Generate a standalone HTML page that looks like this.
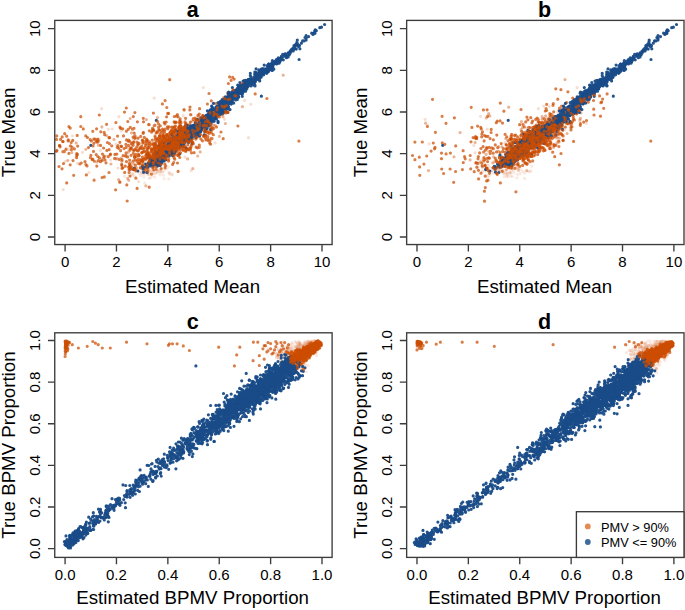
<!DOCTYPE html>
<html><head><meta charset="utf-8"><title>plots</title>
<style>
html,body{margin:0;padding:0;background:#fff;width:685px;height:610px;overflow:hidden}
svg{display:block}
text{font-family:"Liberation Sans",sans-serif;fill:#000}
.tk{font-size:15px}
.lab{font-size:18.7px}
.ttl{font-size:21.5px;font-weight:bold}
.lg{font-size:12.8px}
</style></head><body>
<svg width="685" height="610" viewBox="0 0 685 610">
<rect width="685" height="610" fill="#fff"/>
<g stroke-width="3.2" stroke-linecap="round" fill="none">
<path d="M152.6 175.7h0M154.7 177.1h0M133.7 169.4h0M169.8 174.2h0M164.1 178.6h0M148.8 169.6h0M133.7 164.2h0M158.3 162.7h0M144.1 174h0" stroke="#cc4c02" stroke-opacity="0.12"/>
<path d="M158.2 171.2h0M129.1 175h0M167 168.7h0M156.9 163.9h0M160 171.6h0M124.7 176.4h0M160.5 171.2h0M158.9 171.2h0M147.4 174.3h0M150.9 170.7h0M171.9 175h0M168.4 167.1h0M152 167.8h0M132.9 173.5h0" stroke="#cc4c02" stroke-opacity="0.12"/>
<path d="M172.4 174h0M149.2 167.4h0M141.6 172.8h0M158.7 172.7h0M168.8 172.9h0M150.1 174.1h0M142.3 171.6h0M131.6 166.3h0M144.6 159.4h0M148.3 173.4h0M159.2 171.1h0M149.1 174.4h0M154.2 173.7h0M156.8 173h0M133.2 174.9h0M129.3 162.4h0M142.6 166.6h0M160.2 174.8h0M153.5 173h0M156.5 166.8h0" stroke="#cc4c02" stroke-opacity="0.12"/>
<path d="M143.2 172.6h0M150.6 177.7h0M139.4 173.1h0M162.4 172h0M158.5 170.3h0M156.8 171.7h0M144 169.9h0M161.4 172.2h0M148.2 167.7h0M143.8 176.9h0M154.2 165.2h0M149.2 170.1h0M142.5 165.7h0M148.6 174.2h0M148.6 170h0" stroke="#cc4c02" stroke-opacity="0.12"/>
<path d="M145.6 171.1h0M151.8 162.9h0M141.9 172.2h0M140.9 167h0M163.9 171.1h0M130.8 170.4h0M141.4 171.9h0M169.7 172.5h0M147.5 169.7h0M132 174.2h0M148.4 169.4h0M134.7 176.6h0M149.9 171.5h0M168.8 178.9h0M161.6 171.1h0" stroke="#cc4c02" stroke-opacity="0.12"/>
<path d="M136.2 171.2h0M153.3 173.5h0M140.4 175.6h0M164.5 166.4h0M160.8 169.1h0M149.1 178.3h0M135.4 167.1h0M132.2 168.2h0M155.9 172.9h0M148 172.7h0M163.3 175.1h0M142.3 173.8h0M130.2 168.1h0M152.6 170.9h0M145.7 171h0M148.1 170.5h0M144.7 183.2h0" stroke="#cc4c02" stroke-opacity="0.12"/>
<path d="M185.9 150.2h0M175.4 144.2h0M157.7 151.4h0M190.7 122.1h0M161.6 145.7h0M151.7 149.7h0M168.6 152h0M151.2 158.2h0M105.8 156.1h0M170.7 130.8h0M191.5 114.8h0M183.8 140.2h0M177.9 137.7h0M144.5 143.1h0M190.7 126.4h0M162 149.9h0M165.5 146.6h0M150 154.3h0M161.8 152.1h0M187.1 135.3h0M174.5 137.9h0M170.2 141h0M199.7 122.3h0M155 154.5h0M189 129.6h0M194 121.7h0M183.2 115.7h0M110.6 159.9h0M116.1 144.3h0M77.5 163.4h0M121.2 130.8h0M118.9 116.7h0M189 150.9h0M181.5 140.2h0M182.3 127.7h0M248.5 137.7h0M183.3 128.3h0M224.6 119.3h0M171.7 141.5h0M101.7 108.7h0" stroke="#cc4c02" stroke-opacity="0.18"/>
<path d="M164.9 149.9h0M189.2 137.9h0M164.7 147.4h0M175.1 124.1h0M152.5 167h0M167.1 136.6h0M175.5 134.4h0M147.4 157.4h0M180.6 137.6h0M174.5 150h0M156.1 151.1h0M138.7 147.2h0M198 116.4h0M169.3 142.6h0M155.7 154.9h0M182.1 122.7h0M178.8 132h0M177 132h0M156.9 157h0M146 160h0M145.6 160.3h0M160.3 157h0M131.4 167.9h0M184.9 157.1h0M72.4 135.8h0M68.7 149.4h0M117.9 168h0M82.5 152.4h0M108.3 129.3h0M133.4 139.2h0M250.8 104.3h0M181.6 129.2h0M193.1 142h0M244.6 100.4h0M241.7 85.3h0" stroke="#cc4c02" stroke-opacity="0.18"/>
<path d="M175.4 140h0M138.9 159.5h0M154.7 152.1h0M138.1 154h0M192.7 121.2h0M144.1 156.7h0M183.6 140.4h0M162.8 143.4h0M151.2 151.4h0M181.7 139.5h0M176.6 134.4h0M157.9 154.3h0M179.9 122.9h0M165.5 156.2h0M199.7 121.1h0M155.1 150.4h0M134.1 167.1h0M197.8 136.5h0M177.7 145.5h0M179.7 132.9h0M127.2 154.9h0M137.5 170.8h0M128.6 150.1h0M198.2 123h0M216.6 103.9h0M170.6 151.7h0M191.2 170.6h0M257.7 73.8h0M172.8 156.3h0M215.1 142.9h0M205.5 119.2h0" stroke="#cc4c02" stroke-opacity="0.18"/>
<path d="M178.5 140.4h0M178.4 146.8h0M151.2 160.7h0M150.7 151.8h0M174 145.4h0M164.3 147h0M161.8 148.5h0M166.6 150h0M173 140.1h0M166.9 127.5h0M165.3 133.9h0M160.6 150h0M159.9 146.2h0M209.4 132.2h0M198.6 134.9h0M155.7 141.7h0M174 143.8h0M171.3 138.5h0M181.5 128.7h0M143 159h0M195.4 134h0M170.1 140.7h0M171.4 144.7h0M152.9 169.9h0M88.9 172.6h0M72.1 140.5h0M100.4 150.3h0M112.2 129h0M66.5 148.4h0M65.2 161.4h0M63.2 189.6h0M127.1 140.7h0M203.3 87.6h0M138.6 181.6h0M229.6 93.4h0M223.2 98h0M208.1 119.9h0M219.7 107.8h0M154.2 98.1h0" stroke="#cc4c02" stroke-opacity="0.18"/>
<path d="M206.8 123.7h0M180.6 143h0M168 142.3h0M199.5 136.9h0M162.9 146.6h0M166.9 141.2h0M170.4 144.8h0M142.5 164.5h0M143.2 162.5h0M185.7 142.6h0M140.4 147.9h0M167.3 140.8h0M171.6 139.2h0M166.5 150.3h0M152.8 167.3h0M163.4 136.8h0M181.4 142h0M160.2 147.9h0M154.5 146.2h0M186.3 127.4h0M147.9 163.4h0M189 137.1h0M157.7 151h0M142.8 151.3h0M151.6 152.8h0M71.8 152.5h0M85.8 149.3h0M106.6 135.6h0M98 142.2h0M133.2 163.3h0M98.4 145.2h0M110.9 164h0M134.9 157.8h0M131.5 162.4h0M180.4 133h0M283.2 75.2h0M225.4 123.5h0M242.4 106.7h0M219.4 136.3h0M174.9 138.9h0M197.7 126.7h0M187 140.9h0" stroke="#cc4c02" stroke-opacity="0.42"/>
<path d="M158.5 146.9h0M166.1 150.2h0M160.2 147.1h0M172.3 127.8h0M170 139.8h0M155.6 148.9h0M166.5 147.3h0M191.8 125.8h0M128.8 167.2h0M184.9 136h0M154.6 149.2h0M182.8 139.9h0M153.6 145.1h0M164.2 132.9h0M170.2 144.9h0M144.6 172h0M159.4 149.1h0M172.7 127.2h0M180.8 142.6h0M150.7 148.7h0M161.8 156.8h0M148.7 147.6h0M200 117.4h0M162.8 139.1h0M196.6 132.5h0M174.6 152.3h0M132.7 168.1h0M95.7 141.9h0M76.2 142.9h0M121 158.2h0M67.8 160.5h0M134.5 156.8h0M128.4 152.2h0M117.1 158.3h0M132 145.9h0M98.9 139.9h0M130.2 118.5h0M145.9 185.8h0M151.2 145.2h0M187.6 158.9h0M209.1 118.9h0M148.4 124.4h0" stroke="#cc4c02" stroke-opacity="0.42"/>
<path d="M182.4 147.6h0M159.5 147.4h0M168.4 156h0M182.3 131.7h0M193.7 127.1h0M188 139h0M181.9 130.9h0M181.4 130.5h0M180.1 130.3h0M200 134h0M145.7 159.4h0M192.6 142.2h0M164.4 160h0M186.5 136.5h0M156.7 145.2h0M148.1 152.7h0M176.7 143.8h0M215.5 125.5h0M147.6 149.1h0M155.5 160.6h0M203.7 125.8h0M178.1 149.7h0M154.6 155.4h0M128.7 180.3h0M161.9 146.6h0M187.1 140.9h0M169.3 137.5h0M125.9 156.7h0M114 139.4h0M192.8 168.6h0M153.5 164.5h0M184.2 110.3h0M216.4 108.2h0M227.4 92.8h0M223.5 97.5h0M212 124.3h0M211.8 130.6h0M157.5 117.6h0" stroke="#cc4c02" stroke-opacity="0.42"/>
<path d="M164.1 153.6h0M146.4 119.6h0M127.7 178.4h0M140.5 168.1h0M166.7 134.9h0M191.1 141.3h0M156.9 147.8h0M145.6 167h0M223 116.7h0M159 154.3h0M136.7 167.9h0M158.4 152.5h0M175.5 144.2h0M144.2 168.6h0M184.4 136.8h0M186.8 132.9h0M178 140.5h0M169.4 149.4h0M177.3 139.5h0M173.6 146.4h0M181.3 138.6h0M146.9 151h0M118.6 179.6h0M174.1 155.3h0M163.6 149.8h0M163.8 149.1h0M159.2 149.8h0M150.4 161.3h0M161.6 146.6h0M176.5 146.6h0M154.3 155h0M148.1 157.3h0M163.6 141.1h0M130.3 169.7h0M101.2 159.5h0M135.9 137.8h0M115.9 159h0M101.9 126.9h0M121.7 161.3h0M96.5 162h0M131.4 132.8h0M132 142.4h0M119.9 182.4h0M200.2 151.9h0M197.7 156h0M216.8 117.6h0M213.8 125.2h0" stroke="#cc4c02" stroke-opacity="0.42"/>
<path d="M169.6 147.4h0M275.8 62.8h0M281.4 57.4h0M252.9 80h0M218 111.3h0M263.7 74.7h0M203.7 116.5h0M268.8 69.6h0M177.8 144h0M154.3 160.8h0M191.3 128.4h0M190 128.5h0M208.3 121h0M188.4 131.3h0M166.5 148.7h0M150.8 164.7h0M186.7 130.2h0M201.7 119.9h0M243.1 81h0M276.6 64h0M171.5 149.6h0M157.4 162.8h0M168.2 147h0M191.7 126.6h0M156.3 153.9h0M229.5 102.4h0M218.4 109.3h0M211.4 122.2h0M156.3 157.2h0M200.3 127.9h0M191.2 139.2h0M211.6 106.2h0M298.4 46.5h0M152 160.6h0M225.7 99.8h0M269.6 68.1h0M195.3 133.2h0M171 147.6h0M217.9 109.3h0M251.7 79.5h0M163.7 149.9h0M222.5 101.1h0M199 122h0M146.6 165.5h0M293.6 47.7h0M155.2 157.8h0M306.1 35.5h0M207.1 128.5h0M180 135.8h0M205.9 123.8h0M200.5 125h0M291.6 49.6h0M154.3 154.2h0M274.5 61.3h0M200.3 124.6h0M240.3 87.1h0M197.5 130.3h0M161.2 152.3h0M268.5 66.9h0M232.8 97.4h0M279.3 61.6h0M209.2 116.4h0M221.6 105.3h0M167.8 149.7h0M202.5 128h0M155.7 159.1h0M173 147.3h0M260.5 72.2h0M155.9 164.7h0M221.9 104.7h0M223.8 112.5h0M200.4 128.6h0M285.1 54.8h0M193.1 128.3h0M203.5 121.1h0M211 113.1h0M244.3 86.8h0M154.4 161.7h0M170.9 153h0M166.2 152.6h0M154.7 164.5h0M272.1 67.5h0M224.5 103.6h0M177.5 148h0M171.5 151.5h0M232.9 92.7h0M220.9 108.2h0M199.7 128.3h0M197.9 129.2h0M199.9 126.6h0M228.4 103.2h0M187.8 129.6h0M214.8 117.5h0M265.9 68.8h0M186.9 130.7h0M258.8 69.9h0M173.4 147.4h0M235.9 92.1h0M233.3 97.1h0M208.9 118.7h0M268.5 65.7h0M255.1 81.4h0M268.4 68.5h0M278.4 62.8h0M187 136.3h0M179.9 142.1h0M187.2 132h0M193.4 132.9h0M187.5 128.6h0M143.6 172.2h0M271.9 62.9h0M183.9 140.8h0M181.8 131.1h0M299.5 45.6h0M272.3 70.5h0M191.8 131.6h0M170.8 146.3h0M214.9 112.7h0M235.9 95.6h0M230.9 96.6h0M157.8 161.1h0M232.7 98h0M167.4 147.1h0M261.3 69.4h0M236.9 92.3h0M293.2 50.9h0M207.3 122.6h0M206.8 116.2h0M172 147.2h0M193.3 129.8h0M268 71.5h0M179.1 138.5h0M173.2 144.3h0M240.6 85.8h0M258.6 75.6h0M200.7 127.1h0M244 89.3h0M242.9 92h0M161.8 153.8h0M244 86.8h0M173.6 140.7h0M160.8 154.7h0M174.5 147.7h0M220.6 102.2h0M173.5 140.5h0M216.2 107.1h0M294.9 45.8h0M221.9 106.8h0M244.6 87.5h0M235.4 94.3h0M223.7 105.2h0M198.1 132.1h0M256.3 72.5h0M235.6 90h0M173.2 145.1h0M230 109.6h0M245.6 83.6h0M279.1 63.2h0M238.2 95.7h0M167.4 149.5h0M212.7 110.1h0M214.2 121.2h0M167.7 152.2h0M173 136.7h0M237.4 88.4h0M236.9 93.3h0M189.6 130.2h0M156.8 157.4h0M202.4 118.3h0M205.7 121.2h0M228.5 106.6h0M201.5 119.9h0M253.3 81.1h0M216.5 112.3h0M231.1 96.3h0M240.9 92.1h0M176.8 143.6h0M249.8 80.2h0M269.8 65.5h0M195.4 134.7h0M197.5 125h0M223.8 109.5h0M221.8 106.1h0M161.6 154.1h0M161.4 156.9h0M164.5 151.3h0M245.5 87.3h0M154.9 153.9h0M227.5 112.4h0M229.5 97.4h0M221.6 108.6h0M225.8 101.8h0M167.7 150.1h0M148.1 155.4h0M211.6 120.6h0M235.3 96h0M226.3 106h0M192.2 136h0M236 96.5h0M278.9 59.4h0M233.1 96.5h0M222.3 102.1h0M215.6 111.9h0M279.3 59.2h0M207.9 117.5h0M261.1 72.7h0M230.7 94.6h0M171.6 148.7h0M196.1 137.7h0M263 70.9h0M179 142.1h0M281.2 58.4h0M314.7 31.1h0M319.8 27.7h0M280.4 58.7h0M245.6 87.8h0M151.2 162h0M216.2 110.7h0M174.3 147.1h0M242.5 88.3h0M182.5 135.4h0M165.3 159.5h0M160.3 148.8h0M196.1 133.8h0M201.2 124.8h0M190.1 127.7h0M181.3 144.2h0M215.8 107.3h0M233.5 96.7h0M186.4 135.9h0M166.1 149.5h0M197.1 131.4h0M257.3 74.5h0M244 88.8h0M150.3 165.9h0M243.8 87.1h0M220.5 107h0M215.7 113.8h0M250.3 75.6h0M186.8 132.7h0M217.4 106.1h0M217.5 108.8h0M176.9 140.9h0M244 82.6h0M214.1 115.8h0M254.6 81.9h0M222.5 109.3h0M186.6 138h0M183 137.2h0M193.6 129.9h0M237.4 89.3h0M205.4 129.2h0M155.5 162h0M225.7 101.3h0M261.5 71.8h0M133.7 169.6h0M226 106.6h0M179.7 142.9h0M261.4 72.3h0M175.1 148.9h0M206.3 116.8h0M214.8 116.2h0M229.7 99.1h0M238 95.4h0M280 60.2h0M165.5 145.6h0M187.7 136.4h0M171.9 149.7h0M239.9 82.5h0M231.8 94h0M237.6 92.5h0M245 83.6h0M271 67.3h0M162 159.7h0M231.8 101.7h0M163.3 155.6h0M185.7 131.2h0M233.5 94.4h0M147 172.5h0M217.9 110.9h0M225.7 109.1h0M185.3 130h0M227.3 96.9h0M172.5 154.3h0M164 153h0M180.7 138.5h0M190.3 134.5h0M162.7 159.3h0M222 104h0M171.2 147.3h0M245.6 91.2h0M162.3 142.7h0M246.1 86h0M193.6 131.5h0M234.5 93.6h0M281.4 59.2h0M201.8 125.6h0M192.6 129h0M243.4 87.8h0M227.3 98.5h0M250.1 79.6h0M272.8 64.1h0M163.3 152.7h0M263.6 74.9h0M256.2 78.4h0M229 102.6h0M221.3 107.4h0M276 62h0M183.5 139.6h0M218 121.3h0M157.8 158.6h0M297.1 41.9h0M182.1 137.2h0M201 123.3h0M324.6 24.5h0M313 34.5h0M297.3 40.1h0M299.1 46.4h0M295 48.4h0M284.7 54.1h0M299.1 59.5h0" stroke="#184b87" stroke-opacity="0.95"/>
<path d="M141.7 152.6h0M179.5 137h0M168.8 142h0M159.8 146h0M199.3 114.1h0M171.5 154.8h0M164 136.7h0M134.8 155.5h0M147 167.3h0M167.8 128.8h0M190.3 140.8h0M160.1 162.7h0M175.2 129.8h0M195.2 118.1h0M180.1 144h0M157.3 132.2h0M170.5 143.2h0M171.6 134.6h0M173.5 153h0M171.7 147.8h0M158.4 145.9h0M140 163.9h0M164.7 151.7h0M166.5 135.2h0M175.1 142.1h0M182.5 138.1h0M149.4 143.4h0M159.7 130h0M174.9 122.4h0M163.3 138.5h0M194.7 129.9h0M186.4 137.1h0M171.7 147.5h0M165 138.2h0M174.4 138.1h0M185.3 138.1h0M187.6 132.3h0M170.3 148.6h0M160.3 125.8h0M168.3 141.3h0M150.2 156.3h0M162.2 152.2h0M172 141.7h0M153.8 130.5h0M174.9 144.5h0M173.1 131.5h0M209.9 131.7h0M150.4 156.5h0M149.1 124.7h0M173.6 145.8h0M183.7 133.3h0M173.3 146.7h0M138.2 163.5h0M160.3 147.7h0M135.6 154.3h0M155 136.1h0M160.2 143.6h0M163.6 150.7h0M205.5 138.1h0M174.9 136.2h0M175.6 142.7h0M147.1 149h0M174 131.8h0M161.9 153.6h0M142.8 140.6h0M183.7 132.2h0M155.1 150.9h0M130.1 164.9h0M163 144.8h0M131.1 155.3h0M174.2 149.7h0M179.8 125.4h0M165.9 148h0M146.8 157.5h0M196.9 134.7h0M180.8 122.7h0M120.7 128.4h0M119.1 159.5h0M100.5 161.7h0M76.6 157.7h0M77.7 146.1h0M62.9 151.7h0M70.4 145.9h0M96.4 140.4h0M80 163.9h0M81.2 163h0M68.3 139.9h0M104.7 134.7h0M74.4 148.9h0M64.3 151.7h0M95 139h0M80.8 126.5h0M126.5 161.6h0M123.1 155.7h0M138.5 150.4h0M137.1 142.1h0M196.1 147.2h0M152.2 161.4h0M182.4 132.3h0M151.2 163h0M163.1 160.6h0M204 136.5h0M174.5 126.9h0M208.7 114.5h0M177.2 145.2h0M165.1 153.5h0M216.2 103.3h0M229.6 76.9h0M234.1 79.1h0M219.3 102.8h0M221.5 107.1h0M185.7 151.5h0M208.5 115.9h0M186.3 148.7h0M211.3 100.8h0M193.1 138.5h0M207 130.6h0M215.5 117h0M222.8 114.1h0M208 140.5h0M184.6 142.2h0M179 146h0M229.6 96h0M143.5 121.8h0M130.3 127.4h0M126.3 108h0" stroke="#cc4c02" stroke-opacity="0.72"/>
<path d="M168.7 150.2h0M223.7 101.4h0M213.1 114.9h0M231.5 98.6h0M173.6 152.3h0M248.4 83.6h0M222.5 106.5h0M180.4 140.1h0M168.4 149.9h0M186.7 137.6h0M210.6 129.3h0M170.8 148.3h0M177.5 141h0M209.2 120h0M269.5 66.4h0M238.7 97h0M160.9 159.7h0M221.4 106.4h0M163.5 153.5h0M153.9 164.1h0M206 118.2h0M241.2 89.4h0M160.7 157.5h0M268.3 69.2h0M165.2 154.1h0M257.9 74h0M176.2 139.8h0M185.1 139.9h0M155.3 159.3h0M165.6 159.9h0M321.5 27.2h0M177.2 135.4h0M227.1 105.9h0M183.9 144h0M166.9 151.2h0M195.1 130.7h0M186.5 130h0M169.8 153.4h0M162.5 153.3h0M251.2 82.4h0M237.1 90.8h0M181.6 134.9h0M214.9 118.6h0M222.3 103.6h0M192 126.8h0M200.5 123h0M212.7 107.7h0M249.2 85.3h0M242.8 86.9h0M228 99.8h0M235.3 95.6h0M205.2 120.7h0M162.9 159.3h0M233.4 90.8h0M263.7 70.1h0M208.9 122.3h0M167.1 147.3h0M208.5 113.9h0M172.1 151.8h0M216 112.4h0M166.8 150.2h0M238.7 93.2h0M241.7 90.3h0M161.7 154.1h0M170.7 146.2h0M161 155.4h0M196.4 125.2h0M206.6 121.1h0M264 72.5h0M272.7 65.8h0M266 70h0M170.7 147.2h0M213.5 103.4h0M228.4 96.4h0M271.1 64.2h0M236.5 96.2h0M173.7 147.3h0M191 130.9h0M199.6 125.5h0M220.2 106.5h0M272.8 67.3h0M181.8 139.2h0M156.9 164.7h0M236.5 90.6h0M250.1 85.5h0M173.1 153.7h0M192.9 135.5h0M153.8 154.5h0M241.2 87.8h0M164.8 147.2h0M148.1 163.6h0M173.1 141h0M157.2 152.7h0M237.8 90.6h0M255.6 79.1h0M182.2 139.4h0M249.9 79.1h0M176 140.7h0M192.1 136.9h0M187.8 132.6h0M197.8 127.8h0M262.8 68.7h0M187.7 134.9h0M245.7 80.3h0M172.1 143.4h0M244.5 87.7h0M235.2 92h0M246.6 84.1h0M268.6 71.3h0M198.6 135.6h0M260.4 77.7h0M166 154.7h0M206.7 121.4h0M212.9 113.9h0M170.6 147.3h0M222.2 113.4h0M204.1 117.8h0M184.1 138.9h0M179.5 140.6h0M151.6 163.6h0M176 130.4h0M175 148.5h0M179.8 141h0M170.3 147.4h0M225.5 101.9h0M196.6 126h0M221 108.5h0M158.5 156.9h0M226.4 101h0M288.1 57h0M154.5 156.7h0M269.4 66.8h0M297.5 44.5h0M210.1 125.1h0M220.8 104.9h0M226.6 100h0M273.8 64h0M296.3 49.1h0M268.6 69.5h0M226.2 103.5h0M189.5 133.8h0M208.2 119.4h0M227.5 104.5h0M192.1 143.5h0M266.1 72.5h0M166.6 152.4h0M193.3 129.7h0M305 37.5h0M180.3 134.3h0M163.2 159.8h0M206.8 119.2h0M186 140.2h0M234.8 91.7h0M163.6 148.7h0M159.1 152.1h0M176.9 139.8h0M177.6 142.5h0M180.3 142.4h0M209.7 118.4h0M171.5 145.2h0M185.4 139.2h0M172.1 145.2h0M158.9 154.7h0M182.5 138.3h0M228.7 92.1h0M209.5 111.5h0M176.5 144.2h0M240.3 85.6h0M183.4 132.5h0M204.1 125.9h0M188.5 142.6h0M159 145.9h0M212.5 109.2h0M193.6 129.8h0M202.3 126.3h0M185.8 135.8h0M258.1 75.8h0M194.1 125.6h0M187.3 132.6h0M262.2 73.7h0M224.3 99.6h0M186 138.1h0M188.3 141h0M256.2 74.2h0M148 155.2h0M191.8 127.9h0M221.2 107.8h0M251.2 80.8h0M271.6 65.1h0M183.5 137.3h0M270.9 65.4h0M251.3 83.1h0M185.8 147.8h0M178.7 136.4h0M190.3 136.2h0M163.2 147h0M242.7 88.9h0M216.6 107.4h0M220.7 106.9h0M160.2 162h0M168 142.1h0M251.4 77.3h0M201 122.8h0M208.7 119.1h0M163.1 156.2h0M222.4 110.5h0M263.5 70.3h0M216.2 110.6h0M218.3 113.5h0M308.6 36.6h0M214.5 115.5h0M225 98.5h0M177.3 141.6h0M232.4 97.9h0M163.9 160.4h0M220.9 104.3h0M165.5 156.6h0M180.1 141h0M206.4 121.1h0M187.4 130.1h0M162.7 152.4h0M202.2 124.8h0M169.2 156.1h0M198.4 133h0M221.2 111h0M259.2 71.6h0M217.9 115.3h0M161.3 163.4h0M187.2 134.1h0M201.2 125.4h0M251 85.9h0M147.3 165.9h0M230.8 101.2h0M199.8 124.1h0M226.3 101.4h0M201.4 117.8h0M182.4 135.3h0M178.6 134.9h0M272.5 64.7h0M233.1 96.8h0M268.8 68.5h0M161.6 162.7h0M184.8 126.6h0M248.4 79.3h0M263.1 71.8h0M175.5 141.4h0M218.8 105.6h0M241.7 86.6h0M241.7 89.4h0M213.6 109.4h0M197.9 135.1h0M256.1 68.9h0M236.2 97.9h0M199.1 127.9h0M178.3 139.5h0M234 92.8h0M207.9 115.8h0M256 78.6h0M240.8 85.1h0M190.7 135.3h0M197.2 131.9h0M273.8 69.2h0M267.4 72.4h0M232 94.3h0M232 94.5h0M173.9 141.9h0M233.4 97.9h0M207.5 115.8h0M249.9 80.9h0M246.9 86.9h0M214.4 113.4h0M204.2 134.8h0M263.3 72.2h0M150 161.1h0M180.9 140.9h0M306.2 38.3h0M222.5 103.4h0M174.5 144.9h0M179.3 134.8h0M204.8 131.6h0M212 115.2h0M260.8 76.8h0M289.1 55.1h0M176.1 148.1h0M187.3 140.4h0M170 150.5h0M281.3 56.4h0M206.7 126h0M196.8 130.5h0M185.7 139.2h0M192.3 128.4h0M169.8 140.4h0M165.4 150.2h0M242.1 94.1h0M184 143h0M134.4 168.3h0M151.8 160.3h0M160.2 156h0M232.1 100.7h0M221.6 112.7h0M280.8 58.7h0M179.8 133.7h0M177.4 145.9h0M280.3 58.7h0M273.1 65.5h0M208.9 116.2h0M295.7 45.4h0M191.3 132.7h0M164.3 148.7h0M201.5 123.4h0M200.4 132h0M199 126h0M231.2 94.9h0M250.1 84.2h0M315.6 30.8h0M242.3 96.3h0M250.4 78.9h0M228.5 102.2h0M225.1 101.8h0M260.7 75.7h0M237.2 92.6h0M266.7 73.3h0M161.4 157.6h0M171.5 149.6h0M198 125.1h0M168.5 154.8h0M237.8 94.4h0M260.4 75.4h0M294 45.5h0M231.8 93.8h0M190 138.9h0M235.3 95.8h0M202.6 118.3h0M202.5 124.3h0M179.1 136h0M287.5 56.5h0M165.3 156.9h0M212.1 108.5h0M203.2 116.9h0M213.1 115.9h0M176.8 139.6h0M201.7 128.4h0M215.8 111.9h0M172.2 145.7h0M211.3 119h0M198.9 130.4h0M316.3 30.7h0M311.7 33.2h0M306.1 40.1h0M288.6 53.2h0M301.4 43.2h0" stroke="#184b87" stroke-opacity="0.95"/>
<path d="M190.2 139.2h0M174 131.9h0M179.7 145.9h0M187.8 125.7h0M169.2 145.6h0M166.9 134.6h0M191.5 144.8h0M169.8 147.3h0M131 168.6h0M178.2 143.3h0M133.7 150.5h0M164.7 138.6h0M162.1 141.3h0M165.8 139.9h0M163.4 149.6h0M140.6 147.9h0M163.8 144.8h0M163 130.7h0M178 146.5h0M162.7 153.2h0M142.7 143.1h0M155 156.7h0M157.6 138.6h0M163.1 143.2h0M161.7 147.3h0M181 146.3h0M177.1 134h0M170.2 143.8h0M151.3 151.2h0M181.8 143.9h0M163 148.2h0M158.1 148h0M191.1 132h0M146.1 158.6h0M187.4 133.2h0M158.7 151.9h0M180.3 126.7h0M164.5 144h0M167.4 144.4h0M172 149.6h0M145.2 158.1h0M146.5 154.5h0M167 137.9h0M155.4 139.5h0M157.3 162.8h0M163.1 135.9h0M179.3 128.7h0M171.2 150.8h0M176 122h0M170.6 133.8h0M158.3 155.8h0M129.3 163.7h0M148.8 162.2h0M172.7 151.7h0M189.5 124.5h0M180 126.5h0M184.8 127.3h0M140.7 136.4h0M186.1 123.5h0M173.3 142.6h0M193.3 143.8h0M201.1 127.2h0M178 139h0M189 136.7h0M162.9 147.2h0M172 135h0M177.6 147.2h0M164.8 163.8h0M173.5 132.8h0M149.5 154.8h0M154.6 152.1h0M180.6 125.8h0M180.9 139.4h0M153.9 143.2h0M180.7 127.4h0M177 143.7h0M177 138.8h0M159.2 151.3h0M179.5 127h0M150.2 158.1h0M139.3 155.6h0M208.9 133.4h0M138.9 163.4h0M152.4 130.4h0M167.8 139.3h0M205.5 131.4h0M171.3 146.8h0M159 151.3h0M193.5 131.6h0M66.7 136.2h0M136.1 156.5h0M102.1 177.5h0M92.8 131.3h0M85.9 164.6h0M85.8 135.9h0M90.9 155.3h0M117.2 147.3h0M71.2 142.5h0M126.5 139.9h0M119.8 181.9h0M56.9 150.4h0M90.4 157.5h0M98.4 160.7h0M70.2 128.1h0M125.9 144.4h0M133.1 137.2h0M126.2 147.4h0M130.1 176.1h0M116.8 154.1h0M137.9 145h0M209 93.5h0M223.2 138.7h0M256.7 76.9h0M178.3 155.1h0M212.1 129.3h0M196.6 119.8h0M207.9 136.6h0M213.3 134.7h0M179.3 144.8h0M142.8 168.6h0M233.5 96.6h0M176.4 137.4h0M228.1 94.3h0M244.8 85h0M166.8 107.5h0M190 107h0M120 127.2h0" stroke="#cc4c02" stroke-opacity="0.72"/>
<path d="M213.1 117.1h0M233.7 98.6h0M207.4 110.8h0M210.5 118.2h0M271.3 69.9h0M168.8 144.6h0M234.6 95h0M159.3 165.1h0M191.9 136.3h0M259.4 79.2h0M177 144.5h0M157.4 166.1h0M186.6 134.5h0M242.4 93.3h0M299.9 48.8h0M191.2 134.5h0M183.1 140.7h0M255 73.8h0M242.6 90h0M212.8 108.4h0M168.9 146.5h0M208.6 124.8h0M196.2 130.3h0M231.3 103.8h0M158.2 162.4h0M226.7 99.3h0M168.9 150h0M288.2 52.9h0M270.8 67.2h0M247.6 82.5h0M185.1 141.7h0M187.3 136.5h0M248.3 80.8h0M228.7 94.6h0M239.8 85.8h0M197.3 126.2h0M262.5 70.5h0M238.1 85.6h0M246.7 83.5h0M221.5 110.6h0M217.4 109.8h0M249.7 80.9h0M261.9 70.3h0M195.8 127.5h0M167.3 156.1h0M227 104.7h0M261.9 74.7h0M262.2 73.4h0M193.6 127.3h0M212.6 115.2h0M178.5 141.5h0M225.5 104.9h0M154.5 162.6h0M158.9 160.8h0M192.8 126h0M251.1 80.4h0M169.4 152.8h0M177.7 147.4h0M238.5 91.5h0M195.5 136.4h0M290.2 51.1h0M210.7 117.7h0M174.6 149.2h0M174.1 147.2h0M200.2 127.6h0M214.5 113.6h0M209.3 120.4h0M205.4 123.3h0M223.4 106.9h0M211.3 110.2h0M155.8 152.3h0M266.2 70.2h0M171.5 142.3h0M225 110.7h0M137.9 171h0M201.5 130h0M217.7 110.2h0M201.8 118.8h0M254.2 79.7h0M272.5 64.6h0M199.2 122.5h0M233.3 94.8h0M237.3 99.5h0M234.8 96.8h0M200 124.6h0M183.3 135h0M171.7 134.3h0M188.4 140.4h0M233.8 96.9h0M232.5 95.5h0M223.8 110.4h0M238.3 94.1h0M278.5 61.5h0M275.6 63.4h0M251.3 82.9h0M224.9 103.2h0M288.8 54.6h0M173.2 143.3h0M228.4 100.6h0M214 115.4h0M186.7 128.3h0M206.4 116.9h0M182.2 138.1h0M284 56.3h0M279.2 59.3h0M247.7 86.8h0M221.6 110.3h0M240.5 92.7h0M204.1 119.6h0M302.6 40.9h0M290 53.5h0M171.1 146.5h0M208.1 121.7h0M239.3 87h0M195 136h0M145.6 164h0M261.6 73.3h0M182.4 145.3h0M216.5 115.9h0M231.1 94.6h0M251.1 83.5h0M213 121.1h0M218.8 105.7h0M244.3 80.6h0M205.8 123.6h0M188.9 131.1h0M160.4 151.4h0M276.4 59.7h0M257.7 76.7h0M272.4 65.8h0M304 40.9h0M218.1 110.7h0M173.7 151.2h0M188.1 131.9h0M285.7 55.4h0M255.3 81.5h0M280.3 60.5h0M142.6 166.3h0M204.5 121h0M175.5 144.1h0M173 147.4h0M194.9 128.1h0M232.4 87.6h0M155.2 160.7h0M194.8 128.2h0M237.1 98.5h0M162.8 154.1h0M224.3 112.1h0M218.7 108.8h0M297.7 45.1h0M176 150.8h0M257.4 77.6h0M199.6 135.8h0M262.2 72.1h0M187.4 139h0M175 139.8h0M255.4 75.1h0M182 136.2h0M216.5 119h0M237.7 85h0M243.2 84.9h0M204.6 122.5h0M264.5 70h0M177 140.2h0M162.4 155.4h0M216.8 106.6h0M165.3 149.3h0M182.6 140.1h0M195.5 123.7h0M184 134.2h0M242.7 90.1h0M220.9 106.8h0M158 158.2h0M183.6 134.8h0M268.6 64h0M182.7 142.8h0M216.8 110.3h0M194.5 133.1h0M219.2 108.6h0M204.2 119.8h0M181.5 142.2h0M223.3 106.2h0M222 107.1h0M220.7 103.9h0M190.5 131.5h0M218.3 102.6h0M225.9 102.7h0M172.3 147.4h0M165.9 155.1h0M143.1 169.1h0M196.3 127.5h0M295.9 44.2h0M239 89.7h0M201.7 122.5h0M163.9 148.5h0M186.6 131.9h0M210.4 111.3h0M183.5 140.5h0M204.8 124.4h0M239.6 89.8h0M235.6 99.9h0M142.4 166.7h0M182.7 139.4h0M204.2 123.8h0M267.1 65.7h0M187 133.5h0M156.9 159.2h0M233.3 96h0M172.6 144h0M225.3 96.9h0M190.6 126.1h0M241.7 91.2h0M254.7 82.5h0M150.5 158.3h0M163.4 154.7h0M240.5 91.1h0M203.1 125.1h0M280.5 59.2h0M151 164.3h0M174.5 145.1h0M200.2 121.9h0M276.7 62.5h0M275.7 62.3h0M238.3 90h0M206.6 120.1h0M241.2 93.7h0M164 155.5h0M189.8 131.3h0M175.7 142.2h0M246 86.2h0M235.9 96.1h0M226.1 98.2h0M243.6 91.2h0M201.1 119.5h0M206.5 119.2h0M231 92.6h0M204.4 126.9h0M201.8 127.2h0M206.8 118.9h0M194.9 124.5h0M270.6 66.6h0M164.4 142.7h0M254.8 72h0M181.1 129.9h0M183.7 142.9h0M257.4 77.5h0M248.9 82.3h0M219.1 110h0M245.3 82.6h0M254.2 79.9h0M176.9 136.8h0M227.4 101.9h0M211 111.9h0M163.3 161.1h0M183.1 132.4h0M226.4 104.5h0M227.1 98h0M160.1 165.6h0M197.5 119.4h0M188.4 138.9h0M259.1 75.3h0M201.6 123.8h0M245.6 86.1h0M149 163.7h0M168.8 140.8h0M168.1 147.5h0M162.8 156.4h0M244.3 84.6h0M209.9 121.9h0M224.8 98.8h0M272.4 64.5h0M265.6 72.2h0M175.9 150.8h0M229.5 99.5h0M166.4 146h0M255.7 73.2h0M227.2 103.7h0M259.7 72.8h0M293.6 49.2h0M243.1 90.7h0M166.8 147.5h0M250.9 82.9h0M186.3 133.1h0M242.1 89.1h0M180.6 139.4h0M192.9 131.3h0M185.8 135.3h0M226 107.9h0M177.1 142.3h0M233.7 103.1h0M224 110.6h0M255.5 77.3h0M245 86.8h0M206.9 122.9h0M238.6 87h0M313.8 33h0M212.8 113.8h0M240.2 88.2h0M211.8 120.4h0M180.4 138.7h0M232.6 97.7h0M166.9 150.1h0M188.2 134.2h0M177.8 147h0M218.2 112.8h0M216 109.3h0M198.5 128.3h0M210.2 118.4h0M202.7 120.9h0M232.7 94.4h0M156.3 120.3h0" stroke="#184b87" stroke-opacity="0.95"/>
<path d="M157.6 140.1h0M158.9 140.9h0M173.7 162.5h0M177.9 135.5h0M141.7 146.1h0M159.3 164.9h0M186 139.1h0M156.3 164.3h0M170.3 144.7h0M175.3 137.1h0M146.7 139.2h0M189 129.1h0M121.8 165.4h0M169.5 145.4h0M151.6 132.2h0M163.3 141.1h0M146.4 153.8h0M141.6 161.4h0M148.6 152.9h0M198.4 120.2h0M159.5 142.1h0M162.3 155.4h0M142.4 161.9h0M161.6 145.9h0M168.1 140.3h0M178.3 148.7h0M190.6 114.7h0M162.9 154h0M155.3 137.7h0M174.3 116.5h0M164.5 139.6h0M173.8 140.9h0M178.4 135.5h0M184.1 142.5h0M180.4 134.8h0M148.6 156.7h0M184.9 127.2h0M190 148.2h0M176.2 131.3h0M189 141.7h0M171.9 141.3h0M144.3 137.4h0M173.7 146.7h0M179.7 134h0M175.6 149.4h0M179.8 137.6h0M185.6 124.2h0M161.2 146.2h0M171.7 130.2h0M140.6 159.7h0M125.5 155.7h0M133.8 150h0M146.9 141.7h0M172.8 138.5h0M176.1 131h0M156 150.1h0M158.6 124h0M186.3 135.7h0M154.8 148.2h0M157.2 147h0M155 145.2h0M171.8 141.1h0M173.7 145h0M135.7 170.8h0M174.9 141.2h0M177.2 133.4h0M169.2 136.3h0M180.3 127h0M173.5 144.2h0M162.7 151.9h0M135.5 159.8h0M167.7 147.7h0M159.3 141.3h0M102.2 160.5h0M123.5 135.9h0M85 161.7h0M100.8 131.8h0M97.8 156.5h0M77.4 154.4h0M59 166.5h0M56.8 135.9h0M135 135.9h0M72.1 147.2h0M136.7 147.2h0M68.2 140.9h0M94.1 180.2h0M128.6 140.2h0M93.5 151.4h0M98 141.1h0M103.7 157.7h0M103.6 148h0M128.4 141.2h0M96.2 154.6h0M80.8 116.7h0M129.7 166h0M114.9 154.4h0M131.2 143.6h0M133.6 169.4h0M134.8 136.1h0M134.9 149.2h0M241.1 87.3h0M184 147.9h0M210.1 115.9h0M229.1 100h0M178.1 171.4h0M197.5 147.8h0M232.6 77.3h0M149.2 187.2h0M180.1 118.9h0M242.1 83.5h0M181.8 137.7h0M177.3 137.6h0M217.4 107.7h0M185.1 148.3h0M202.5 140.8h0M204.8 128.1h0M203.3 115.6h0M221 113.9h0M149.4 130.8h0M155 125.2h0M154.3 125.7h0M162.4 103.9h0M152.5 128.4h0" stroke="#cc4c02" stroke-opacity="0.72"/>
<path d="M228.6 108.8h0M155.2 163.4h0M162.3 156.7h0M167.3 148.9h0M198.5 130.4h0M187.4 138.7h0M298.8 45.1h0M171.6 138.7h0M220.4 112.1h0M196.5 131.7h0M248.5 80.1h0M163.5 154.8h0M229.3 95h0M173.6 141h0M149.4 164.1h0M315.3 29.8h0M257.9 76h0M172 144.8h0M223.4 105.7h0M249.5 80.2h0M179.3 147.4h0M207.8 114.6h0M279.2 59.6h0M189.6 127.9h0M242.2 88.5h0M202.4 127h0M230.5 98.2h0M238.1 97.2h0M222.1 99.5h0M246 82.1h0M267.3 68.6h0M246.2 88.8h0M169.4 144.5h0M260.5 70.7h0M168.4 144.3h0M210.7 115.7h0M162.7 155.1h0M221.1 112.3h0M192.6 133.8h0M200.4 127h0M270.8 65h0M237.5 95.4h0M161.5 156.9h0M251.9 81.8h0M230.9 94h0M167.5 146.5h0M251.6 82h0M246.8 89h0M174.6 153.1h0M219.8 102.5h0M181.8 140.5h0M222.5 100.4h0M241.1 90.4h0M211.7 112.7h0M178.7 134.1h0M164.1 152.6h0M191.8 132.9h0M179.7 154h0M247.5 80h0M186.3 133h0M214.4 118.6h0M202.2 121.9h0M261.2 77h0M210.2 109.8h0M215.7 116.6h0M171.1 144.4h0M160.4 155.8h0M206.5 119.7h0M180.7 145.3h0M219.6 113.8h0M186 134.9h0M245.8 86.8h0M240.8 89.1h0M209 124.2h0M261.1 71.3h0M290.9 51.7h0M223 106.3h0M197.4 128.6h0M190.8 138.5h0M213.9 117.2h0M208.9 123.9h0M150.7 157.9h0M212.9 113.4h0M268.9 68.2h0M277.3 60.3h0M249.6 81.6h0M209.3 118.5h0M199.9 126.1h0M253.1 84.8h0M197.1 130.2h0M229.1 97.8h0M147.8 167.2h0M201 123.4h0M148.9 163h0M182.2 143.5h0M194.1 125.3h0M190.6 129.5h0M192.4 125.6h0M226.7 103h0M243.2 88.7h0M232.2 100.4h0M181.1 144.2h0M266.6 70h0M278.3 57.8h0M160 160.7h0M178.4 135.6h0M184.8 132.5h0M151.5 163.6h0M294.4 48.8h0M225.6 109.8h0M198.6 126.6h0M187 137.3h0M195.9 126.6h0M238.5 92.9h0M267.6 68.4h0M202.6 123.8h0M206.2 115.4h0M200.1 128.3h0M251.8 81.1h0M261.3 69.1h0M168.2 145.6h0M257.3 79h0M217.9 115.7h0M228 107.1h0M200.3 131.5h0M223 106.2h0M296.8 43.9h0M228.7 102.4h0M192.5 126.4h0M172.7 155.6h0M149.5 163.2h0M194.3 128.1h0M253.4 83.1h0M216.6 112.9h0M167.9 155.3h0M257.1 79.5h0M240.9 91.8h0M180.8 139.1h0M208.9 112h0M249.9 79.2h0M228.3 104.1h0M257.8 75.8h0M163.9 151.3h0M218.4 111.1h0M286.5 57.7h0M235.1 96.3h0M163.8 150.1h0M190.7 139.1h0M188.5 139.3h0M272.4 60.5h0M157.8 159.8h0M238.5 86.5h0M285.6 53.9h0M212.2 116.2h0M159.3 164.7h0M150.4 164h0M227.4 109h0M227.5 101.2h0M221.1 106.3h0M248.9 83.5h0M219.5 110h0M203.1 119.8h0M187.7 132.8h0M191.5 128.6h0M281.2 58.4h0M159.2 153h0M229.1 100h0M167.7 155.7h0M208.5 117.3h0M262.3 72.2h0M201.2 119.6h0M269.1 67.8h0M164 149.3h0M170.2 150.5h0M185.3 130.7h0M144.8 167.1h0M220.5 114.3h0M234.7 90.6h0M292.2 48.9h0M261.8 70.8h0M236.9 95.8h0M282.7 54.3h0M195.3 128.3h0M164.9 150.6h0M170.1 145.7h0M200.4 127.1h0M257.4 74h0M224.6 105.2h0M198.3 126.1h0M197.7 128.4h0M149.6 158.3h0M245 85.5h0M217.5 113.2h0M170.5 152.7h0M231 103.8h0M164.2 152.9h0M159.5 152.6h0M199.7 127.4h0M179.6 139.8h0M188.3 137.2h0M203.3 118.8h0M253.7 78.5h0M255 86h0M222.4 104.5h0M165.6 156.4h0M212.6 120.4h0M205.7 120.4h0M189.1 136h0M283.3 59.8h0M224.1 104h0M175.2 137.9h0M198 133.2h0M185.4 138.2h0M183 138.9h0M165 150.6h0M211.2 112.6h0M208.5 126.1h0M197.4 124.6h0M166.7 149.5h0M250.3 82.5h0M200.7 127.6h0M211.1 111.7h0M244.3 87.9h0M228.4 102.2h0M290.8 51.4h0M290.6 50.9h0M167 147.8h0M178.2 131.3h0M190.7 131.3h0M170.7 146h0M218.2 111.1h0M167 148.9h0M250.7 80.3h0M205.7 129.1h0M194.2 128.1h0M165.5 148.7h0M212 114.6h0M264.5 70.4h0M218.1 122.6h0M221.5 109.3h0M205 126.7h0M239.5 88.9h0M185.9 139.7h0M254.8 74.3h0M219.5 112.3h0M215.6 110.6h0M224.2 109.3h0M159.6 150.5h0M188 128.4h0M182 139.8h0M228.2 93.2h0M161 150.8h0M193.9 129.1h0M256.3 74.9h0M166.5 149.6h0M291.2 51.1h0M269.4 68.5h0M250.3 73.3h0M156.7 154.9h0M200.7 125.4h0M315 33.3h0M230.4 103.2h0M158.3 160.2h0M196.8 125.6h0M194.1 131.5h0M195.9 130.9h0M278.6 61.9h0M259.7 73.4h0M277.4 59.3h0M173.8 152.5h0M204.2 122.1h0M200.7 129.4h0M180.2 146.2h0M279.8 61.8h0M152.9 166h0M185.5 140.1h0M200 126.8h0M220.3 101.6h0M224.3 103.3h0M220.9 106.8h0M180.4 139.6h0M250.7 83.3h0M245.3 87.6h0M231.6 95.8h0M222.2 105.4h0M181.2 137.7h0M254.5 76.7h0M207.9 118.2h0M255 85.3h0M228.3 98.5h0M195.5 122.5h0M247.7 83.9h0M152.5 158.1h0M273.7 63.1h0M181.4 140.6h0M157.2 164.9h0M268.8 64h0M202.7 123.2h0M184.1 140.1h0M224.1 101.4h0M188.8 136.4h0M264.4 69.1h0M265.6 70.8h0M211.5 116h0M239.3 86.1h0M183.7 134.6h0M214.6 110.2h0M242.6 84.9h0M183.2 146.1h0M193.9 129.1h0M205.5 116.3h0M237.1 92.3h0M232.7 91.3h0M188.2 136.2h0M247.6 82.1h0M271.5 65.9h0M153.4 160.3h0M277.7 60.9h0M240.7 86.8h0M186.5 135.2h0M163.9 146.7h0M187.2 125.3h0M281.9 58.4h0M169.5 147.7h0M237.6 89.2h0M183.8 140.9h0M177.8 144.8h0M156.3 158.3h0M259.7 81h0M158.5 154h0M314.8 33h0M286.5 55.7h0M261.4 96.2h0M264.2 65.1h0M90.8 145.3h0" stroke="#184b87" stroke-opacity="0.95"/>
<path d="M159.5 155.9h0M179 153.3h0M152.5 158.1h0M182.5 138.7h0M170.2 139.9h0M158.8 129.9h0M174.3 141.6h0M175.9 144.8h0M168.4 146.3h0M195.7 120.7h0M153.5 157h0M210.1 112.8h0M155.5 144h0M159.7 145.4h0M175.8 142.3h0M152 151.6h0M177.5 163h0M182.5 133.5h0M161.2 168.6h0M185.8 139.1h0M160.5 138.6h0M161 164.5h0M153.4 153.5h0M164.1 158.2h0M154 148.9h0M166 146.7h0M183 129.2h0M158.2 154.6h0M167.7 146.5h0M152.3 140.1h0M185 146.2h0M199.1 128.5h0M150.1 155.3h0M159.8 148.1h0M179.7 129.4h0M151.6 155.8h0M210.3 125h0M190.4 122h0M160.9 148.7h0M165.6 159.1h0M169.7 152h0M168.2 149.2h0M128.5 145.4h0M177.2 144.3h0M210 112.5h0M175.9 142.6h0M159.9 159.3h0M153.3 164h0M194.1 152.7h0M153.1 162.5h0M175.9 122.5h0M161.3 131.9h0M162.9 153h0M204.6 128.8h0M139.6 148.8h0M159.4 143.3h0M137.1 188.4h0M172.1 143.9h0M174.7 159.2h0M157 131.8h0M144.9 159h0M179.2 133.2h0M195.9 139.1h0M186.7 132.1h0M139.1 143.4h0M143.6 159h0M185.2 137.6h0M161.8 144.8h0M156.3 146h0M143.6 148.8h0M177.3 151.7h0M179.2 138.6h0M147.8 171.3h0M176.2 137.9h0M156.3 146.3h0M173.6 155.6h0M178.5 155.7h0M178.4 144.1h0M147.7 140.7h0M190.6 148.2h0M164.8 148h0M71.4 149.7h0M60.1 146.8h0M118.7 148.3h0M121.5 146.5h0M104.3 176.9h0M126.1 152.9h0M66.7 182.9h0M130.1 148h0M56.5 139.4h0M62 168.8h0M115.9 122.6h0M73 160.6h0M94.2 161.1h0M133.3 153.3h0M86.4 174.9h0M109.1 149.7h0M105 159.9h0M133.4 160.8h0M110.5 154.1h0M122.7 128.8h0M133.2 142.8h0M192 141.3h0M237.9 126h0M190.9 141h0M225.4 111.2h0M208.1 139h0M165.7 165.8h0M159.4 153.9h0M212.2 127.6h0M211.4 132.9h0M228.4 83.5h0M199.6 108.7h0M211.3 138.4h0M205.9 139.9h0M126.8 184.9h0M163.4 136h0M186.6 140.7h0M212 138.6h0M180 150.1h0M117.6 136.1h0M159.4 145.1h0M165.1 100.6h0M133.3 116.6h0M149.4 141.8h0M178.1 116.8h0" stroke="#cc4c02" stroke-opacity="0.72"/>
<path d="M166.1 145h0M157.7 139.2h0M155.1 143.8h0M157.1 150.6h0M151.8 148.9h0M161.4 153.8h0M182.3 132h0M160.9 137.8h0M165.5 143.8h0M147 156.5h0M174.9 141.4h0M155.1 159.2h0M166.8 136.6h0M153.5 129.7h0M177.2 137.7h0M164.6 136.5h0M172.6 142.3h0M162.9 150.2h0M188.6 136h0M200.3 117.8h0M145.7 155.6h0M135.9 149.9h0M164.6 148.5h0M148.9 147.6h0M179.4 141.3h0M172.1 145.4h0M174.1 139.1h0M162.7 144.9h0M181.7 142.4h0M181.8 147.2h0M154.9 152h0M160 133.8h0M149.4 160.8h0M165.4 137.6h0M147.7 144.3h0M170.5 145h0M169.9 132.4h0M172.5 134h0M187.2 140.6h0M169.2 149h0M149.4 156.9h0M169.5 149.6h0M159.2 138.9h0M205.8 135.1h0M154.2 147.2h0M171.1 131h0M161.7 139.8h0M143.7 151.8h0M155.7 153.5h0M184.7 136.3h0M188.5 142.1h0M197.7 128.8h0M153.8 169.9h0M183.4 150.3h0M167.8 141.6h0M174.8 138.6h0M161.8 144.8h0M166 154.8h0M202.5 115.5h0M167.1 141.1h0M160 142.8h0M219.3 116.9h0M158.9 139.2h0M156.8 156.9h0M159.4 147.1h0M146 140.7h0M137 161.3h0M135.6 169.6h0M185.4 127.1h0M159.9 136.1h0M142.9 165h0M166 158.2h0M129.6 160.1h0M129.8 169h0M188.5 136.2h0M180.6 125.5h0M178.7 127h0M169.7 144.8h0M158.5 127.3h0M173.4 144h0M145.9 143.7h0M153.8 147.7h0M167.7 137.3h0M141 160.5h0M132.5 129.2h0M106.8 150.4h0M65.9 149.4h0M68.9 153.4h0M122.8 167.8h0M104.2 132.4h0M102.5 154.1h0M90.2 139.7h0M114.6 158.4h0M92.6 159.1h0M64.7 133.7h0M121.9 159.6h0M110.2 154.9h0M127.8 121.5h0M125.3 166.2h0M121.2 146.2h0M138.5 154.2h0M122.1 160.1h0M213.8 112.3h0M173.6 150.2h0M182.3 127.2h0M151.4 174.1h0M209.6 143.1h0M187.8 149.7h0M228.1 112.2h0M191.5 152.8h0M213.7 115.4h0M221 132h0M223.9 107.2h0M193.9 135.7h0M195.2 131.2h0M205.4 125.6h0M205.3 117.7h0M189.3 134.9h0M203 125.8h0M189.8 109.9h0M134 128.3h0M157.6 121.5h0" stroke="#cc4c02" stroke-opacity="0.72"/>
<path d="M182.8 128.8h0M168.2 147.5h0M153.6 162.5h0M153.2 154.2h0M180.4 129.7h0M170.2 135.5h0M179.1 132.9h0M192.9 132.8h0M191.1 146.5h0M177.1 144.3h0M166.9 140.3h0M180.9 136.4h0M173.9 137.5h0M157.9 156.9h0M165.6 145.4h0M167.5 140.9h0M142.3 140.2h0M138 143.8h0M170.5 146.4h0M206.8 125.7h0M155.1 147.6h0M162 152.2h0M177 141.3h0M170.3 132.7h0M147.7 153.7h0M160.9 152.2h0M147.2 164.9h0M180.3 147.9h0M173.6 128.8h0M143.4 141.9h0M129.1 172.5h0M186.7 136.9h0M160.1 153.5h0M137.4 150.8h0M162.8 145.8h0M164.5 149.2h0M179.8 157.5h0M147.6 147.5h0M180.5 128.4h0M147.2 169h0M160.4 148.5h0M185.1 121.9h0M167.4 149.1h0M175.2 144.3h0M174.1 121.8h0M159.4 142.9h0M165 129.2h0M203.6 118h0M188.5 137.3h0M180.5 152.8h0M207.1 120.3h0M180.6 136.2h0M196 123.3h0M199.3 147.3h0M153.6 149.5h0M187.5 148.9h0M196.8 137h0M182.4 134.2h0M176.4 144h0M176.7 139.9h0M159.4 141.6h0M152.9 167.5h0M185.9 124.8h0M154.6 153h0M174.1 131.7h0M142.4 157.1h0M146.8 166.8h0M153.6 144.7h0M143.4 132.4h0M199.3 145.2h0M131 166.5h0M196.2 119.5h0M149 161.9h0M163.9 153.8h0M204 131.1h0M184 109.5h0M155.3 160.8h0M168.1 147.5h0M178.2 147.5h0M165.1 167.9h0M144.8 169.9h0M154.4 154.8h0M138.4 155.9h0M196.7 126.6h0M172.7 146.1h0M150.3 157.9h0M158.9 152.9h0M124.7 172.4h0M178.9 128.3h0M185.7 150.5h0M159.4 147.5h0M161.5 141.4h0M181.5 139.2h0M62.2 136.9h0M99.4 157.8h0M73.7 175.3h0M76.7 155.7h0M83.3 128.9h0M70.2 164.8h0M72.8 140.4h0M96.8 166.1h0M59.4 145.5h0M106 162.8h0M93.8 139.2h0M93.1 146h0M87 165.9h0M111.7 145.8h0M109.6 137.7h0M97.7 139.1h0M60.6 139.4h0M122 168.3h0M108.2 156.7h0M128.3 129.3h0M131.2 148.1h0M130 150.2h0M127.6 156.9h0M134.9 138.3h0M190.4 150.1h0M177.4 114.5h0M163.4 135.9h0M205.4 121.8h0M199.7 125.3h0M208.1 122.1h0M198 130.1h0M185.4 129.3h0M174.2 149.5h0M207.4 104h0M227.3 112.5h0M127.2 201h0M178.9 142.7h0M180.2 121.4h0M205.6 131.7h0M198 115.4h0M192.4 130h0M166.2 122h0M168.6 113.4h0M216.5 127h0M99.3 115h0M124.5 112.1h0" stroke="#cc4c02" stroke-opacity="0.72"/>
<path d="M182.1 133.3h0M182 141.1h0M162.2 157.3h0M156.1 133.1h0M173.2 146.6h0M192.8 142.5h0M184.3 136.9h0M164.5 142h0M169.7 139.9h0M160.7 155.2h0M142.4 159.6h0M184.4 142.3h0M147.5 152.5h0M179.1 139.1h0M151.8 143.8h0M160.6 151.6h0M179.2 135.6h0M171.6 144.8h0M187.7 130.8h0M176.6 154.9h0M166.8 156.1h0M175.7 147.4h0M161.2 156.6h0M225.6 112.9h0M168.2 160.5h0M159.6 136.1h0M168.6 161.1h0M147.1 150.8h0M162.2 151.3h0M129.6 141.2h0M179.5 134.9h0M164.9 123.9h0M145.6 145.3h0M158.5 148.3h0M183.8 142.4h0M174.1 146.9h0M172.7 139h0M185.6 118.3h0M182.4 132.4h0M162.5 129.2h0M173 143.3h0M176.8 143.1h0M182.8 129h0M178.9 146.8h0M174.2 132h0M172.6 164.4h0M142 152.8h0M171.4 148.3h0M178.9 128h0M187.1 134.5h0M203.9 125h0M163.1 150.8h0M200.4 134.6h0M154.2 158.6h0M115.6 189.8h0M168.2 134.4h0M205.6 136.2h0M179.2 145.9h0M143.1 133.3h0M146.7 151.5h0M175.8 141.3h0M163.1 149.7h0M182.5 135.5h0M169.6 138.2h0M161.8 143.7h0M184.2 130.4h0M200.9 139.1h0M147.9 158.1h0M171 147.3h0M126.4 131.2h0M63 141.6h0M109.4 143.6h0M77.2 135.4h0M131.4 148.6h0M63.5 163.6h0M87.5 137.5h0M109 137.7h0M107.4 142.5h0M96.6 128.8h0M91.4 141h0M106.6 124.3h0M68.9 126.6h0M76.7 153.5h0M92.1 159.5h0M56.5 151.3h0M134 141.9h0M138.1 138.2h0M139.5 162.6h0M124.1 148.6h0M175.4 148.5h0M266.9 98.5h0M167.7 156.6h0M211 127.6h0M171.9 131.4h0M182.5 142.8h0M174.1 151.9h0M234.8 95.7h0M199.8 122.9h0M210.2 123.3h0M210.6 144.2h0M217.1 114.4h0M233 89.9h0M235.9 95.9h0M221.9 106.2h0M216.9 110h0M231.1 80.4h0M229.8 99h0M203.4 136.1h0M208.2 121.3h0M134.9 112.6h0M143.3 118.3h0M166.6 116.8h0M169 126.8h0M169.7 79.7h0" stroke="#cc4c02" stroke-opacity="0.72"/>
<path d="M171.6 127.2h0M175.4 147.2h0M161.2 136h0M164.7 131.3h0M153.9 155.9h0M182.5 149.8h0M168 149.7h0M185.3 129.9h0M174.8 135.9h0M181.5 137.2h0M187.8 145h0M174.8 134.1h0M134.4 168.9h0M172 147.3h0M177.9 147.4h0M184.6 134.3h0M148.3 154.7h0M149.5 145.7h0M142.9 161h0M176.4 116.1h0M158.6 163h0M178.2 137.9h0M142.1 148.5h0M179.4 132.1h0M171.4 147.3h0M159.6 151.5h0M156.9 155.9h0M172.1 142.6h0M161.4 144.1h0M138.1 159.3h0M169.6 149.2h0M169.5 153.4h0M138.4 159.9h0M162.9 133.8h0M177.7 145.6h0M176 129.4h0M179.8 120.8h0M144.8 147.3h0M128.7 167.1h0M191 140.1h0M188.9 135h0M193.3 118.6h0M179.1 122.6h0M207.6 132.4h0M188.3 131.5h0M156.3 169.3h0M155.7 166.9h0M184.8 129.7h0M163.8 153.1h0M168.9 148h0M135.4 165.2h0M169.3 147.3h0M180 133.8h0M174.6 126.9h0M174.1 157.8h0M193.1 119.8h0M140.4 167.7h0M180 135.8h0M169.4 139.8h0M156.3 142h0M161.8 150.9h0M182.2 132.1h0M175.5 126.2h0M168.7 159.4h0M144.6 151.3h0M147.4 154h0M171.7 138.5h0M164.2 122.4h0M163.1 148.3h0M165.7 148.5h0M159.2 136.3h0M153.3 157.3h0M173.8 133.1h0M161.7 146.6h0M184.7 136.3h0M183.3 146.3h0M167.5 126.9h0M166 140.1h0M121.7 164.3h0M100.6 145.4h0M119.9 142.3h0M135.9 178.2h0M59.7 145.7h0M62.8 141.5h0M93.8 143.3h0M88.5 147.6h0M97 141.9h0M104.2 156.2h0M133.2 145.1h0M134.2 133.1h0M134.4 157.2h0M109 172.5h0M118 145.5h0M129.1 169.8h0M120.6 150.7h0M188.4 149.1h0M214.9 113.9h0M224.8 106.3h0M224.8 98.7h0M151.7 149.4h0M213.7 128.4h0M173.5 141h0M226.5 105.7h0M210 140.7h0M227.9 99.5h0M218 116.5h0M137.4 121.8h0M167.7 113.4h0M153.4 113.1h0" stroke="#cc4c02" stroke-opacity="0.72"/>
<path d="M298.9 141.1h0M255.2 93.9h0" stroke="#cc4c02" stroke-opacity="0.72"/>
</g>
<g stroke-width="3.2" stroke-linecap="round" fill="none">
<path d="M503.2 173.6h0M486.9 170.5h0M516.9 177.9h0M500.2 170.8h0M524.6 178.4h0M489 175.9h0M499.3 165.3h0M515.9 165.7h0M513.6 166.2h0M515.3 167.6h0M489.7 175.6h0M517.6 165.2h0M489.2 175.3h0" stroke="#cc4c02" stroke-opacity="0.12"/>
<path d="M487.7 177.2h0M504.6 173.6h0M513.6 169.9h0M510.5 168.6h0M492.2 170.6h0M507.4 174.9h0M518.4 170.6h0M517.9 168.7h0M506.8 172.8h0M519.9 173.8h0M498.1 169.6h0M511.6 168.3h0M499.6 171h0M498.6 165.7h0M489.5 167.4h0M517.4 168.7h0M517.4 174.3h0M494.3 166.9h0M520.3 173.6h0M524.7 173.1h0M510.7 172.8h0" stroke="#cc4c02" stroke-opacity="0.12"/>
<path d="M512.5 168.8h0M481.9 164.5h0M510.6 175.9h0M482.7 170.6h0M509.5 169.2h0M518.3 170.6h0M507.8 167.2h0M501.8 168.5h0M531.7 166.2h0M501.8 170.3h0M518.3 169.5h0M485.5 170.2h0" stroke="#cc4c02" stroke-opacity="0.12"/>
<path d="M504.3 176.7h0M496.6 168.2h0M514 172.8h0M525.1 163.8h0M488.4 171.5h0M506.2 173.6h0M510.9 172.4h0M505.9 168.1h0M492.2 170.5h0M497.5 175.2h0M517.5 167.2h0M518.4 169.1h0M511.6 171.1h0M505.5 172.5h0M477.7 168.7h0M498.5 170.3h0M508.2 176.6h0" stroke="#cc4c02" stroke-opacity="0.12"/>
<path d="M502.8 171.5h0M512.5 176.6h0M486.9 169h0M492.7 173.1h0M510.4 166.6h0M509.3 172.9h0M507.6 167.6h0M495.7 168.9h0M497.2 172.4h0M520.9 169.7h0M519.3 170h0M509.4 167.4h0M503.1 171.7h0M525.3 163.4h0M500.7 169.1h0" stroke="#cc4c02" stroke-opacity="0.12"/>
<path d="M482.7 172h0M507.2 173.7h0M522.8 171.6h0M508.2 173.3h0M502.9 171.4h0M503.4 170.3h0M531.1 170.9h0M506.5 176.4h0M486.5 174.9h0M518.2 168.1h0M493.8 167h0M509.5 172.5h0" stroke="#cc4c02" stroke-opacity="0.12"/>
<path d="M537.4 137.4h0M494.4 167.5h0M512.4 156.4h0M563.2 106.3h0M537.9 142.6h0M519.9 148.1h0M525.4 141.3h0M519.9 147.1h0M518 154.7h0M501.7 154.8h0M526.1 142.6h0M540.8 145.2h0M523.6 154.4h0M536.5 133.9h0M511.4 158.3h0M538.7 140.6h0M427.5 125.2h0M558.5 110.4h0M534.8 143.2h0M531.1 135.4h0M519.7 139.6h0M557.7 112.2h0" stroke="#cc4c02" stroke-opacity="0.18"/>
<path d="M530.4 135.6h0M538.8 137.1h0M532.1 141.4h0M553.3 130.9h0M556.7 137.3h0M521 124.1h0M531.6 136.3h0M519.3 144.4h0M544 132.2h0M541.5 147.8h0M533.8 151.7h0M550 129.4h0M521.5 139.8h0M510.1 141h0M538.4 108.7h0M530.5 132.7h0M586.2 123.3h0M530.3 143.5h0M514.5 149.4h0M527.8 136h0M531.9 145.4h0M548.2 143h0M507.3 155.7h0M429.1 143.8h0M475 152.8h0M549.3 106.3h0M529.2 171.6h0M539.4 126.9h0M525.3 136.5h0M576.2 113.4h0M553 127.2h0M548 117.7h0" stroke="#cc4c02" stroke-opacity="0.18"/>
<path d="M534.4 135h0M531.9 147.3h0M541.4 125.4h0M529.1 136.7h0M545.1 130.2h0M532.1 141.5h0M518.2 146.4h0M507.8 153.2h0M521.4 135.2h0M521.6 135.7h0M564.5 130.1h0M532.1 143.9h0M526.8 152.2h0M539.2 132.9h0M523 161.3h0M533.8 141.5h0M505.4 157.4h0M533.5 146.2h0M518.9 137.3h0M425.1 119.4h0M538.2 121.8h0M559.9 127h0M542.9 126.7h0M557.4 131h0" stroke="#cc4c02" stroke-opacity="0.18"/>
<path d="M544.8 135.2h0M528.8 139.1h0M507.4 149.2h0M519.5 150.4h0M539.8 132.5h0M537.5 136.8h0M524.9 148h0M521.7 154.7h0M526.7 128.4h0M534.7 142h0M525.4 143.5h0M526.6 151.2h0M548.7 134.1h0M504.8 142.6h0M520.1 144.2h0M535.4 129.2h0M544.3 136.7h0M502.3 159.4h0M529.8 146.7h0M521.5 145.3h0M498.2 169.2h0M562 127.5h0M520.8 135h0M555.8 133.8h0M473.9 145.4h0M477.9 167.1h0M489.4 158.5h0M487.2 129.2h0M488.2 165h0M544.4 140.4h0M556.8 138.9h0M577.1 87.6h0M526 138.4h0M548.1 122.5h0M556.8 117h0M543.7 106.1h0M480.5 116.3h0" stroke="#cc4c02" stroke-opacity="0.18"/>
<path d="M527.6 149h0M517.3 153.4h0M519.6 150.9h0M527.5 138.9h0M529.3 144.4h0M537.8 132.1h0M536.3 139.6h0M539.4 145.1h0M523 140.8h0M540 133h0M559 142.1h0M560.7 124.2h0M545.1 150h0M510.7 154h0M544.7 121.7h0M534.2 149.2h0M512.5 151.4h0M531.9 136.8h0M526.3 134.1h0M506.4 169.8h0M540.7 141.1h0M580.9 112.8h0M531.5 137.4h0M538.4 139.4h0M516.7 140.6h0M530.1 147.2h0M524.1 153.5h0M538 137.8h0M528.8 135.6h0M527.2 134.3h0M550.3 142.3h0M534 142.1h0M549.5 120.7h0M532 151.5h0M548.6 132.5h0M532.5 129.5h0M550.3 146.6h0M525.3 150h0M428.5 170.6h0M454 156.8h0M486.1 154.4h0M482.5 166.9h0M483.4 151.9h0M517.6 146.1h0M560.8 110.3h0M591 95h0M560 110.9h0" stroke="#cc4c02" stroke-opacity="0.42"/>
<path d="M568.6 118.5h0M537.8 148.6h0M522.7 153.7h0M525.7 141.9h0M514.8 138.9h0M541.4 128.9h0M515.4 154.6h0M527.5 131.8h0M538.7 126.1h0M524.4 145.9h0M523.5 143.9h0M542.1 133.2h0M493.6 156.8h0M536.6 146.7h0M496.3 161.7h0M526.8 154.6h0M542.1 119.3h0M498.5 151.2h0M523.7 150.7h0M502 146.9h0M547.6 133.2h0M524.1 148.7h0M513.7 153.6h0M535.4 133.2h0M517.6 148.9h0M519.6 144h0M521.1 129.5h0M567.1 133.5h0M526 134.3h0M508.5 158.8h0M534.7 139.2h0M548.9 133.1h0M548.9 146.8h0M505.9 148.4h0M483 159.7h0M460.1 132.6h0M545.6 115.9h0M533.3 131.8h0M526.8 170.7h0M563.4 121.2h0M531.7 136.1h0M546.2 129h0M522.7 155.2h0M533.7 136.9h0M532.2 137.6h0M580.4 118.3h0M508.7 107.2h0" stroke="#cc4c02" stroke-opacity="0.42"/>
<path d="M527.4 151h0M522.6 142.6h0M538.7 134.2h0M532.1 143.6h0M534.6 127.4h0M518.3 165.1h0M537.1 129.6h0M525.5 150.6h0M505.8 138.6h0M509.4 160.3h0M551.9 122.6h0M558.7 120.9h0M537.3 141.9h0M518.5 149.9h0M511.8 157h0M518.5 152.4h0M519.4 155h0M548.6 118.8h0M524.4 137.5h0M513.9 148.7h0M543.7 139.8h0M520.7 146.6h0M547.7 139.7h0M528.2 146.2h0M480.4 161.9h0M535.3 140.7h0M521.3 153h0M492.8 162.9h0M544.9 126.1h0M501.2 158.8h0M543.3 131h0M475.1 142.5h0M486.3 117.9h0M559.3 138h0M578.6 100h0M553.5 137.1h0M508.2 149.2h0M590.3 86.9h0M548.2 123.9h0M570.8 104.2h0M550.3 125h0M521.4 121.6h0M488.6 113.7h0" stroke="#cc4c02" stroke-opacity="0.42"/>
<path d="M523.7 144.9h0M526.3 143.4h0M517 149.3h0M539.5 151.7h0M534.6 149.6h0M495.7 160.5h0M494.9 161.4h0M529.7 147.1h0M541 134.5h0M530.3 144.5h0M516.6 154.9h0M516.8 149.3h0M521 147.7h0M556.9 142.9h0M545.6 129.5h0M510.7 136.3h0M557.7 123h0M529.3 143.8h0M579.9 120.2h0M534.9 131h0M519.2 142.4h0M522.6 127.4h0M527.1 149.7h0M546.4 142.1h0M498.7 146.7h0M532.8 147.9h0M532 137.8h0M544.8 134.6h0M512.8 152.8h0M533.2 140.7h0M543.4 132.5h0M536.5 141.6h0M542.3 126.2h0M483.8 152.1h0M560.6 116.1h0M557 137.1h0M506.1 156.9h0M425.6 123.2h0M470.1 159.9h0M488.7 151.3h0M542.1 116.7h0M565 79.6h0M553.5 147.5h0M531 146.2h0M562.9 127.5h0M549.5 139.7h0M489.8 115.9h0" stroke="#cc4c02" stroke-opacity="0.42"/>
<path d="M580.5 108.8h0M519.2 148.9h0M539.3 138.7h0M600.3 83.6h0M604.8 80h0M562.4 118.2h0M555.6 116.5h0M623.2 69.9h0M529.4 141h0M512.8 159.7h0M540.3 131.3h0M523.9 144.8h0M611.3 79.2h0M528.1 139.8h0M553.6 119.9h0M517.5 159.9h0M582.4 98.2h0M590 97.2h0M628.5 64h0M574 99.5h0M583.2 103.8h0M535.8 144h0M518.8 151.2h0M581.4 102.4h0M547 130.7h0M520.8 150h0M538.4 130h0M552.3 127h0M570.3 109.3h0M598.7 89h0M526.5 153.1h0M571.7 102.5h0M533.7 140.5h0M543.1 139.2h0M600.2 80.8h0M516 152.6h0M543.7 132.9h0M564.6 107.7h0M599.4 80h0M594.7 86.9h0M579.9 99.8h0M590 85.6h0M569.8 109.3h0M601.6 80.9h0M615.6 70.1h0M613.8 70.3h0M519 147.3h0M613.8 74.7h0M498.5 165.5h0M567.9 112.4h0M559 128.5h0M532.6 145.3h0M571.5 113.8h0M552.4 125h0M513.6 154.1h0M530.4 141.5h0M548.3 125.2h0M577.4 104.9h0M510.8 160.8h0M620.4 66.9h0M574.9 106.3h0M590.4 91.5h0M565.8 117.2h0M631.2 61.6h0M542.9 130.9h0M526 147.2h0M552.1 127.6h0M620.8 68.2h0M566.4 113.6h0M551.8 126.1h0M507.6 159.1h0M508.8 164.7h0M575.3 106.9h0M542.5 129.5h0M618.1 70.2h0M553.4 130h0M569.6 110.2h0M553.7 118.8h0M500 163.6h0M551.1 122.5h0M585.2 94.8h0M555.4 121.1h0M589.2 99.5h0M586.7 96.8h0M506.3 161.7h0M503.4 163.6h0M601.8 79.1h0M522.8 153h0M549.7 127.8h0M547.8 126.6h0M590.4 92.9h0M576.4 103.6h0M529.4 148h0M587.1 92h0M620.5 71.3h0M572.8 108.2h0M550.5 135.6h0M552 128.3h0M549.8 129.2h0M603.2 82.9h0M576.8 103.2h0M520.1 145.6h0M574.1 113.4h0M579.9 107.1h0M565.9 115.4h0M538.6 128.3h0M552.2 131.5h0M556 117.8h0M558.3 116.9h0M534.1 138.1h0M556 119.6h0M620.4 65.7h0M527.9 130.4h0M607 81.4h0M654.5 40.9h0M620.3 68.5h0M531.7 141h0M544.4 126.4h0M524.6 155.6h0M501.4 163.2h0M577.4 101.9h0M591.2 87h0M605.3 83.1h0M545.3 132.9h0M495.5 172.2h0M510.4 156.9h0M623.8 62.9h0M603 83.5h0M564.9 121.1h0M572.7 104.9h0M509.7 161.1h0M584.6 98h0M601.8 79.2h0M613.2 69.4h0M588.8 92.3h0M541.4 133.8h0M559.2 122.6h0M540.4 139.3h0M624.3 60.5h0M545.2 129.8h0M656.9 37.5h0M624.3 65.8h0M552.6 127.1h0M540 131.9h0M511.2 164.7h0M595.9 89.3h0M607.2 81.5h0M579.4 101.2h0M594.8 92h0M600.8 83.5h0M555 119.8h0M512.7 154.7h0M537.9 140.2h0M539.6 132.8h0M543.4 128.6h0M633.1 58.4h0M511 152.1h0M584.3 87.6h0M649.6 45.1h0M596.5 87.5h0M537.2 130.7h0M527.9 150.8h0M587.5 90h0M535.3 132.5h0M556 125.9h0M510.9 145.9h0M551.5 135.8h0M546 125.6h0M614.1 72.1h0M613.7 70.8h0M588.8 95.8h0M614.1 73.7h0M541.5 130.2h0M554.3 118.3h0M607.3 75.1h0M533.9 136.2h0M522 145.7h0M550.2 126.1h0M568.4 119h0M583 96.3h0M528.7 143.6h0M601.7 80.2h0M512.1 162h0M575.7 109.5h0M573.7 106.1h0M603.3 77.3h0M516.1 152.9h0M594.6 90.1h0M540.2 137.2h0M515 156.2h0M572.8 106.8h0M605.6 78.5h0M606.9 86h0M574.3 110.5h0M579.4 112.4h0M535.5 134.8h0M568.1 110.6h0M620.5 64h0M581.4 97.4h0M573.5 108.6h0M564.5 120.4h0M539.3 130.1h0M572.6 103.9h0M534.9 138.9h0M542.4 131.5h0M554.1 124.8h0M570.2 102.6h0M587.9 96.5h0M524.2 147.4h0M549.3 124.6h0M647.8 44.2h0M602.9 85.9h0M499.2 165.9h0M515.8 148.5h0M578.2 101.4h0M553.3 117.8h0M530.5 134.9h0M556.7 124.4h0M671.7 27.7h0M494.3 166.7h0M632.3 58.7h0M600.3 79.3h0M619 65.7h0M538.9 133.5h0M522.6 146h0M518.9 148.9h0M593.6 86.6h0M585.2 96h0M577.2 96.9h0M517.2 159.5h0M546.1 128.1h0M563.9 114.6h0M542 127.7h0M573.4 109.3h0M515.3 154.7h0M556.9 126.7h0M607.9 78.6h0M542.6 135.3h0M537.8 139.7h0M558.5 120.1h0M566.3 113.4h0M556.1 134.8h0M549 131.4h0M608.2 74.9h0M508.6 154.9h0M602.2 75.6h0M532.8 140.9h0M531.2 134.8h0M569.3 106.1h0M563.9 115.2h0M582.3 103.2h0M569.4 108.8h0M528 148.1h0M510.2 160.2h0M622.5 66.6h0M539.2 140.4h0M516.3 142.7h0M548.7 125.6h0M633.2 56.4h0M537.6 139.2h0M544.2 128.4h0M600.8 82.3h0M571 110h0M562.9 111.9h0M525.7 152.5h0M552.6 129.4h0M572.2 101.6h0M579 98h0M549.4 119.4h0M597.2 87.6h0M611 75.3h0M583.5 95.8h0M553.5 123.8h0M558.2 116.8h0M632.7 58.7h0M531.7 133.7h0M566.7 116.2h0M581.6 99.1h0M560.8 116.2h0M523.8 149.7h0M543.2 132.7h0M583.7 94h0M596.9 83.6h0M559.8 118.2h0M518.3 146h0M547.4 122.5h0M583.7 101.7h0M667.5 30.8h0M594.2 96.3h0M515.2 155.6h0M504.4 158.1h0M533.3 140.6h0M537.6 131.2h0M538.2 133.1h0M594 89.1h0M554.6 123.2h0M612.6 75.7h0M498.9 172.5h0M569.8 110.9h0M540.7 136.4h0M537.2 130h0M549.9 125.1h0M612.3 75.4h0M515.9 153h0M573.9 104h0M523.1 147.3h0M594.5 84.9h0M598 86h0M557.4 116.3h0M589 92.3h0M586.4 93.6h0M624.7 64.1h0M505.3 160.3h0M538.4 135.2h0M528.7 139.6h0M570.1 112.8h0M569.9 121.3h0M509.7 158.6h0M633.8 58.4h0M563.2 119h0M552.9 123.3h0M529.7 144.8h0M664.9 34.5h0M668.2 30.7h0M653.3 43.2h0" stroke="#184b87" stroke-opacity="0.95"/>
<path d="M550.8 137.7h0M526.9 117.1h0M527.5 142.9h0M526.9 135.4h0M519.1 153.6h0M548.4 137.1h0M519.1 145.9h0M550.4 148.7h0M515.5 153h0M510.4 160h0M523.1 144.1h0M549.3 144.4h0M513.8 149.9h0M522.1 142.3h0M537 134.4h0M499.4 161.8h0M514.5 135.4h0M548.6 127h0M536.5 134.4h0M522.7 151.1h0M517.6 142.3h0M533.6 143.9h0M512.4 145.1h0M518.3 158.1h0M542.4 135.9h0M489.5 173.3h0M523.6 147.1h0M560.7 114.6h0M523.3 147.4h0M533 133.5h0M530.8 148.9h0M548.6 130.1h0M539.3 140.3h0M559.1 125.9h0M546 125.2h0M526 146.2h0M512.3 147h0M508.1 159.2h0M528.1 146.3h0M557 129.5h0M540.5 130.6h0M528.5 136.9h0M523.1 132.6h0M533.6 156h0M515 147.9h0M519.3 143.9h0M527.4 156.3h0M558.5 123.3h0M534.4 142.9h0M523.9 136.9h0M539.1 137.5h0M523.6 159.8h0M527.7 144.8h0M535.9 135.5h0M546.6 110.3h0M511.5 136h0M548.1 145h0M545.4 139h0M524.8 147.1h0M562 134.8h0M541.4 134.4h0M549.4 127.6h0M525.6 154.9h0M536.7 145.7h0M532.5 144.3h0M493.1 167.8h0M546.9 135.4h0M434.6 148.8h0M480.7 127.3h0M426.7 156h0M473.1 137.6h0M432.5 99.3h0M419.8 175.3h0M442.3 142.8h0M491.1 132.5h0M486.8 147.6h0M490.2 153.5h0M483.9 157.6h0M478.6 178.9h0M554.6 128.8h0M594.3 94.6h0M515.9 191.8h0M561.6 106.1h0M552.3 130.8h0M545.4 143.9h0M583.7 122.1h0M493.3 148.7h0M537.2 129.2h0M546.1 108.5h0M550.8 116.9h0M526.9 164.3h0M554.7 156.7h0M566.6 102.6h0M563.1 113.9h0M560.5 123.8h0M550.7 130.6h0M567.3 123.3h0M576.9 113.1h0M533.5 148.5h0M521 109.5h0M502.5 123.1h0M500.3 103.1h0M528.6 127.4h0" stroke="#cc4c02" stroke-opacity="0.72"/>
<path d="M565 117.1h0M507.1 163.4h0M521.5 147.4h0M514.2 156.7h0M633.3 57.4h0M559.3 110.8h0M650.7 45.1h0M572.3 112.1h0M574.4 106.5h0M520.3 149.9h0M581.2 95h0M529.7 144h0M506.2 160.8h0M525.5 141h0M667.2 29.8h0M511.2 165.1h0M515.4 153.5h0M557.9 118.2h0M512.6 157.5h0M601.4 80.2h0M531.2 147.4h0M559.7 114.6h0M538.6 130.2h0M537 139.9h0M631.1 59.6h0M594.1 88.5h0M507.2 159.3h0M606.9 73.8h0M595 81h0M619.2 68.6h0M598.1 88.8h0M548.1 130.3h0M673.4 27.2h0M520.1 147h0M514.6 155.1h0M579 105.9h0M573 112.3h0M514.4 153.3h0M640.1 52.9h0M622.7 67.2h0M513.4 156.9h0M508.2 157.2h0M563.5 106.2h0M580.6 94.6h0M530.6 134.1h0M503.9 160.6h0M531.6 154h0M549.2 126.2h0M522.9 147.6h0M614.4 70.5h0M587.2 95.6h0M557.1 120.7h0M514.8 159.3h0M519.2 156.1h0M560.8 122.3h0M554.1 121.9h0M578.9 104.7h0M560.4 113.9h0M567.6 116.6h0M590.6 93.2h0M643.5 49.6h0M592.7 89.1h0M558.5 121.1h0M624.6 65.8h0M513.1 152.3h0M580.3 96.4h0M560.9 124.2h0M584.7 97.4h0M560.8 123.9h0M562.6 117.7h0M502.6 157.9h0M572.1 106.5h0M564.8 113.4h0M624.7 67.3h0M561.2 120.4h0M549 130.2h0M581 97.8h0M612.4 72.2h0M573.8 104.7h0M507.7 152.3h0M523.4 142.3h0M576.9 110.7h0M595.1 88.7h0M584.1 100.4h0M533 144.2h0M593.1 87.8h0M630.2 57.8h0M606.1 79.7h0M511.9 160.7h0M536.7 132.5h0M534.1 139.4h0M544 136.9h0M585.7 96.9h0M614.7 68.7h0M523.4 151.5h0M584.8 92.7h0M558.1 115.4h0M630.4 61.5h0M627.5 63.4h0M551.8 126.6h0M522.5 147.3h0M609.2 79h0M580.3 100.6h0M536 138.9h0M538.8 130.7h0M610.7 69.9h0M592.4 92.7h0M585.2 97.1h0M560.8 118.7h0M641.9 53.5h0M523 146.5h0M560 121.7h0M538.9 136.3h0M539.4 128.6h0M613.5 73.3h0M568.4 115.9h0M533.7 131.1h0M570.7 105.7h0M596.2 80.6h0M543.7 131.6h0M562 125.1h0M522.7 146.3h0M566.8 112.7h0M625.7 64h0M648.2 49.1h0M560.8 112h0M580.2 104.1h0M609.7 75.8h0M515.8 151.3h0M570.3 111.1h0M587 96.3h0M515.7 150.1h0M558.7 116.2h0M560.1 119.4h0M579.4 104.5h0M618 72.5h0M545.2 129.7h0M628.3 59.7h0M509.7 159.8h0M619.9 71.5h0M531 138.5h0M525.1 144.3h0M590.4 86.5h0M637.5 53.9h0M655.9 40.9h0M564.1 116.2h0M502.3 164h0M637.6 55.4h0M632.2 60.5h0M513.7 153.8h0M515.1 159.8h0M558.7 119.2h0M494.5 166.3h0M586.7 91.7h0M556.4 121h0M515.5 148.7h0M527.4 144.1h0M519.6 155.7h0M537.3 139.2h0M525.4 140.5h0M510.8 154.7h0M553.1 119.6h0M561.4 111.5h0M621 67.8h0M646.8 45.8h0M550 132.1h0M496.7 167.1h0M608.2 72.5h0M525.1 145.1h0M597.5 83.6h0M572.4 114.3h0M554.2 126.3h0M644.1 48.9h0M539.2 132.6h0M547.2 128.3h0M589.3 88.4h0M499.9 155.2h0M557.6 121.2h0M543.7 127.9h0M552.3 127.1h0M603.1 80.8h0M580.4 106.6h0M622.8 65.4h0M603.2 83.1h0M530.6 136.4h0M568.4 112.3h0M592.8 92.1h0M547.3 134.7h0M517.2 149.3h0M511.4 152.6h0M535.9 134.2h0M509.9 158.2h0M570.2 113.5h0M534.6 142.8h0M584.3 97.9h0M515.8 160.4h0M572.8 104.3h0M558.3 121.1h0M500 155.4h0M549.9 133.2h0M537.3 138.2h0M521.1 156.1h0M577.8 102.7h0M517.8 155.1h0M574.2 102.1h0M495 169.1h0M602.2 82.5h0M548.2 127.5h0M567.5 111.9h0M569.8 115.3h0M539.1 134.1h0M553.1 125.4h0M551.7 124.1h0M535.4 140.5h0M631.2 59.2h0M613 72.7h0M523.5 148.7h0M666.6 31.1h0M513.5 162.7h0M518.9 147.8h0M556.1 123.8h0M615 71.8h0M530.1 131.3h0M508.8 159.2h0M570.1 111.1h0M594.4 88.3h0M534.4 135.4h0M570.7 105.6h0M565.5 109.4h0M549.8 135.1h0M557.6 129.1h0M548 133.8h0M517.4 148.7h0M553.1 124.8h0M530.2 139.5h0M616.4 70.4h0M606.6 82.5h0M555 125.1h0M502.9 164.3h0M559.8 115.8h0M552.1 121.9h0M571.4 112.3h0M619.3 72.4h0M590.2 90h0M583.9 94.3h0M583.9 94.5h0M593.1 93.7h0M598.8 86.9h0M538.3 135.9h0M609.2 74.5h0M580.1 93.2h0M595.9 88.8h0M595.5 91.2h0M518.4 149.6h0M643.1 51.1h0M553 119.5h0M602.2 73.3h0M558.4 119.2h0M658.1 38.3h0M574.4 103.4h0M582.9 92.6h0M553.7 127.2h0M558.7 118.9h0M612.7 76.8h0M641 55.1h0M606.7 72h0M521.9 150.5h0M595.9 82.6h0M630.5 61.9h0M566 115.8h0M574.4 109.3h0M535.6 142.9h0M538.5 138h0M521.7 140.4h0M597.2 82.6h0M507.4 162h0M579.3 101.9h0M629.3 59.3h0M512.1 156h0M537.4 140.1h0M551.9 126.8h0M485.6 169.6h0M577.9 106.6h0M584 100.7h0M531.6 142.9h0M529.3 145.9h0M589.9 95.4h0M647.6 45.4h0M517.4 145.6h0M539.6 136.4h0M516.2 148.7h0M602 84.2h0M579.1 103.7h0M611.6 72.8h0M585.4 94.4h0M577.6 109.1h0M544.8 131.3h0M579.2 96.9h0M563.4 116h0M532.6 138.5h0M575.9 110.6h0M545.5 131.5h0M544.5 129h0M564.7 113.8h0M554.4 124.3h0M531 136h0M595.3 87.8h0M540.1 136.2h0M602 79.6h0M592.1 88.2h0M517.2 156.9h0M564 108.5h0M629.6 60.9h0M540.1 134.2h0M627.9 62h0M567.9 109.3h0M567.7 111.9h0M550.4 128.3h0M562.1 118.4h0M535.7 140.9h0M676.5 24.5h0M646.9 48.4h0M636.6 54.1h0M613.3 96.2h0M616.1 65.1h0M508.2 120.3h0" stroke="#184b87" stroke-opacity="0.95"/>
<path d="M539.8 141.6h0M553.7 111.8h0M537.6 127.2h0M539.3 122h0M527.4 145.3h0M536.1 131.5h0M523.1 124.6h0M534.9 155h0M536.3 125.2h0M528.4 132.5h0M514.5 154.9h0M501.9 166.8h0M512.1 144.4h0M526 143h0M524.2 154.7h0M516.8 150.8h0M520.9 141.1h0M489.4 158.1h0M552.7 152.2h0M542 133.4h0M527.4 146.4h0M546.2 136h0M558.2 119h0M545.1 119.4h0M576.6 114h0M543.7 142.6h0M509.5 157.4h0M538.8 149.8h0M515.7 156.7h0M535.6 128h0M524.5 151.3h0M514.5 162h0M524.5 139.9h0M533.4 127.4h0M522.3 157.2h0M535.7 119.4h0M551.5 129.8h0M533.2 151.9h0M538.9 129.4h0M524.8 143.5h0M519.9 142.1h0M531.5 156.4h0M550.7 142.6h0M511.4 138.6h0M526.9 145.1h0M534.9 139.3h0M519.9 151.3h0M500.4 161.4h0M552.9 125.1h0M532.9 141.4h0M525 150.4h0M535.9 142.6h0M531.4 140.3h0M515.2 146.6h0M534.8 133.3h0M538.8 148.1h0M544.3 126.3h0M522.6 156.1h0M546.7 129.4h0M554.4 145.3h0M538.3 119.6h0M517.7 147.1h0M516.4 154.2h0M542.9 147.5h0M527.1 157.4h0M529.4 153h0M545.8 134.1h0M538.7 131h0M519.2 147.8h0M537.5 125.9h0M478.5 170.3h0M465.2 158.8h0M435 147.4h0M441.5 153.1h0M481.9 134.2h0M481.7 136.8h0M485.2 176.2h0M476.8 167.2h0M475.5 136.6h0M586.5 120.6h0M531.9 122.8h0M524.4 134.3h0M585.2 102h0M524.3 126.9h0M544 118.6h0M559.4 164.8h0M519.8 166.4h0M561 153.5h0M569 111.6h0M580.4 123.5h0M524 155.4h0M535 138.6h0M550.1 130h0M562.1 125.2h0M548.4 127.6h0M566.1 123.1h0M567.1 121.1h0M572 126.8h0M553 105.3h0M496.3 122.7h0M500.1 120.9h0" stroke="#cc4c02" stroke-opacity="0.72"/>
<path d="M575.6 101.4h0M565 114.9h0M585.6 98.6h0M569.9 111.3h0M523.5 138.7h0M548.4 131.7h0M532.3 140.1h0M600.4 80.1h0M538.6 137.6h0M522.7 148.3h0M543.2 128.4h0M561.1 120h0M621.4 66.4h0M609.8 76h0M573.3 106.4h0M543.8 136.3h0M593.1 89.4h0M528.9 144.5h0M620.2 69.2h0M509.3 166.1h0M517.1 154.1h0M502.7 164.7h0M594.3 93.3h0M541.5 127.9h0M554.3 127h0M535 140.7h0M564.7 108.4h0M520.8 146.5h0M523.4 149.6h0M560.5 124.8h0M597.9 82.1h0M529.1 135.4h0M612.4 70.7h0M578.6 99.3h0M589.4 95.4h0M603.8 81.8h0M582.8 94h0M519.4 146.5h0M563.3 122.2h0M533.5 134.9h0M537 141.7h0M552.2 127.9h0M566.8 118.6h0M574.2 103.6h0M574.4 100.4h0M593 90.4h0M601.1 85.3h0M621.5 68.1h0M547.2 133.2h0M598.6 83.5h0M603.6 79.5h0M585.3 90.8h0M613.1 77h0M550.9 122h0M523 144.4h0M558.4 119.7h0M658 35.5h0M537.9 134.9h0M512.9 155.4h0M506.4 162.6h0M615.9 72.5h0M544.7 126h0M549.4 130.3h0M522.6 147.2h0M521.3 152.8h0M529.6 147.4h0M542.7 138.5h0M547.4 136.4h0M588.4 96.2h0M642.1 51.1h0M525.6 147.3h0M526.5 149.2h0M561.1 116.4h0M519.7 149.7h0M629.2 60.3h0M561.2 118.5h0M533.7 139.2h0M588.4 90.6h0M557.3 123.3h0M524.9 147.3h0M499.7 167.2h0M563.2 110.2h0M602 85.5h0M500.8 163h0M507.8 164.7h0M534.1 143.5h0M546 125.3h0M489.8 171h0M505.7 154.5h0M578.6 103h0M618.5 70h0M516.7 147.2h0M562.9 113.1h0M509.1 152.7h0M530.3 135.6h0M551.9 124.6h0M518.1 152.6h0M506.6 164.5h0M523.6 134.3h0M624 67.5h0M539.6 134.9h0M597.6 80.3h0M524 143.4h0M596.4 87.7h0M619.5 68.4h0M598.5 84.1h0M554.5 123.8h0M590.2 94.1h0M564.8 113.9h0M603.7 81.1h0M640.7 54.6h0M569.8 115.7h0M635.9 56.3h0M574.9 106.2h0M531.4 140.6h0M503.5 163.6h0M526.9 148.5h0M522.2 147.4h0M546.2 128.1h0M548.5 126h0M568.5 112.9h0M539.1 132h0M497.5 164h0M592.8 91.8h0M640 57h0M535.8 140.8h0M651.4 45.6h0M624.2 70.5h0M649.4 44.5h0M587.8 95.6h0M582.8 96.6h0M620.5 69.5h0M557.7 123.6h0M540.8 131.1h0M512.3 151.4h0M638.4 57.7h0M518.5 152.4h0M609.6 76.7h0M532.2 134.3h0M579.3 109h0M595.9 86.8h0M525.5 140.7h0M572.5 102.2h0M528.8 139.8h0M524.9 147.4h0M529.5 142.5h0M532.2 142.4h0M523.4 145.2h0M524 145.2h0M560.4 117.3h0M614.2 72.2h0M546.7 128.2h0M514.7 154.1h0M534.4 138.3h0M580.6 92.1h0M576.2 112.1h0M568.1 107.1h0M581.9 109.6h0M540.4 142.6h0M590.1 95.7h0M519.3 149.5h0M564.4 109.2h0M545.5 129.8h0M519.6 152.2h0M610 75.8h0M524.9 136.7h0M508.7 157.4h0M576.2 99.6h0M537.9 138.1h0M608.1 74.2h0M573.1 107.8h0M576.5 105.2h0M553.4 119.9h0M535.4 137.3h0M595.1 84.9h0M537.7 147.8h0M556.5 122.5h0M514.3 155.4h0M542.2 136.2h0M596.9 85.5h0M569.4 113.2h0M568.7 106.6h0M621.7 65.5h0M516.4 151.3h0M551.6 127.4h0M597.4 87.3h0M560.6 119.1h0M555.2 118.8h0M660.5 36.6h0M566.4 115.5h0M546.4 133.1h0M557.6 120.4h0M541 136h0M556.1 119.8h0M635.2 59.8h0M576 104h0M575.2 106.2h0M563.5 120.6h0M573.9 107.1h0M514.6 152.4h0M578.2 106h0M544.1 136h0M516.9 150.6h0M630.8 59.4h0M560.4 126.1h0M518.6 149.5h0M573.1 111h0M611.1 71.6h0M590.9 89.7h0M582.7 101.2h0M562.3 111.3h0M559.8 117.5h0M624.4 64.7h0M585 96.8h0M582.6 94.6h0M633.1 58.4h0M642.5 50.9h0M587.5 99.9h0M534.6 139.4h0M568.1 110.7h0M602.6 80.3h0M593.6 89.4h0M512.2 148.8h0M542.5 126.1h0M593.6 91.2h0M551 127.9h0M585.9 92.8h0M502.4 158.3h0M570 122.6h0M592.4 91.1h0M592.7 85.1h0M549.1 131.9h0M533.2 144.2h0M576.1 109.3h0M525.8 141.9h0M559.4 115.8h0M585.4 96.7h0M511.5 150.5h0M515.9 155.5h0M518 149.5h0M541.7 131.3h0M539.9 128.4h0M587.8 96.1h0M578 98.2h0M545.8 129.1h0M621.3 68.5h0M501.9 161.1h0M538.7 132.7h0M556.3 126.9h0M546 131.5h0M533 129.9h0M517.3 150.2h0M545.5 129.9h0M594 94.1h0M589.3 89.3h0M535.9 143h0M557.3 129.2h0M486.3 168.3h0M515.2 161.1h0M532.1 146.2h0M631.7 61.8h0M578.3 104.5h0M576.2 103.3h0M512 165.6h0M572.8 106.8h0M540.3 138.9h0M632.2 58.7h0M520.7 140.8h0M520 147.5h0M514.7 156.4h0M596.2 84.6h0M624.3 64.5h0M553.4 123.4h0M580.2 98.5h0M645.5 49.2h0M625.6 63.1h0M580.4 102.2h0M602.8 82.9h0M620.7 64h0M577 101.8h0M618.6 73.3h0M576 101.4h0M532.5 139.4h0M523.4 149.6h0M617.5 70.8h0M524.4 154.3h0M589.7 94.4h0M645.9 45.5h0M535.6 134.6h0M542.2 134.5h0M514.6 159.3h0M514.2 142.7h0M587.2 95.8h0M535.1 146.1h0M607.4 77.3h0M558.8 122.9h0M590.5 87h0M665.7 33h0M639.4 56.5h0M623.4 65.9h0M608.1 78.4h0M580.9 102.6h0M555.1 116.9h0M518.8 150.1h0M565 115.9h0M515.8 146.7h0M539.1 125.3h0M553.6 128.4h0M535.4 139.6h0M649 41.9h0M524.1 145.7h0M589.5 89.2h0M550.8 130.4h0M508.2 158.3h0M611.6 81h0M510.4 154h0M666.7 33h0M640.5 53.2h0M638.4 55.7h0M651 59.5h0" stroke="#184b87" stroke-opacity="0.95"/>
<path d="M520.8 149.6h0M508.5 167h0M525.6 158.6h0M528.8 137.4h0M520.9 135.6h0M530 133.2h0M518.1 152.9h0M564.8 112.4h0M559.8 128.1h0M528.8 153.3h0M528.5 142.5h0M511.6 134.3h0M509.4 145.8h0M553.2 120.3h0M523.3 142.6h0M525.7 135.6h0M541.7 139.4h0M549.3 137.5h0M543.9 137.1h0M548.1 129.3h0M493.2 153.2h0M550.4 122.6h0M544.9 127h0M531.4 142h0M542.2 147.9h0M493.4 139.8h0M515.2 154h0M506.2 166.3h0M532.2 146.5h0M527.2 149.9h0M538.9 125.5h0M525.4 137.8h0M525 162.9h0M540.6 143.1h0M502 166.2h0M540 138h0M522 144.2h0M508.3 158h0M578.7 110.5h0M511.8 141.5h0M523 160.7h0M511.2 139.1h0M499.4 157.1h0M527.4 157.5h0M528.5 150.4h0M537.3 137.5h0M539.4 147.5h0M532.8 137.9h0M553.2 126.9h0M524.9 136.6h0M523.4 137.4h0M553.4 116h0M514.2 139.4h0M524 151.6h0M531.6 156.4h0M523.2 143h0M552.4 122.5h0M565.6 108.8h0M558.8 123.7h0M518 163.4h0M511.3 152h0M516.2 145.9h0M551.8 131.1h0M516.9 142.3h0M527.7 139.2h0M545.4 134.8h0M515.2 157.5h0M551.3 114.3h0M523.8 152.2h0M556.3 126.6h0M572.4 121.6h0M532.2 146.7h0M569 110.5h0M518.7 143.4h0M529.7 139.2h0M519.7 152.6h0M547.7 134.1h0M493.1 167.5h0M537.7 154.6h0M515.6 154.9h0M488.4 170.7h0M433.3 143h0M442.1 116.3h0M478 163.4h0M487.6 161.6h0M476.8 137.3h0M480.9 148.5h0M483.1 146.6h0M487.1 168.2h0M484.1 140.9h0M555.8 88.8h0M534.5 129.2h0M559.7 127.3h0M567.9 91.8h0M530.3 153.9h0M530 161.7h0M552.1 119.7h0M588.9 93h0M568 123.8h0M575.1 106.3h0M570.8 112.9h0M593.5 100.5h0M538.4 152.1h0M505.1 134.3h0M538.3 122h0M497.3 121.1h0" stroke="#cc4c02" stroke-opacity="0.72"/>
<path d="M520.6 150.2h0M627.7 62.8h0M550.4 130.4h0M583.4 98.6h0M525.5 152.3h0M615.6 74.7h0M515.4 154.8h0M620.7 69.6h0M562.5 129.3h0M590.6 97h0M541.9 128.5h0M501.3 164.1h0M520.7 144.6h0M560.2 121h0M586.5 95h0M505.8 164.1h0M518.4 148.7h0M575.3 105.7h0M538.5 134.5h0M609.8 74h0M651.8 48.8h0M543.1 134.5h0M594.5 90h0M509.3 162.8h0M521.3 144.5h0M543.6 126.6h0M508.2 153.9h0M520.3 144.3h0M562.6 115.7h0M510.1 162.4h0M544.5 133.8h0M622.7 65h0M521.7 153.4h0M603.1 82.4h0M589 90.8h0M603.5 82h0M599.5 82.5h0M539.2 136.5h0M543.9 126.8h0M552.4 123h0M563.6 112.7h0M650.3 46.5h0M577.6 99.8h0M538.2 133h0M591.7 85.8h0M573.4 110.6h0M569.3 109.8h0M566.3 118.6h0M515.6 149.9h0M547.7 127.5h0M574.4 101.1h0M562.1 109.8h0M524 151.8h0M512.3 155.8h0M645.5 47.7h0M507.1 157.8h0M518.7 150.2h0M531.9 135.8h0M614.1 73.4h0M597.7 86.8h0M557.8 123.8h0M593.6 90.3h0M522.6 146.2h0M545.5 127.3h0M564.5 115.2h0M506.2 154.2h0M617.9 70h0M626.4 61.3h0M552.2 124.6h0M592.2 87.1h0M565.4 103.4h0M603 80.4h0M623 64.2h0M613 71.3h0M642.8 51.7h0M549.3 128.6h0M573.5 105.3h0M551.5 125.5h0M601.5 81.6h0M554.4 128h0M605 84.8h0M552.9 123.4h0M525 153.7h0M575.7 112.5h0M544.3 125.6h0M544.8 135.5h0M552.3 128.6h0M637 54.8h0M545 128.3h0M624.4 64.6h0M525 141h0M596.2 86.8h0M589.7 90.6h0M607.5 79.1h0M535.2 135h0M646.3 48.8h0M527.9 140.7h0M577.5 109.8h0M539.7 132.6h0M550.5 126.6h0M538.9 137.3h0M540.3 140.4h0M584.4 95.5h0M551.6 128.3h0M575.7 110.4h0M612.3 77.7h0M517.9 154.7h0M558.6 121.4h0M613.2 69.1h0M580.3 103.2h0M525.1 143.3h0M539.7 129.6h0M566.7 117.5h0M617.8 68.8h0M648.7 43.9h0M525.3 147.4h0M631.1 59.3h0M599.6 86.8h0M573.5 110.3h0M587.8 92.1h0M580.6 102.4h0M630.3 62.8h0M519.8 155.3h0M531.8 142.1h0M546.9 136h0M572.9 108.5h0M609 79.5h0M578.3 101h0M534.3 145.3h0M532.7 139.1h0M583 94.6h0M506.4 156.7h0M621.3 66.8h0M578.5 100h0M519.3 147.1h0M578.1 103.5h0M645.1 50.9h0M544 143.5h0M542.6 139.1h0M523.9 147.2h0M592.5 85.8h0M570 110.7h0M525.6 151.2h0M610.5 75.6h0M573 106.3h0M571.4 110h0M526.4 147.7h0M511.1 153h0M561.6 118.4h0M581 100h0M546.8 128.1h0M507.1 160.7h0M589 98.5h0M515.9 149.3h0M528.4 144.2h0M570.6 108.8h0M573.8 106.8h0M587.3 94.3h0M522.1 150.5h0M575.6 105.2h0M592.2 85.6h0M609.3 77.6h0M631 63.2h0M564.6 110.1h0M586.6 90.6h0M566.1 121.2h0M537.7 135.8h0M539.3 139h0M634.6 54.3h0M588.8 93.3h0M526.9 139.8h0M516.8 150.6h0M540.2 141h0M609.3 74h0M589.6 85h0M623.5 65.1h0M616.4 70h0M605.2 81.1h0M528.9 140.2h0M549.6 128.4h0M501.5 158.3h0M515.1 147h0M594.6 88.9h0M568.5 107.4h0M572.6 106.9h0M549.4 125h0M522.4 152.7h0M519.9 142.1h0M534.5 140.1h0M582.9 103.8h0M547.4 123.7h0M513.5 154.1h0M552.9 122.8h0M513.3 156.9h0M531.5 139.8h0M506.8 153.9h0M615.4 70.3h0M574.3 104.5h0M577.7 101.8h0M568.7 110.3h0M576.9 98.5h0M517.5 156.4h0M529.2 141.6h0M571.1 108.6h0M519.6 150.1h0M517.4 156.6h0M532 141h0M533.4 142.2h0M527.1 137.9h0M587.2 96h0M563.1 112.6h0M550.3 133h0M585 96.5h0M513.2 163.4h0M553.6 122.5h0M538.5 131.9h0M534.3 135.3h0M552.6 127.6h0M563 111.7h0M620.7 68.5h0M596.2 87.9h0M591.5 89.8h0M580.3 102.2h0M642.7 51.4h0M548 137.7h0M614.9 70.9h0M530.9 142.1h0M536.7 126.6h0M597.5 87.8h0M542.6 131.3h0M503.1 162h0M526.2 147.1h0M527.4 141.4h0M524.5 144h0M608 68.9h0M588.1 97.9h0M632.4 59.2h0M526.4 145.1h0M591.4 88.9h0M628.6 62.5h0M606.7 74.3h0M627.6 62.3h0M625.7 69.2h0M567.5 110.6h0M567.7 107.3h0M585.3 97.9h0M601.8 80.9h0M527.6 142.2h0M597.9 86.2h0M615.2 72.2h0M533.9 139.8h0M512.9 150.8h0M502.2 165.9h0M595.7 87.1h0M572.4 107h0M567.6 113.8h0M552.6 125.4h0M666.9 33.3h0M526.4 144.9h0M556.7 131.6h0M546.8 124.5h0M547.8 130.9h0M528.8 140.9h0M558.6 126h0M548.7 130.5h0M606.5 81.9h0M534.9 137.2h0M609.3 77.5h0M611.6 73.4h0M606.1 79.9h0M528.8 136.8h0M577.6 101.3h0M503.7 160.3h0M556.1 122.1h0M613.4 71.8h0M504.8 166h0M535 132.4h0M532.3 139.6h0M613.3 72.3h0M527 148.9h0M602.6 83.3h0M573.5 112.7h0M574.1 105.4h0M597.5 86.1h0M500.9 163.7h0M533.1 137.7h0M625 65.5h0M631.9 60.2h0M591.8 82.5h0M606.4 76.7h0M561.8 121.9h0M576.7 98.8h0M617.5 72.2h0M589.5 92.5h0M622.9 67.3h0M527.8 150.8h0M552.3 132h0M550.9 126h0M606.9 85.3h0M581.4 99.5h0M583.1 94.9h0M513.9 159.7h0M607.6 73.2h0M599.6 83.9h0M595 90.7h0M602.3 78.9h0M518.7 147.5h0M509.1 164.9h0M589.1 92.6h0M536 140.1h0M513.3 157.6h0M616.3 69.1h0M520.4 154.8h0M537.7 135.3h0M591.2 86.1h0M566.5 110.2h0M583.7 93.8h0M597.5 91.2h0M577.9 107.9h0M529 142.3h0M541.9 138.9h0M585.6 103.1h0M545.8 129.1h0M554.5 118.3h0M596.9 86.8h0M633.3 59.2h0M553.7 125.6h0M584.6 91.3h0M579.2 98.5h0M599.5 82.1h0M515.2 152.7h0M615.5 74.9h0M563.7 120.4h0M532.3 138.7h0M592.6 86.8h0M584.5 97.7h0M573.2 107.4h0M529.7 147h0M521.4 147.7h0M534 137.2h0M554.6 120.9h0M584.6 94.4h0M663.6 33.2h0M658 40.1h0M649.2 40.1h0M651 46.4h0M442.7 145.3h0" stroke="#184b87" stroke-opacity="0.95"/>
<path d="M524.2 145.1h0M534.6 143.9h0M541.6 135.2h0M531.8 136.9h0M546.2 131.5h0M528.2 133.5h0M515 168.3h0M497.2 174.3h0M553.6 134.6h0M511.6 166h0M515.7 135.2h0M534.4 129.9h0M535.4 152.3h0M520.1 158.5h0M513.4 161.9h0M540.6 135.7h0M537 138.4h0M520.3 145.8h0M551 143.9h0M525 144h0M526.5 135.9h0M539.4 146.8h0M532.6 137.9h0M521.6 131.3h0M503 157.5h0M502.7 162.4h0M509.3 157.9h0M533.2 129.9h0M554.3 126.4h0M555 128.9h0M515.1 156.9h0M558.7 141h0M511.7 157.5h0M510.2 148.1h0M547.7 144.1h0M528.9 154.1h0M533.2 137.3h0M554.3 136.9h0M515.6 156h0M519.8 150.9h0M506.6 149.1h0M538 132.6h0M517.6 160h0M529.6 156.7h0M523.1 138.5h0M512.1 166.3h0M500 162.8h0M512.2 155.6h0M534.6 148h0M526.3 149.5h0M533.8 130.9h0M521.8 134.1h0M513 142h0M527.6 150.2h0M519.8 148.1h0M532.3 153.1h0M548.9 134.4h0M412.5 155.5h0M441.5 158.7h0M471 141.8h0M463.1 150.7h0M450.1 169h0M414.9 159.7h0M482.2 165.9h0M479.6 152.9h0M435.4 132.3h0M486 136.4h0M475.1 138h0M476.6 138.5h0M530.7 131.6h0M538.3 151.7h0M517.5 136.9h0M552.3 124.5h0M580.3 125.3h0M558.9 146.5h0M560.9 89.7h0M583.3 100.6h0M571.2 122.6h0M537.9 144h0M581.7 102.1h0M562.7 130.3h0M503.9 111.2h0M471.2 107.3h0" stroke="#cc4c02" stroke-opacity="0.72"/>
<path d="M561.4 126.5h0M517.8 151.4h0M537 141h0M501.7 157.7h0M540.4 127.3h0M501.4 163.6h0M507.2 157.4h0M511.1 152h0M532.4 145.4h0M530.3 145.8h0M514.1 146.9h0M551.3 126.2h0M524.1 154.5h0M511.3 149.2h0M520.3 148.6h0M538.1 137.5h0M528.4 160h0M506.9 149.2h0M522.8 158.1h0M497.6 162.5h0M538 140.7h0M545.5 122.1h0M519.3 144.9h0M495.3 158.3h0M544.3 139.6h0M542.6 138.1h0M527.6 144.3h0M543.7 139.5h0M512 157.8h0M539.3 129.4h0M532.8 133.9h0M517.6 164.7h0M506.6 160.9h0M542.5 133.7h0M547.4 121.7h0M537.5 137h0M542.9 143.4h0M541.7 122.5h0M513.3 154.6h0M544 137.4h0M555.4 125.1h0M508.6 154h0M539.8 137.2h0M523.5 146.4h0M509.4 156.3h0M513.8 148.3h0M501.2 143.6h0M529.4 145.6h0M527.9 119.8h0M511.9 168.1h0M532.7 136.3h0M536.3 145.6h0M508.7 161.8h0M508.8 151.3h0M508.4 167.7h0M539.5 141.5h0M540 142.3h0M534.7 152.3h0M534.4 143.5h0M525.7 148.5h0M541.7 141.9h0M533.7 136.5h0M524.1 146.7h0M544.9 150.4h0M542.5 126.9h0M488.6 157.8h0M502.3 171.3h0M537.6 141.5h0M441.7 169h0M450.4 153.1h0M423.9 164.1h0M419.6 166.9h0M486.8 148.4h0M470.7 168.8h0M489.2 147.4h0M476.4 162.8h0M485 165.2h0M481 173.2h0M491.2 129.4h0M487.6 116.3h0M484.4 191.2h0M599.6 95.9h0M574.3 119.9h0M563.1 140.4h0M521.9 157.3h0M525.3 162.8h0M545.8 141.9h0M552.7 128h0M540.1 150.3h0M580.5 99.2h0M532.6 143h0M562.2 123.2h0M565.4 118.3h0M532.6 121h0M533.9 134.5h0M568.7 110.2h0M537.6 131.2h0M544.6 123.1h0M530.8 117.7h0M487.1 109.8h0" stroke="#cc4c02" stroke-opacity="0.72"/>
<path d="M529.2 136.8h0M519.1 155.4h0M508.1 147.5h0M516.4 157.7h0M552.2 138.6h0M526.6 144h0M517.5 154.2h0M537.4 139.5h0M555.2 118.3h0M538.9 127.7h0M553.2 131h0M527.1 163.5h0M539.5 143.1h0M532.7 160.9h0M500.4 158.8h0M533.4 144.3h0M527.9 146.9h0M505 152h0M571.6 123.5h0M543.9 134.3h0M516.1 141.4h0M524.5 155.3h0M547.3 145.6h0M523.1 148.4h0M535.9 151.2h0M536.7 138.6h0M538.4 139.5h0M509.4 154.9h0M499.4 158h0M529.8 138.8h0M540 132.5h0M532.6 144.3h0M511.6 151.8h0M496.5 151.9h0M513.8 156h0M533.8 139h0M491.7 147.8h0M529.4 147.1h0M536.4 138.9h0M534 137.9h0M540.9 147.4h0M524.2 136.4h0M532 141.3h0M525.5 144.2h0M511 150.1h0M544.9 141.5h0M519.6 124.7h0M527 137.1h0M515 148.8h0M537.4 134.3h0M509.5 155.1h0M518.2 145.4h0M497.7 147.6h0M527.2 156.3h0M518.3 145.7h0M500.8 167.2h0M528 138.5h0M522.4 148.6h0M513 143.2h0M554.8 130h0M504.9 165.9h0M495.3 144.9h0M509.8 139.5h0M544 148.6h0M523.2 151.9h0M509.9 143.7h0M552.1 129.8h0M521.7 151.7h0M540.1 134.4h0M506.1 154.7h0M527 150.8h0M545.5 143.9h0M513.1 150.7h0M528.4 159.8h0M527.5 151.4h0M471.9 127.4h0M475.9 162.9h0M481.8 163.1h0M462.4 169.6h0M490.7 151h0M476.2 138.6h0M486.6 180.9h0M485.3 187.6h0M573.2 116.6h0M564.8 120.4h0M594 115h0M556.5 129.5h0M516.2 155.5h0M484.5 201.2h0M563.1 135.9h0M540.9 147.9h0M576.3 107.1h0M549.8 129.1h0M554.1 125.1h0M602.6 99.1h0M593.7 109.2h0M588.3 102.2h0M500.4 182.9h0M600.5 116.2h0M572.7 98h0M568.4 109.7h0M571 129.9h0M594 95.1h0M558.7 134.3h0M571 124.5h0M557.8 99.2h0M549.9 127.3h0M559.5 108.2h0M550 115.3h0" stroke="#cc4c02" stroke-opacity="0.72"/>
<path d="M539 146.8h0M545.7 137.7h0M515.8 158.5h0M560.2 133.1h0M522.9 147.7h0M544.1 131.1h0M543.8 137.3h0M509.5 143.5h0M507.9 162h0M502.7 151.4h0M534.5 141.3h0M540.1 144.7h0M506.5 145.1h0M515.7 148.5h0M525.2 133.5h0M521.2 156.3h0M524.4 146.9h0M524.6 144h0M500.5 164.3h0M514.8 152.6h0M512.7 151.7h0M534.7 136.6h0M538.6 133.2h0M525.7 132.2h0M558.7 133h0M548.7 129.3h0M529.7 140h0M497.2 167h0M527.6 149.5h0M525.8 153.7h0M519.8 158.7h0M535.2 126.4h0M478 158.8h0M534.2 144h0M520.6 144.9h0M513.5 150h0M554.1 128.4h0M508.7 154.8h0M532.1 134.5h0M550.1 140.8h0M524.6 139.9h0M516.7 148.8h0M496.8 173.4h0M511.4 153.8h0M537.6 127.1h0M520 151.1h0M524 158h0M525.4 152.9h0M508.5 158.6h0M510.5 138.8h0M519.5 139.8h0M530.5 127.6h0M550 127.3h0M517.5 139.8h0M542.6 122.5h0M558.1 131.9h0M515 155.4h0M528.6 130.4h0M506.8 136.9h0M504.4 166.3h0M540.6 135.4h0M532.2 148h0M527.3 155.2h0M532.5 152.6h0M553.1 131.5h0M533.9 132.9h0M536.7 145.2h0M532.5 132.6h0M514.3 164.3h0M505 159.4h0M477.6 126.1h0M455.7 145.9h0M431.1 151.1h0M455.6 171.5h0M427.4 126.5h0M414.9 142.1h0M470.2 155.5h0M446 123.3h0M490.1 138.6h0M481.3 128.9h0M485.4 150.2h0M485.2 159.3h0M486.9 158.5h0M487 168.7h0M495.4 169.5h0M515.5 160.3h0M580.9 101.1h0M531.5 145.6h0M529.1 154.3h0M485.1 165.8h0M589.3 97.2h0M553.3 121h0M531 140.9h0M564 117h0M542.8 124.3h0M549.3 128.3h0M565.4 127.1h0M601.7 102h0M543 140.3h0M483.4 109.9h0" stroke="#cc4c02" stroke-opacity="0.72"/>
<path d="M524.9 151.4h0M483.9 161h0M550.3 132.7h0M544.9 137.1h0M511.3 138.5h0M500.1 152.6h0M532.4 139.5h0M516.1 139.9h0M529.8 136h0M560 125.1h0M521.5 149h0M527.5 146.4h0M521 154.1h0M510.7 156.5h0M545.3 111h0M540.6 123.3h0M517.4 152.3h0M528.6 147.2h0M521.6 152.3h0M543 135.4h0M528.1 141.9h0M547.1 138.7h0M521.3 148.6h0M546.7 104.3h0M531.1 138.4h0M539.6 123.1h0M545.8 141.3h0M519.1 153.1h0M512.9 159.1h0M549.2 131.8h0M523.2 159.4h0M561.5 134h0M538.2 137.6h0M554.7 132.4h0M570.9 127.4h0M508 140.8h0M515.9 150.7h0M504 161.7h0M521.2 149.6h0M530.2 139h0M548.8 128h0M538.4 143.9h0M533.8 145h0M525.3 134.6h0M555.6 135.2h0M549.7 148.6h0M506.1 144.5h0M541.4 139.8h0M503.4 148.7h0M516.1 149.2h0M553.4 130.3h0M522.9 158.2h0M526.1 149.4h0M529.2 152.8h0M532.7 138.4h0M529.1 155.9h0M537.8 133.8h0M552 128h0M547.8 140.9h0M548.8 130.8h0M548.2 127.7h0M533.9 127h0M543.4 150.8h0M536.2 138.3h0M537.2 118h0M526.7 144.8h0M523.5 144.5h0M529.5 148.5h0M507.7 158.5h0M558.2 126.2h0M524.2 148.8h0M524.3 137h0M520.4 153.6h0M512.9 160.9h0M525.1 139.4h0M526.1 143.5h0M533.3 142.4h0M515.7 147.1h0M546.8 126.6h0M518.9 151.3h0M534.6 147h0M531.4 142.7h0M527.3 146.8h0M555.9 145.3h0M510.5 167.7h0M528.5 146.9h0M563.1 140.3h0M519.9 149.6h0M527.4 146.4h0M522.6 165.4h0M524.5 146.8h0M446.1 153.9h0M419.3 157.2h0M463.3 162.6h0M444.8 144.3h0M443.6 173.5h0M478.4 156.6h0M474.2 171.7h0M422.3 142h0M464.6 156.7h0M453.7 182.3h0M484.5 135.5h0M488 180.3h0M554 145.7h0M603.7 108.3h0M600.9 102.7h0M553.3 103.6h0M524.8 149.9h0M548.7 138.1h0M573.6 141.4h0M496.5 160.7h0M578.6 105.8h0M553.9 144.7h0M549.8 113.5h0M584.3 98.6h0M578.8 110.5h0M554.7 124.7h0M548.6 119.2h0M559.1 129.8h0M527.5 144.8h0M573.4 118.9h0M572.9 114.5h0M532.8 146h0M487.9 136.3h0M520.2 138.8h0M454.4 117.8h0M525.7 121.9h0M482.5 131.8h0M496.8 135.1h0" stroke="#cc4c02" stroke-opacity="0.72"/>
<path d="M650.8 141.1h0M607.1 93.9h0" stroke="#cc4c02" stroke-opacity="0.72"/>
</g>
<g stroke-width="3.2" stroke-linecap="round" fill="none">
<path d="M302 359.2h0M303.4 354.1h0M287.3 346.3h0M279.7 351.7h0M287.4 357.2h0M290.7 362.2h0M303.1 352h0M310.6 346.8h0M305.3 360.7h0M301.7 356.5h0M315.8 343.1h0M276.7 357.5h0M316.8 346.7h0M317.1 344.2h0M297.9 362.1h0M318.2 349.7h0M296.6 357.6h0M307.9 347.9h0M295.6 371.2h0M295.9 361.3h0M293.8 359.7h0M294.8 354.5h0M293.1 357.1h0M300.9 348.9h0M296.3 366.3h0M307.7 355.4h0M281.8 353.2h0M316.2 349.9h0M305.1 349.1h0M316.3 342.1h0M306.6 352.3h0M299.9 354.5h0M297.1 353.1h0M307.7 352.5h0M285.3 360.8h0M290 357.4h0M306.1 347.3h0M306.6 343.6h0M307.8 349.5h0M308.4 342.5h0M317.8 345.6h0M297.9 353h0M299.6 345.2h0M298.3 351.2h0M300.2 345.1h0M316.4 341.3h0M312.7 344.8h0M282.3 361.3h0M301.7 361.2h0M283.3 347.8h0M288.7 359.6h0M310.9 347h0M300.2 342.9h0M309.9 347.4h0M268.1 348h0M288.6 349.2h0M312.5 344.7h0M303 345.4h0M309.2 341.3h0M276.6 353.9h0M307.1 347.9h0M290.7 369h0M298.6 343.2h0M296.8 353.2h0M288 358.6h0M299.1 361.9h0M298.4 344.4h0M297.1 359.1h0M306.7 348.4h0M296.4 348.3h0M289.8 349.1h0M300.8 349.8h0M316.1 343.9h0M272.9 352.9h0M306.3 352.1h0M304.5 345.6h0M291.6 351.3h0M306.2 352.2h0M307.8 342.6h0M300.1 352.7h0M304.2 349.8h0M298.4 353.7h0M292.2 351.5h0M277.5 356.4h0M297.4 344.9h0M306.1 345.2h0M299.1 347.9h0M312 353.1h0M299.7 343.3h0M293.8 364h0M288.7 357.4h0" stroke="#cc4c02" stroke-opacity="0.12"/>
<path d="M308.8 355.9h0M300 351h0M298.6 369.3h0M281.4 353.2h0M300 343.6h0M303.7 347.6h0M299.4 353.8h0M319.5 343.7h0M299 355.3h0M294.2 360.1h0M316.4 342.1h0M295.3 356.9h0M281.9 356.7h0M293.4 361.6h0M284.1 346.2h0M310.1 348h0M311.4 343.1h0M314.7 343.7h0M282.3 355.7h0M276.7 357.1h0M311.6 348.8h0M293 354.1h0M316.4 345.3h0M297.7 353.3h0M305.7 349.1h0M288.1 363.5h0M309.5 345.9h0M304.6 348.3h0M305.5 357.7h0M312.4 343h0M305.7 348.3h0M299.6 373.7h0M298.6 352h0M312.9 345.1h0M277.1 357.7h0M317.7 343.9h0M296.8 346.7h0M293 352.7h0M306.2 346.3h0M288.4 353.4h0M295.7 354.6h0M298.4 347.3h0M309.8 347.5h0M303.9 350.7h0M293.3 357.9h0M308 346.1h0M304.6 345.6h0M303 347.4h0M305.7 346.3h0M297.1 343.4h0M304.4 348.9h0M312.6 342h0M306.6 344.3h0M294 356.7h0M300.5 354.4h0M310.6 343.2h0M289.8 364h0M289.6 351h0M296 356.2h0M310.9 341.6h0M286.8 358h0M297.3 351.9h0M313.5 343.8h0M297.6 350.4h0M302.3 345.3h0M298.6 346.3h0M297.3 355.7h0M292.9 358.1h0M306.6 349.7h0M285.4 350.2h0M307.6 344.6h0M310.8 343.9h0M294 350.4h0M292 354.7h0M291.2 365.6h0M289.2 369h0M313.1 348h0M311.1 344.5h0M309 354.5h0M296.5 363.4h0M302.2 346.6h0M295.8 363.3h0M312.2 354.8h0M309.8 343h0M296.6 354.5h0M297.8 359.5h0M316.1 345.5h0M300 351.7h0M315.7 341.1h0M288.8 356.9h0M310.4 344.6h0M294.8 346.3h0M304.2 357.3h0M296.1 343.1h0M293.1 358.6h0M302 369h0M302.3 355.1h0" stroke="#cc4c02" stroke-opacity="0.12"/>
<path d="M295.6 347.9h0M289.2 348.1h0M305.4 354.3h0M306.7 351.2h0M300.9 357.3h0M291.2 354h0M298.8 347.4h0M298.8 355.6h0M317.1 345.3h0M295.3 363.3h0M295.5 366.8h0M287.1 345.8h0M293.2 355.4h0M312.7 348.6h0M303.4 343.5h0M286.1 349.6h0M289 364.1h0M303.3 346.6h0M300.1 351.9h0M316.3 352.2h0M316.6 341.6h0M281 358.5h0M314.5 341.2h0M308.6 341.9h0M311.9 341h0M316.6 341.9h0M293.7 362.5h0M305.6 349.8h0M286.7 358.8h0M304.7 348.3h0M297.4 342.8h0M298.5 345.2h0M301.9 357.3h0M298.9 355.7h0M313.2 348h0M293.3 361.1h0M313.1 347.6h0M286.6 362.7h0M312.4 346h0M297.8 353h0M312.3 344.8h0M315.2 349.1h0M314.7 343.4h0M290.3 361.6h0M311.2 349.6h0M301.5 346.3h0M296.4 354h0M311.6 348.3h0M292.9 359.2h0M299.8 343.1h0M311.7 346.5h0M288 363.4h0M305.5 344.8h0M306 348.8h0M302.7 346.5h0M287.4 353.5h0M315.4 346.5h0M299.8 348.7h0M284.7 361.8h0M298.3 347.2h0M299 361.2h0M304.3 349.1h0M297.8 365.1h0M280.4 355h0M312.6 344.4h0M287.2 354h0M291.7 353.7h0M300.5 353.7h0M306.8 350.2h0M296.1 349h0M311.6 342.3h0M309.7 353.2h0M284.3 366.8h0M307.8 349.8h0M313.1 342.4h0M301.7 366.1h0M297.8 366.1h0M281.5 350.7h0M309.6 341.8h0M295.6 347.6h0M316 348.4h0M301.9 368h0M297.4 350.7h0M293.8 353.5h0M288.4 345.7h0M309.5 345h0M278.5 357.5h0M287.3 356.5h0" stroke="#cc4c02" stroke-opacity="0.12"/>
<path d="M302.7 351.2h0M281.4 356.9h0M306.9 345h0M303.2 358.7h0M305.3 342.3h0M311.9 342.6h0M291.2 361.6h0M305.4 346.4h0M281.7 360.8h0M303.5 358.2h0M296.6 357.5h0M288 352.6h0M315 345.5h0M282.9 351.7h0M294.3 355.7h0M282.5 349.6h0M304.9 358.6h0M317.6 342.1h0M287.6 360.5h0M299.1 348.6h0M317.1 343.8h0M306.4 343.7h0M287.7 357.4h0M291.6 367.3h0M301.4 351.4h0M309.9 344.7h0M281.6 347.4h0M289.8 345.7h0M279.1 349.8h0M303.6 355.6h0M291.3 352h0M287.5 360.5h0M302.9 359.4h0M294.7 352h0M283.6 364.3h0M304.3 349.1h0M299.4 343h0M298.4 349.6h0M290.1 352.1h0M291.4 359.7h0M311.4 342.5h0M294.2 356.4h0M307.1 353.1h0M300.3 360.9h0M304.6 354.1h0M302.7 353.6h0M301.7 362.3h0M313.6 346.7h0M297 347.8h0M304 360.7h0M304.1 352.2h0M292 372.3h0M316.2 352.8h0M299.1 351.3h0M276.8 348.4h0M291.3 366.4h0M306.3 350.6h0M315.2 343.8h0M300.3 353h0M306 343.8h0M303.4 348.9h0M311.3 343.3h0M315.2 342.8h0M296.6 367.6h0M299.4 344.9h0M306.7 349.1h0M316.3 343.1h0M291.1 349.3h0M291.2 347.1h0M316.1 343h0M301.7 353.7h0M290.6 345.5h0M286.7 364.2h0M299.5 356.2h0M291.7 366.3h0M279 359.1h0M293.8 350.7h0M306.9 351.2h0M276.9 349h0M314.9 341.2h0M306.3 371.5h0M297.6 348.8h0M307.1 344.3h0M287.4 350.4h0M308 345.3h0M278.9 352.7h0M298.3 359.7h0M304.7 341.6h0M304.3 357.8h0M308 343.4h0M282.3 345.4h0M315.7 346.6h0M315.5 346.3h0" stroke="#cc4c02" stroke-opacity="0.12"/>
<path d="M287.2 363.1h0M286.7 364.1h0M296.4 351.1h0M295.2 341.4h0M306 355.5h0M283.3 357.6h0M291.5 357.4h0M306.1 350.4h0M318 343.5h0M306.3 344.7h0M310.4 346.2h0M307.5 347h0M305.2 351.4h0M286.8 364.1h0M305.9 351.8h0M300.8 353.2h0M281.2 352.1h0M308 343.5h0M293.7 364h0M294.9 356.2h0M307.1 348.6h0M309.4 346h0M297.8 356.6h0M310.5 354.2h0M315.6 341.7h0M290.4 365.3h0M305.3 353.6h0M298.9 341.2h0M293.3 367h0M290 356.6h0M315.4 344.1h0M302.4 353.6h0M300.6 352.6h0M294.5 364.4h0M294.9 363h0M309.3 342h0M288.5 347.9h0M292.8 344.6h0M300.6 344.5h0M307 347.2h0M305.8 342.6h0M302 350.2h0M313.3 342.8h0M291.4 359.6h0M276.9 353.6h0M304.1 355.7h0M308.2 346.2h0M311.8 348.4h0M300.4 364.1h0M307.8 345h0M297.3 350.5h0M280.6 356.3h0M284.8 360.5h0M303 355.1h0M316.5 344.4h0M303.9 354h0M291.5 344h0M297.7 353.3h0M298 351.5h0M283.1 342.2h0M276.3 355.7h0M314 340.6h0M307.2 341.5h0M317.9 346.3h0M312.7 349.8h0M297.3 347.2h0M304.9 361.9h0M301.6 348.8h0M303.3 353.5h0M308.1 365.6h0M283.3 353.5h0M297.4 367.7h0M298 358.9h0M298.8 348.3h0M280.2 360.4h0M301.5 354.8h0M300.6 347.9h0M306.6 345.8h0M299.2 344.5h0M304.1 353h0M308.7 348.5h0M291.9 361.9h0M306.9 353.3h0M288.4 353.5h0M305.9 353h0M291.1 361.4h0M305.7 348.2h0M291.8 356.7h0M299.6 359.4h0M315.6 344.7h0M292.5 347.7h0M285 362.4h0M304 364.4h0M308.3 349.3h0M317.2 349.4h0M297.1 355.3h0M294.4 366h0M290.3 360h0M300 354.3h0M296.1 351.4h0M294.3 354.9h0M288.1 356.9h0" stroke="#cc4c02" stroke-opacity="0.12"/>
<path d="M312.3 342.6h0M298.8 361.5h0M315.4 345h0M307.2 352.5h0M302.8 356h0M310.4 353h0M308.5 344.6h0M296.9 346.3h0M314.9 341.9h0M289.1 359.6h0M309.1 346h0M292.2 342.7h0M290.5 361.6h0M310.3 342.9h0M298.1 357.4h0M298.4 347.9h0M289.2 347.8h0M307.9 342.8h0M307.1 346.9h0M298 355.7h0M307.9 355.6h0M300.9 348.5h0M315.8 345.4h0M311.9 345.6h0M274.4 349.8h0M289.2 349.5h0M290.3 359.1h0M310.8 343.2h0M311.8 341.9h0M275.1 352.6h0M299.6 351.5h0M305.8 345.7h0M308.4 354.2h0M307.7 340.9h0M307.9 346.9h0M306.6 345.2h0M316.4 345.4h0M291.5 348.3h0M295.1 361.1h0M299.1 357.4h0M307.2 345.1h0M309 342.7h0M286.3 356.3h0M311.9 350h0M307.4 352.5h0M312.5 342.5h0M308.6 347.7h0M287.9 355.3h0M299 355.9h0M292.7 352.6h0M309.9 345.2h0M289.4 357.8h0M312.2 343.2h0M301 355.3h0M309.4 343h0M294.1 367.4h0M313 341.2h0M292.4 351h0M289.4 358.2h0M312.9 345.1h0M297.9 359.5h0M295 350.9h0M304.1 355.2h0M293.1 352.8h0M294.2 362.2h0M290.4 366.3h0M304.5 354.4h0M299.8 347.2h0M312.7 344.9h0M300 345.4h0M305.2 349.9h0M303.7 365h0M315.4 343.7h0M303.7 349.6h0M316.5 355.4h0M278.2 349.8h0M307.3 349.2h0M288.3 349.8h0M313 342.9h0M295.2 358.5h0M310.3 354.8h0M281.6 350.6h0M315.5 340.8h0M302 368.7h0M289.4 350.9h0M308 341.8h0M286.9 365.4h0M295.2 353.2h0M305.5 364.9h0M285.4 360.4h0M298.7 348.4h0M306.6 353.9h0M309.7 343.6h0M307.1 347.1h0M312.2 341.1h0M308.1 352h0M299.3 355.4h0M287 350h0M293.1 361.3h0M294.7 350h0M300.2 352.8h0M305.1 342.8h0M297 355.8h0M300.8 345.2h0M304.2 345.2h0M313.6 343.6h0M304.3 343.4h0M295.7 346.3h0M284.8 353.1h0M290.3 355.9h0M297.7 354.6h0" stroke="#cc4c02" stroke-opacity="0.12"/>
<path d="M306.9 352.4h0M306.9 352.8h0M312.3 347.7h0M311.4 347.4h0M301 355.8h0M313.6 344.7h0M320.5 342.6h0M307.8 349.2h0M316.3 344.4h0M299.8 358.7h0M315.6 346.7h0M318.5 346.6h0M293.3 359.5h0M304.3 353.3h0M300.4 360.5h0M318.1 344h0M311.3 348h0M317.7 347.2h0M318 343.4h0M315.4 348.5h0M308.5 349.3h0M314.1 348.2h0M306 355.8h0M313.5 347.8h0M304.2 348.6h0M311.9 343.2h0" stroke="#cc4c02" stroke-opacity="0.18"/>
<path d="M302.9 352.1h0M312.4 345.1h0M309 352.8h0M316.4 346.3h0M316 344.3h0M297.9 353.3h0M308.4 351h0M310.1 349h0M294.6 357.4h0M316.6 346.8h0M304.6 350.7h0M308.1 353.3h0M308.6 351.3h0M320.2 345.4h0M318.8 342.7h0M309.9 347.3h0M312.2 345.9h0M314 350.7h0M303.6 352.8h0M316.7 347h0M307.1 352.7h0M309 349.3h0M320.8 343.3h0M315.9 347.1h0M306.6 352.5h0M312.6 348.8h0M316.3 345.7h0M315.8 344.5h0M303.7 351.6h0" stroke="#cc4c02" stroke-opacity="0.18"/>
<path d="M302.6 361.7h0M317.3 347.1h0M319 343.7h0M309.4 348.2h0M300.2 359h0M313.3 346.7h0M309.3 354.5h0M312.2 348h0M314.5 347.2h0M312.8 346.5h0M315.6 346.2h0M313.2 345.5h0M314.3 347.3h0M317.4 347.8h0M306.7 349.5h0M304 356h0M316 345.1h0M308.2 351.9h0M307.3 348.7h0M302 359.4h0M313.4 346.2h0M320 343.1h0M296.5 363.8h0M318.8 344.4h0M316 346.3h0M315.9 346.7h0M310 347.1h0M315.5 343.7h0M312.9 346.1h0M318.4 345.2h0M307.5 350.7h0M293.7 361.2h0M301.1 358.6h0M314.7 347.8h0" stroke="#cc4c02" stroke-opacity="0.18"/>
<path d="M303.6 358.2h0M299 352.6h0M306.9 352.3h0M314.2 350.5h0M311.2 351h0M307.8 348.1h0M305.2 352.2h0M317.2 342.4h0M300.9 364.5h0M313.8 347.1h0M314.8 344.7h0M303.4 348.5h0M315.3 348h0M319.7 344.3h0M318.5 343.8h0M320.9 343.8h0M314.3 345.1h0M318.8 342.4h0M301.1 352.1h0M309.6 347.4h0M294.8 362.7h0M310 348.8h0M319.5 343.7h0M311.1 349.3h0M300.1 350.1h0M309.8 354.5h0M309.2 350.2h0M314.8 345.5h0M296.3 366h0M315.7 348h0M316.7 345.8h0" stroke="#cc4c02" stroke-opacity="0.18"/>
<path d="M321.3 343.2h0M313.6 346.6h0M309.4 353.9h0M311 345h0M313.6 346h0M298.5 358.1h0M314.7 348.3h0M305.5 357.6h0M303.9 351.1h0M318.8 346.2h0M303.8 355h0M301.8 353h0M316.1 346.3h0M304.1 351h0M318.1 346.9h0M295.7 357h0M311.4 348h0M316.9 347.6h0M309 352.2h0M318 347.4h0M306.5 351.4h0M316 348.5h0M315.2 346.9h0M304.1 356h0M307.2 353.6h0M314.2 346.1h0M315.6 343.1h0M308.9 346.8h0M310.4 353.9h0M309.5 351.4h0M294.7 357.2h0M317.3 344.9h0" stroke="#cc4c02" stroke-opacity="0.42"/>
<path d="M312.9 347.1h0M294.4 356.7h0M309.3 353.9h0M320.7 345.3h0M317.9 347.6h0M310 350h0M300 362.2h0M310 346.2h0M317.4 343h0M299.6 357.5h0M317.4 346.9h0M297 362.1h0M316.8 346.5h0M307.7 351.2h0M302.4 351.9h0M308.7 347.7h0M320.7 344.9h0M313.7 345.5h0M300.9 356.1h0M311.7 348.4h0M317 342.8h0M303.8 351.6h0M307.8 352.8h0M317.8 344.1h0M317.4 347.2h0M315.1 345.6h0M318.8 343.7h0M308.1 347.3h0M308.1 354.5h0M315.4 348.5h0M316.9 346.8h0M299.5 354.7h0M313 348.6h0M298 356.3h0M317.1 347.1h0M306 353.8h0M317.1 341.7h0M311.7 347.6h0M318.9 341.6h0" stroke="#cc4c02" stroke-opacity="0.42"/>
<path d="M302 355.3h0M317.9 345h0M311.8 343.6h0M306 354h0M314.5 347.2h0M296 354.4h0M301.6 353.3h0M313.2 349.2h0M312.5 349.9h0M311.6 346.2h0M309.1 356.9h0M315.1 345.6h0M306.1 353.4h0M309.5 348h0M313 347.9h0M308 351.2h0M301.9 355.9h0M313.8 352.5h0M294.9 357.4h0M317.6 346.1h0M304.5 349.5h0M316.8 347.4h0M316.3 346.6h0M316.5 348.8h0M300 360.8h0M315.4 347.6h0M319.6 343.4h0M304.4 355.4h0M298.8 358.7h0M309 349.4h0M300.3 360.7h0M314.2 347.8h0M299.6 354h0" stroke="#cc4c02" stroke-opacity="0.42"/>
<path d="M315.2 349.3h0M317.5 347.3h0M306.2 353.6h0M316.5 345.3h0M317.8 344.9h0M318.6 343.6h0M317.2 348.8h0M309.8 348.5h0M314.9 349.6h0M313.3 349.4h0M315 346.8h0M312.5 347.8h0M314.9 347.1h0M317.4 344.4h0M318.5 343.8h0M317.1 345.7h0M289.7 360.8h0M308.9 351.7h0M314.8 350.1h0M298.2 356.2h0M307.7 349.7h0M319.2 343.7h0M315 347.3h0M297.4 354.2h0M320.6 344.8h0M311 349.5h0M310.4 349.3h0M317 344h0M308.3 350.1h0M306.8 346.9h0M308.1 349.9h0M312.7 345h0M319.8 342.4h0M315.1 344.5h0M312.9 350.2h0M299.8 354.6h0M314.9 348.1h0M319.1 344.6h0M318.4 341.2h0M300.8 356.2h0M302 352.8h0M303.6 353.5h0M314.1 349.9h0M303.7 349.5h0" stroke="#cc4c02" stroke-opacity="0.42"/>
<path d="M197.6 440.9h0M270.3 378.6h0M246.8 391.6h0M108.2 506.2h0M260.3 379.4h0M126.4 494.3h0M286 365.7h0M258 383.1h0M207 425.1h0M76.1 539.6h0M267.1 397.2h0M258 385.2h0M279.3 374.3h0M281.7 380.7h0M267.4 391.1h0M276.3 373.2h0M239.4 421.7h0M241.3 389.2h0M252.6 389.8h0M264.5 375.5h0M279.4 377.5h0M285.8 363.4h0M189.2 446h0M247.6 403.4h0M223.3 409.9h0M71 540.4h0M288.2 376.2h0M248.9 400h0M267.6 384.5h0M275.6 377h0M263.4 380.7h0M265.9 371.7h0M250.3 388.6h0M223.2 410.7h0M188 438.7h0M135.9 483.9h0M232 412.2h0M269.4 365.6h0M155.6 477.2h0M247.1 390.7h0M167.3 455.4h0M231 413.7h0M203.8 433.1h0M281.1 390.8h0M245.2 393.2h0M65.4 544.9h0M250.3 398.7h0M249.4 397.5h0M266.6 395.4h0M261.4 399.4h0M262.2 383.4h0M270.1 367.5h0M291.2 368.3h0M142.1 476.1h0M241.7 405.1h0M265.7 386.3h0M210.5 432.7h0M280.8 374.2h0M170.1 463.2h0M288 378.8h0M229.2 409.7h0M254.1 388.7h0M251.2 392.5h0M190.2 449.2h0M252.4 400.6h0M180 453h0M244.1 404.4h0M140.1 469.9h0M290.6 368.6h0M247.8 404.1h0M265.8 382.5h0M190.2 447.5h0M275.5 373.1h0M275.3 392.8h0M265.8 390.9h0M222.9 426.3h0M131.3 490h0M291.3 372.3h0M214.5 418.5h0M65.4 543.9h0M231.9 404.6h0M272 379.3h0M159.1 469.1h0M259.8 391.8h0M77 530.6h0M198.5 437.9h0M212.2 425.6h0M257.6 382h0M201.9 420.3h0M256.7 396.7h0M271 385.1h0M236.5 404h0M204.9 431h0M190.4 451.9h0M271.7 375.9h0M135.3 487.5h0M212.2 426.2h0M70.1 539.7h0M239.5 395.4h0M262.7 380.3h0M267.8 371.3h0M151 468.9h0M189.8 449.9h0M292.4 366.2h0M239.8 402.2h0M222.2 421h0M253.2 381.6h0M261.2 394h0M272.6 383.5h0M228.2 400.4h0M84 537.6h0M176.6 456.5h0M213.9 416.4h0M250.5 393h0M220.5 411h0M276.1 383.5h0M77.6 532.3h0M257.6 380.6h0M261 384.2h0M228.4 425.6h0M248.1 398h0M282.3 371.5h0M267.3 398.9h0M199.9 430.6h0M167 466.2h0M93.9 526.1h0M280.3 376.1h0M241.5 401.3h0M216.7 415.7h0M153.8 473.2h0M172.3 454.2h0M248.8 403h0M229.7 422.1h0M236.7 401.8h0M256.9 390.3h0M244.5 399.2h0M268.1 379.1h0M245.2 411h0M278.8 383h0M232.6 409.2h0M232 406.5h0M187.7 443h0M271.2 378.9h0M265.8 388.4h0M152.5 471.1h0M192.3 439.9h0M243.4 404.2h0M108.4 516.3h0M162.3 459.7h0M189.3 454.6h0M237.3 416.8h0M223.5 393.5h0M274.2 380.6h0M160.3 462.9h0M237 404.5h0M179 458.9h0M234.7 413.1h0M136 485.9h0M203.8 419.1h0M268.8 379h0M66.9 539.7h0M238.4 402.1h0M265.9 382.7h0M217.1 429.3h0M280.9 376h0M278 361.5h0M283.7 388h0M281.5 371.5h0M177.8 455.4h0M236.5 411.4h0M178 457.5h0M75 535.5h0M285.9 372h0M270.4 387.9h0M238.8 398.2h0M127 490.7h0M279 381h0M263.8 395.6h0M296.4 371.9h0M71.9 534.8h0M249.9 390.7h0M260.3 387.5h0M250.2 391.1h0M184.9 443.4h0M259.5 389.6h0M252.3 396.3h0M261.6 394.1h0M91 520h0M241.3 410h0M113.9 506.2h0M276 384.7h0M85.7 532.4h0M164.6 462.5h0M199.6 423.5h0M267.9 379.8h0M281.6 377.1h0M227.2 407.8h0M260.7 378.9h0M117.7 499.5h0M261.8 394h0M212.6 432.1h0M255.8 400.7h0M282.5 369.3h0M84.5 529.6h0M248.1 396.2h0M290.5 373.4h0M241.8 400.4h0M253.7 386.8h0M258.4 392.3h0M228 402.1h0M245.3 393.1h0M245 391.8h0M186.9 448.4h0M241.9 408h0M236.6 403.1h0M209.8 427.6h0M232.6 411.1h0M214.8 426.5h0M242.8 409.6h0M226.5 415.4h0M286.7 371.5h0M264.5 389.5h0M212.7 427h0M281.9 381.7h0M184.2 438.7h0M271.9 386.4h0M219.3 420.7h0M232.3 417.6h0M284.8 357.8h0M101.9 517.8h0M156.8 461.9h0M245.3 393.5h0M277.9 374.8h0M272.4 380.1h0M198.8 443.3h0M252.2 388.6h0M251.8 385.2h0M121.4 502.7h0M275 392h0M256.7 401.8h0M238 401h0M293.2 365.1h0M255.8 396.1h0M257.1 388.1h0M256.2 395.3h0M136.1 484.6h0M197.3 434.6h0M275.9 390.4h0M237.5 391.8h0M267 402.7h0M222 410.4h0M268.9 390.1h0M281.1 374.7h0M252.5 402.3h0M188.4 443.3h0M277.2 389.8h0M219.5 421.4h0M264.6 383.2h0M171.5 452h0M248.3 400.7h0M283.8 364.9h0M142.6 478.2h0M265.1 382.6h0M186.9 442.1h0M263.3 388.3h0M196.2 434.9h0M215.9 405.4h0M215.5 425.3h0M90 522.9h0M214.8 423.5h0M262.6 382.5h0M280.5 383h0M202.8 430.2h0M244.1 398h0M156.5 471.4h0M277.4 386.6h0M268.3 381.7h0M70 541h0M209.1 429.8h0M260.1 386.8h0M289.2 384.2h0M261.1 382.6h0M286.8 369.3h0M244.1 407.9h0M80.7 526.7h0M230.7 405.5h0M275.3 364.6h0M250.4 401.8h0M262.2 394.3h0M168.3 457.6h0M265.1 390.3h0M230.1 402.5h0M270.3 376.3h0M256.6 390.2h0M260.5 387.3h0M237.5 413.7h0M254.5 400.2h0M238.3 408.8h0M285.3 367.9h0M210.8 423.8h0M85.9 535.1h0M290.9 372.5h0M272.8 386.8h0M139.4 491.5h0M246.8 403.8h0M164.3 454.2h0M191.4 451.1h0M288.6 367.8h0M225.6 419.5h0M276.7 373.7h0M231.7 403.3h0M271.8 385.5h0M95.6 524h0M252.7 401.8h0M215.9 423.9h0M294.1 361.8h0M272.6 375.4h0M238.9 402.9h0M222.3 412.9h0M285.8 368h0M180.1 449.7h0M240.5 401.3h0M112.4 508.3h0M177.2 455.9h0M297.3 362.8h0M240 404.5h0M273.1 379.6h0M241.5 412.4h0M271.9 397.9h0M272.9 385.3h0M65.1 544.4h0M280.6 389.5h0M196.4 430.6h0M247.2 396.2h0M203.7 439.5h0M267.1 387.4h0M271.5 372.4h0M245 396.5h0M137.2 485.3h0M258.6 396.8h0M150.8 472.2h0M231.9 412.5h0M266.6 385.1h0M279.8 380.1h0M189.9 439.7h0M286.8 358.9h0M264.4 393.1h0M66.2 544.9h0M260.6 394.6h0M275.2 377.1h0M283.5 370.6h0M279.3 375.6h0M152.1 463.7h0M249.2 395.1h0M257.8 385.2h0M232.1 402.4h0M173 462.2h0M281.8 373.2h0M282.1 370.8h0M127.4 494.4h0M279.3 384.8h0M235.4 413.5h0M282.7 362.2h0M283.9 369.7h0M188.3 448.4h0M242.2 404.9h0M100.9 517.6h0M197.9 443.3h0M247.8 406.5h0M178.3 446.1h0M151.5 464h0M287.9 367.6h0M256 396.6h0M228.3 431.2h0M200.2 430.2h0M228.6 411.4h0M280.5 371.9h0M212.6 430.5h0M228.9 416.6h0M73.9 543.4h0M282.7 375.7h0M252.9 397.4h0M65.9 545.5h0M293.4 373.1h0M201 439.1h0M212.6 425.9h0M137.7 480.2h0M192.4 429.8h0M153.9 472.6h0M172.2 450.2h0M278.4 379.9h0M280.5 368.7h0M269 385.9h0M262.1 386.4h0M227.1 421.2h0M265 389.5h0M252.6 390.7h0M244 404.5h0M167.8 456.9h0M64.4 541.6h0M299.8 364.3h0M226.1 409.1h0M255.9 378.2h0M139.3 479.1h0M276.3 387.9h0M252.2 395.9h0M213.3 414.4h0M239.3 404.7h0M273.9 389.1h0M156.5 471.9h0M131.8 493.8h0M284 382.3h0M69.3 547h0M286.4 372.4h0M288.7 369.7h0M277.9 378.7h0M242.9 412.5h0M274.5 388.4h0M234 426.3h0M285 377.7h0M288 361.1h0M220.1 411.9h0M243.8 404.8h0M293.1 360.5h0M248.4 395.1h0M106.2 506.5h0M234.5 411.4h0M208.6 424.8h0M112 498.7h0M109.1 506.8h0M176.6 456.2h0M185.7 440.1h0M223 423.3h0M251.1 390.5h0M107.1 507.7h0M274.8 370.6h0M105.8 513.6h0M255.5 404.4h0M75.6 541.2h0M210.4 423.4h0M211 424.8h0M231.4 407.6h0M218.4 431.5h0M149.2 476h0M106.4 510.1h0M275.8 399.2h0M276.1 379.2h0M287.9 361.7h0M285.9 354.9h0M263.9 383.9h0M296.5 368.3h0M279.1 369.4h0M251.8 392.9h0M79 534.9h0M288.8 359.7h0M271.7 376.8h0M208.7 425.6h0M267.1 377h0M86.2 528.6h0M253.7 387.5h0M226 414.2h0M76.1 537.9h0M220.6 410.6h0M271.2 374.8h0M259.2 394.8h0M275.5 368.2h0M281.3 355.4h0M286.7 374.5h0M162.4 465.4h0M236.1 407.4h0M267 384.9h0M246.5 394.2h0M293.3 364.4h0M233.1 416.7h0M258.1 398h0M274 377.3h0M130.2 492.4h0M252.5 384.2h0M270.4 387.9h0M267.2 385.6h0M244.8 403.4h0M72.9 541.3h0M284.2 372.3h0M267.1 381.8h0M234.4 406.2h0M285 375.2h0M217.8 413.3h0M272.1 381.7h0M80 526.6h0M70.3 540.3h0M254.8 390.2h0M266.5 386.5h0M253.5 410.3h0M182.8 451.8h0M183 458.3h0M267 377.7h0M198.1 426.9h0M289.6 366.1h0M275.9 382h0M97.9 516.9h0M218.2 416.6h0M250.4 401h0M274.6 378.2h0M254.7 395.3h0M244.3 393.5h0M246.3 395.7h0M74.8 532.4h0M225.7 421h0M207.5 434.9h0M98.6 522.5h0M90.6 519h0M213.9 429h0M263 385.3h0M249.7 406.2h0M237.2 409.3h0M254.1 400h0M74.4 534.2h0M189 451.6h0M163.1 465.5h0M287.4 369.3h0M173.8 458.6h0M108.8 510.8h0M93.5 523.1h0M236.9 413.2h0M231.5 401.8h0M251.2 397h0M292.9 377.8h0M292.4 365.4h0M156.4 460.3h0M197.8 432.3h0M264.5 380.8h0M70.1 545.5h0M284.1 372.4h0M278.5 370.9h0M293.2 365.7h0M226 414.4h0M214 430.9h0M200 434.4h0M229.3 407.9h0M274 375.2h0M194.3 427.7h0M226.3 410.6h0M282.5 379.4h0M268.6 396.5h0M254.4 407.9h0M249 398.8h0M74.6 536.2h0M235 395.9h0M219.8 411h0M211.7 422.4h0M83.4 533.3h0M80.3 532.2h0M277.3 372.8h0M256.5 386.4h0M75.6 533.1h0M261.9 382.4h0M283.7 380.6h0M290.2 357h0M232.1 403.8h0M287.1 373.9h0M254.9 396.6h0M238.1 409.1h0M201.1 438h0M224.7 418.3h0M261.6 393.5h0M70.7 541.4h0M157.3 476h0M254.9 406.4h0M302.5 375.7h0M303.3 371.3h0" stroke="#184b87" stroke-opacity="0.95"/>
<path d="M317.5 346.4h0M319.8 344.1h0M314.6 347h0M303.5 350.2h0M314.6 344.4h0M313.4 345.5h0M311.1 351.3h0M318.3 344.1h0M312.1 346.8h0M320.6 343.7h0M317.9 344.2h0M299.4 353.4h0M314.8 345h0M310.4 348.5h0M312 349.9h0M305.1 352.6h0M304.8 352.8h0M308.6 351.1h0M304.9 352.8h0M308 347.5h0M317.4 349.5h0M300 349.8h0M293.6 361.2h0M317.8 348.5h0M319.6 342.9h0M308.8 351.2h0M306.6 353.2h0M315.6 344h0M316.4 344.1h0M311.5 347.3h0M314 345.6h0M315.3 342.7h0M313 346.4h0M311.9 347.5h0M292 358.7h0M292.6 366.2h0M311.9 347h0M308 350h0M311.1 350h0M318 344.4h0M316.4 345.2h0M317.3 344.3h0M309.8 347.9h0M306.2 351.3h0M316.2 345.3h0M306.5 360.2h0M315.1 347.1h0M304.5 355.2h0M318.6 345.1h0M298 358.7h0M309.6 348.4h0M318.3 344.2h0M315.6 345.3h0M297.9 354.4h0M317.5 345.6h0M311 349.8h0M311.8 347.7h0M313.2 346.6h0M309.5 348.7h0M308.1 353.5h0M296.2 364.5h0M308 346.9h0M295.8 350.9h0M306.5 349h0M309.1 352.9h0M307.8 349.7h0M312.7 349.2h0M304.5 347.7h0M306.9 350.7h0M314 350.1h0M308.3 352h0M317.5 343.2h0M306.8 347h0M306.4 353.7h0M311.1 346.8h0M302 352.8h0M299 353.2h0M297 354.6h0M301 356.7h0M306.7 350.8h0M302.2 357.3h0M304 351.2h0M309.5 352h0M314.5 347.6h0M313.4 353.6h0M316.4 346.1h0M304.4 355.4h0M316 343.7h0M314.4 347.5h0M310.3 354.1h0M299.5 353h0M295.1 357.2h0M312.9 349.2h0M317.9 342h0M317.9 343h0M314 347.1h0M307.8 353.4h0M303.5 355.3h0M304.6 352.9h0M314 345.6h0M305.8 347.9h0M303.2 357.1h0M318.4 343.5h0M314.3 348.2h0M308.1 351.7h0M316 345.8h0M315.4 348.3h0M313.3 344.3h0M313.6 352.1h0" stroke="#cc4c02" stroke-opacity="0.72"/>
<path d="M227.7 414.1h0M245.9 403h0M255.1 398.4h0M268.1 385.8h0M67.9 546.8h0M288.3 363.3h0M286.2 377.6h0M255.8 399.4h0M289.8 373.5h0M181.5 443.3h0M187 441.3h0M267.6 382.3h0M116.4 502h0M202.1 421.4h0M251.3 399.4h0M260.9 399.3h0M276.6 392.1h0M271.1 386.4h0M279 388h0M84.4 532.2h0M104.7 514.9h0M140.1 486.2h0M78.6 529.1h0M246.2 389.7h0M259.9 388.9h0M138.5 486.8h0M244.4 397.8h0M274.9 386.6h0M274.2 390.8h0M225.8 412.1h0M248.2 412.5h0M106.3 505.8h0M242.2 406.6h0M222.1 429.2h0M260.1 403.8h0M155.8 473.4h0M298 378.9h0M264.6 393.3h0M83 531.9h0M273.3 386.1h0M286.4 369.7h0M244.1 397.2h0M68.9 543.8h0M248.7 405.7h0M283.6 378.6h0M277.6 373.3h0M219.5 425.3h0M235.4 400.7h0M250.8 385h0M225 411.9h0M233.4 416.4h0M222.9 412.4h0M251.9 383.4h0M265.2 395.2h0M68.3 541.7h0M228.1 404.1h0M229 404.6h0M239.6 388.4h0M187.1 445.1h0M262.4 386.8h0M221.1 422.9h0M290.3 375.5h0M180.4 455.2h0M147.1 465.3h0M68.3 541.8h0M299 366.8h0M190.2 434.7h0M237.8 406.4h0M272.7 380.5h0M283.8 372.5h0M292.7 376.6h0M259.4 389.4h0M267.8 377.3h0M270.6 374.5h0M249.5 411.1h0M260.9 391.6h0M266.5 378.6h0M254.9 389.7h0M192.3 439.1h0M237.4 416.9h0M193.2 444.5h0M193.6 427.3h0M197.7 438.2h0M270.2 388.7h0M294.4 371.7h0M95.3 523.6h0M274 387.9h0M228.1 406.2h0M254.5 389.8h0M295.9 372.1h0M259 401.9h0M291.1 379.2h0M278 372.5h0M185.8 443.6h0M268.6 388.9h0M286.1 368h0M259.9 389.1h0M96.8 520.7h0M249.7 391.8h0M224.2 416.2h0M202.4 431.2h0M237.3 420.3h0M195.4 448.3h0M253.1 398.8h0M256 398.4h0M86.1 530.3h0M248 409.8h0M224.9 404.3h0M273.1 389.8h0M266.9 390.1h0M224.5 413.2h0M249.5 395.6h0M257.7 402.5h0M282.3 372.9h0M288.4 368.8h0M107.1 515h0M272.7 379.2h0M216.3 429.4h0M271.6 381.6h0M245.8 406h0M201.7 427.3h0M281.4 378h0M224.6 416.9h0M243.5 399.2h0M268.9 389.2h0M130.1 497.3h0M225.2 412.4h0M265.6 388.4h0M218.3 424.1h0M83.5 530.6h0M196.5 440.9h0M270.2 388.3h0M230 413.4h0M263.3 375.1h0M203.4 438.2h0M277.6 384.5h0M86.4 522h0M77.9 536.3h0M274.7 392.3h0M93.7 529.5h0M70.2 544.1h0M265.7 397.8h0M258.9 391.6h0M271.6 368.7h0M261.4 387.5h0M208 430.8h0M226 406.4h0M266.1 385.7h0M239.6 392.5h0M242.7 403.7h0M103 517.7h0M263.3 392.4h0M188.9 444.7h0M168.7 469.3h0M73.2 543.1h0M228.8 419.3h0M144.9 477.3h0M69.7 540.7h0M217.9 424.4h0M120 505.3h0M298.9 362.5h0M83.2 533.4h0M188.5 450.1h0M204.8 430.7h0M248 406h0M282.5 365.2h0M177 457.2h0M200.1 434.3h0M218.9 422.7h0M105.9 510.6h0M296.5 367.9h0M295.4 370.5h0M214 422.2h0M288.9 371.1h0M221.4 414.2h0M286.3 372h0M144.1 475.4h0M239.9 399.6h0M114.1 506.6h0M263.3 396.1h0M232 412.2h0M203.1 420.7h0M200.9 430.1h0M256.2 391h0M288.2 370.3h0M70.5 547.9h0M258 389h0M289.2 370.3h0M214.7 425.7h0M264.5 393.2h0M256.9 392.6h0M70.7 546.8h0M254.1 386.6h0M253.7 388.5h0M210.1 425.4h0M245.9 407.3h0M221.1 411.1h0M255.2 409.1h0M254.2 385.4h0M216.8 418.1h0M117 503.4h0M269.1 391.3h0M276.5 381.7h0M292.9 360.8h0M215.5 415.8h0M234.4 412.1h0M239.8 406h0M253.4 393.9h0M70.6 537.9h0M229.6 409.4h0M278.2 381.8h0M259.3 387.3h0M105.7 510.9h0M66 535.9h0M108.3 521.8h0M283.2 378.1h0M253.1 401h0M114.1 510.3h0M274.4 365.5h0M218.3 413.5h0M269.4 397h0M78.4 534.7h0M288.5 387.4h0M229.6 402.5h0M268.2 382.1h0M230.7 400.8h0M174.1 450.4h0M305 367.8h0M224.7 426.4h0M160.5 468.5h0M88.7 517.2h0M135.6 481.8h0M100.6 511.3h0M75.2 531.1h0M227.8 418.6h0M80.8 533.6h0M220.9 422.5h0M212 424.4h0M275.1 386.1h0M291.3 366.1h0M289 366.7h0M239.7 405.5h0M255.9 387.6h0M218.3 427h0M259.4 395.7h0M270.6 385.3h0M283.1 374h0M135.8 480.2h0M211.6 422.3h0M133.2 485h0M176.8 452.7h0M267.3 392.4h0M255.9 392.1h0M211.8 420.1h0M265.3 383.5h0M232.9 416.9h0M227 412.9h0M213.1 425h0M273.1 367.7h0M248.7 389.8h0M234.6 411.2h0M263 395.7h0M271 380.3h0M257.3 398.9h0M284.8 384.5h0M255.2 402.8h0M244.2 403.5h0M268.2 376h0M253.6 391.4h0M98.1 521.5h0M82.5 534.8h0M194.4 428.8h0M255.9 402.3h0M288.6 372.2h0M278.9 368.4h0M229.7 423.7h0M253.8 392.9h0M107.1 516.1h0M235.6 405.6h0M292.9 371.7h0M254.1 395.4h0M270.2 372.8h0M291.8 363.3h0M278.1 373.6h0M264.3 376.2h0M292.6 369.9h0M200.6 436h0M93.6 515.9h0M169.8 454.3h0M279.1 388.1h0M248.8 400.9h0M178 447.9h0M246.6 401.7h0M75.2 537h0M242.7 398.6h0M302.6 366.4h0M114.9 505h0M252.3 398.3h0M190.2 447.8h0M275.5 363.7h0M181.8 453.9h0M277.9 367.3h0M266.3 380.5h0M267.6 381.2h0M286.6 368.4h0M261.2 384.9h0M274.1 384.3h0M225.5 397.7h0M279.5 373.1h0M100.3 511.6h0M269.3 369.3h0M139.8 478.3h0M236.7 413.9h0M211.5 424.8h0M236.6 416.3h0M211.4 426.8h0M248.4 389.5h0M269 380.3h0M226.4 426.5h0M275 380.9h0M268.3 389.7h0M299.1 377.4h0M269.7 385.2h0M192.3 456.6h0M263.8 397.6h0M198.7 440.9h0M76.7 540.2h0M182.8 449.1h0M197.1 435.2h0M256.5 389.2h0M73.6 542.8h0M263.3 386.8h0M247.9 392.8h0M236.7 397.5h0M255.9 396.2h0M221 424.5h0M265.6 379.5h0M260.9 392.7h0M247.4 388.6h0M272.5 378.7h0M201.6 443.2h0M199.1 421.7h0M191.7 445.6h0M87.3 533h0M281.9 365.9h0M234.5 412.5h0M241.3 397.7h0M235.1 408.1h0M281.9 362.3h0M264.8 384.2h0M270.4 391.2h0M105 517.4h0M279.1 370.5h0M220.6 418.6h0M200.4 435.1h0M289.1 366.7h0M282 370.5h0M226.6 406h0M233.6 399.7h0M278.7 371.3h0M71.6 543.8h0M256.2 386.2h0M240.6 408.7h0M119.8 500.1h0M150.2 474.2h0M162.3 461.8h0M79 538h0M272.9 386.8h0M133 492.6h0M270.4 372h0M231.2 403h0M233.1 407.8h0M270.7 380.7h0M247.5 397.4h0M282.5 366.9h0M71.1 542.7h0M239.2 408.9h0M264.1 390.4h0M226 414.7h0M215.3 416.8h0M272.6 377h0M220.4 424.4h0M265.5 367.3h0M117.4 498.9h0M164.4 461.5h0M68.3 545.5h0M258.9 384.4h0M249.4 401.8h0M277 368.4h0M69.6 540.7h0M271.2 385.3h0M244.9 409.6h0M175 456.1h0M234.4 406.3h0M83.2 527.3h0M272 378.6h0M204.2 427.3h0M247.8 404.2h0M268.5 373.8h0M216 422.4h0M263 389.1h0M213.2 427.6h0M243.1 402.9h0M230.4 427.4h0M266.5 388.6h0M216.2 431.7h0M275.7 393.4h0M72.8 541.3h0M255.2 394.6h0M182 444.9h0M170.7 460.2h0M250.3 402.1h0M275.1 386.1h0M255.1 401.1h0M277.5 378.5h0M280.9 376.2h0M266.9 387.9h0M190.6 443.5h0M92.9 529.4h0M138.1 485.5h0M276.3 378.5h0M291 366.8h0M258.9 399.1h0M217.6 426.6h0M240.2 407.2h0M230.8 409.2h0M280.1 381.4h0M291.4 369.5h0M270 373.2h0M237.3 406.4h0M291.1 365h0M207.8 433.9h0M260.2 395.2h0M173.6 448.2h0M201.9 430.1h0M278 377.1h0M85 532.8h0M261.7 385.8h0M76.2 539.2h0M263.4 380.8h0M142.1 482.5h0M243.4 393.4h0M190.3 436.4h0M251.6 397.7h0M191.8 445.9h0M251.3 394.7h0M183.8 451.9h0M276.1 385.1h0M249.4 380.2h0M226.7 422.3h0M253.6 393h0M83.3 531.9h0M288.7 368.1h0M235.4 396.4h0M127 497.1h0M255 390.9h0M300.1 375.5h0M208.7 430.5h0M271.8 376.2h0M241.8 394.8h0M99.9 521.1h0M110.5 504.6h0M76.9 531h0M124.8 496.4h0M252.8 403.4h0M286.8 368.9h0M289 366.1h0M73.5 535.2h0M171.2 458.4h0M124.4 495.5h0M82.1 527.5h0M194 432.7h0M173.2 454.2h0M223.2 422.3h0M267.6 392h0M135.3 494h0M282.9 372.4h0M280.5 384.2h0M270 380h0M283.7 377.5h0M192.8 443.9h0M254.8 389.5h0M236.9 403.1h0M76.9 539.7h0M215.1 425.4h0M84.6 530.3h0M178.3 442h0M257.5 394.3h0M286.4 368.1h0M167.6 458.1h0M248.2 401.6h0M281.8 373.1h0M260.5 385h0M134.7 487h0M239.3 403.3h0M274.5 383.3h0M73 538.5h0M221.4 412.8h0M269.5 396.7h0M238.3 406.9h0M234.8 411.6h0M269.8 382.3h0M80.5 534.6h0M201.8 433.5h0M244.5 392.2h0M72.9 544.9h0M138.9 483.1h0M253 398.4h0M241 408.1h0M176.6 460.8h0M246.2 410.3h0M170.1 447.4h0M218 411.2h0M187 445.6h0M281.1 371.7h0M264.4 375.2h0M262.2 387.9h0M264.5 382.5h0M92.8 523.4h0M280.1 377.4h0M278.7 379.5h0M200.9 430.7h0M181.4 438.2h0M294.7 361.8h0M206.1 435.8h0M229.4 405.1h0M262.3 383.7h0M81.7 537h0M298.5 374.3h0M235.9 409.4h0M215.6 422.9h0M67.6 544.5h0M244.6 400.9h0M66.4 541.9h0M261.1 382.4h0M263.8 383.7h0M185.6 442.3h0M229.2 405.9h0M263.6 387.6h0M106 512.9h0M269.4 384.7h0M249.2 400.7h0M257.9 394.3h0M269.2 380.8h0M275 386.3h0M289.7 364.8h0M219 416.7h0M267.1 389.7h0M267.2 383.8h0M73.7 533.6h0M151.8 471.5h0M287.1 369.3h0M263.9 385.7h0M202.1 438.7h0M224.9 417.8h0M207.5 434.8h0M228.9 407.7h0M210.8 437.9h0M289 367.7h0M243.3 409.3h0" stroke="#184b87" stroke-opacity="0.95"/>
<path d="M319.5 344.2h0M311.6 345.9h0M319.9 344.8h0M310.2 347.1h0M313.1 350.7h0M297.1 359.8h0M303.4 353.6h0M307.3 350.3h0M308.7 354.9h0M319.2 342.6h0M306.9 349.9h0M316 349.2h0M313.8 346.6h0M310.9 347.4h0M312.2 352.9h0M299.7 357.8h0M314.4 347h0M304.5 351.5h0M287.9 353h0M300.3 356.9h0M302.9 354.8h0M301.2 356.4h0M305.2 355.4h0M298.3 355.9h0M308.9 351.6h0M309.9 349.1h0M304.4 355.9h0M319.2 344.3h0M310.6 346.4h0M289.7 359h0M310.6 349.4h0M307.4 353.7h0M312.8 346h0M320.4 344.7h0M299.1 357.7h0M302.1 356.1h0M310.9 351.6h0M305.9 353.3h0M314.9 344.3h0M310.5 346.8h0M316.3 345.9h0M318.8 342.7h0M303.1 352.4h0M316.8 346.4h0M302.1 355.4h0M310.3 347.4h0M301.7 360.8h0M315.7 345.1h0M298.9 356.3h0M307.3 352.7h0M315 346.7h0M317.7 344.6h0M305.1 350.1h0M301.3 356.7h0M309.6 350.9h0M313.6 349.5h0M314.6 344.2h0M305.7 353.2h0M315.1 349.6h0M297.2 354.4h0M312.5 347.3h0M287.3 351.8h0M316.5 343.2h0M302.7 354.4h0M305 355.3h0M318.7 345h0M307.9 353.4h0M307.9 351h0M291.6 352.5h0M310 349.8h0M308.8 349.8h0M309 349h0M317 347.6h0M310.3 353.5h0M310.9 348.1h0M293.1 355.2h0M301.9 355.4h0M307.1 349h0M313.7 348.5h0M310.3 346.8h0M319.1 343.3h0M305.4 353.2h0M311.3 345.7h0M319.3 344.9h0M298.8 354.8h0M310.3 351.9h0M316.4 344.3h0M305.7 352.7h0M311.6 346.7h0M311 352.7h0M312.1 347.1h0M312.8 350.3h0M317.1 343.5h0M307.5 352.5h0M311.2 348.1h0M312.7 345.1h0M312.5 346.7h0M303.6 350.8h0M306.1 350.1h0M319 344h0M311.2 349.3h0M299 351h0M302.6 358.9h0M318.1 346.2h0M314.2 345.2h0M315.4 348.8h0" stroke="#cc4c02" stroke-opacity="0.72"/>
<path d="M160.3 463.4h0M234.1 410.4h0M205.8 427.2h0M252.3 385.5h0M219.1 428h0M242.5 409.2h0M271.1 383.4h0M262.2 385.2h0M256.3 392.1h0M208.6 424.6h0M268.6 385.7h0M237.9 403.2h0M155 473.6h0M181.9 450.3h0M169.5 451.8h0M281.2 368.7h0M183.1 445.5h0M271.7 372.7h0M250.3 390.5h0M295.3 369.5h0M210.6 405.5h0M177.5 448.7h0M191 447.4h0M269 370.8h0M257.2 380.5h0M248.8 398.4h0M238.2 400.2h0M245.9 400.9h0M231.1 417.5h0M219.9 418.5h0M221.4 419.9h0M281.9 369.1h0M274.6 380.6h0M215.4 416.5h0M233.8 407.5h0M245.1 403.1h0M256.7 386.7h0M219.4 422.5h0M291 374.3h0M249.4 402.5h0M297.9 360.7h0M249.4 402.3h0M227.3 407.7h0M263.2 391.9h0M267.2 390.1h0M207.9 420.6h0M274.4 387.5h0M160.5 463.4h0M240.4 413.3h0M288 365.3h0M218.1 419.4h0M261 387.3h0M249.2 380.2h0M263.6 390h0M248.1 399.2h0M254 383.7h0M251.1 403.9h0M271.5 371.5h0M223 418.9h0M97 517.4h0M282.6 378.8h0M129.5 494.3h0M290.1 380.2h0M283.2 388.7h0M253 404.6h0M278.6 373.1h0M140.8 476.3h0M258.1 394.5h0M238.3 409.7h0M251.7 397h0M249.6 407.4h0M281.5 380.2h0M214.1 441.4h0M183.3 450.3h0M243 406.7h0M272.7 377.7h0M280.6 375.5h0M237.7 399h0M292.5 379.6h0M74.9 542.8h0M147.3 479.9h0M245.2 396.8h0M191.7 439.6h0M177.9 453.5h0M225.9 410.7h0M81.7 535.7h0M286.1 369.4h0M253.5 389.9h0M198.5 437.1h0M278 369.1h0M219.3 425h0M133.9 486.3h0M218.8 418.9h0M270.2 378.2h0M287.2 366.2h0M231.6 411.5h0M242.2 401.7h0M269.1 378.7h0M87.2 532.7h0M274.3 384.9h0M269.1 379.5h0M246.3 400.7h0M296.3 368.2h0M244.9 401h0M99.5 511.9h0M262.8 381.9h0M247.9 384.8h0M216.8 432.7h0M221 413.2h0M267.9 389.2h0M282.7 374.5h0M161 468.7h0M276.9 382.5h0M202.7 442.5h0M179.9 442h0M226.7 412.2h0M83 533.1h0M78.4 536.2h0M219.1 411.1h0M254.6 382.6h0M254.1 393h0M268.3 379.2h0M75.8 534.8h0M180.8 455.6h0M75.6 535.8h0M181.6 451.7h0M66.3 545.1h0M259.3 383.5h0M202.5 425.6h0M287.5 381.2h0M274.9 388.4h0M220.2 411.8h0M268.5 377.6h0M292.5 364.7h0M123.7 499.6h0M84.2 526.8h0M266.2 381.8h0M280.5 364.4h0M229.4 415.8h0M219.4 405.2h0M273.1 383.1h0M127.1 491.9h0M172.5 453.5h0M248.3 385h0M206.9 437h0M298 361.2h0M140.6 480.5h0M92.5 516.9h0M287.5 364.6h0M270.5 372h0M220.3 431.3h0M266.2 382.8h0M264.7 398h0M290 364.8h0M246.7 405.9h0M180.2 449.4h0M83.6 528.4h0M279.5 374.2h0M235.6 402.3h0M268.4 384.9h0M248.6 402.9h0M261 392.5h0M73.4 539.6h0M213.5 417.8h0M236.7 413.6h0M129.8 485.5h0M257.3 389.1h0M271.3 375.6h0M275.3 375.7h0M232.2 400.6h0M255.4 399.1h0M83 538.8h0M236.3 413h0M231.4 412.9h0M260.2 402.2h0M203.7 424.4h0M268.3 394.2h0M266.1 394.6h0M240.9 400h0M148.8 465.5h0M281.6 384.5h0M217.6 422.1h0M160.7 472.7h0M280.8 375.6h0M227.3 399.9h0M243.5 402.6h0M208.5 422.1h0M280.9 383.5h0M280.8 377.4h0M241.2 406.7h0M242.6 398.5h0M94.6 519.7h0M125.5 507.7h0M264 396.1h0M257 397.9h0M201.9 440.9h0M149.9 476.3h0M200.6 428h0M269.3 367.9h0M256.5 377.6h0M291.6 374.6h0M221.8 426.5h0M131 492.3h0M216.1 412.2h0M229.6 415.4h0M223 429.3h0M273.4 370h0M265.2 387.2h0M283.6 379.8h0M158 466.6h0M197.6 432.9h0M176.3 449.8h0M225.2 410.1h0M242.6 416.5h0M255.8 376.7h0M94.6 522.5h0M175.9 468.8h0M158.7 463.1h0M271.6 374.6h0M239.5 397.6h0M252.9 412.2h0M259.4 391.3h0M260.3 378.9h0M249.1 396h0M301.5 370.8h0M289.9 360.1h0M197.7 436.1h0M284.9 361.7h0M202.9 436.6h0M227.2 419h0M294.1 373.4h0M290 363.3h0M268.3 388.2h0M247 396.8h0M86.9 530.4h0M235 416.1h0M196.9 448.7h0M220.2 419h0M118.5 501.8h0M71.5 542.8h0M280.7 374h0M270.1 386.9h0M280 374.6h0M193.3 447.3h0M216.7 425h0M249.6 397h0M290.6 374.1h0M279.1 369.6h0M230.5 402.9h0M284.9 365.3h0M242.7 406.1h0M270.6 385.6h0M269.9 395.3h0M241.7 380.8h0M261.6 388.1h0M254.5 385.6h0M234.8 400.1h0M280.5 367.8h0M190.8 436.1h0M291.5 365.7h0M242.6 397.3h0M279.7 374.1h0M176.2 458h0M257.2 396.8h0M242.6 396.8h0M292.3 377.1h0M240.5 410.2h0M72.6 539h0M211.6 428.3h0M227.3 407.6h0M223 414.7h0M274.8 380.3h0M179.7 449.7h0M111.8 506.7h0M285.8 368.9h0M268.1 382.9h0M78.7 528.6h0M72.6 541.7h0M224 412.9h0M107.5 515.2h0M173.3 455.2h0M284.9 377.4h0M296.6 361h0M240.9 403.9h0M260.1 401.8h0M158.3 459.2h0M218.7 415.1h0M280.7 371.8h0M267.4 380.1h0M283.6 373.4h0M264.1 384.1h0M296.2 377.6h0M266.1 391.4h0M199.6 435.9h0M217.2 409.6h0M252.5 388.2h0M217.7 421.5h0M231.3 401.9h0M275.5 389.9h0M146.2 477.1h0M211.6 434.2h0M80 537.3h0M228.9 423.5h0M258 399.6h0M109 517.5h0M250.6 404.2h0M282.9 376.2h0M106.5 517.3h0M240.8 404.6h0M285 369.6h0M295.9 372.1h0M265.3 378.2h0M74.2 535.4h0M260.5 389.5h0M251.1 397.2h0M156.8 471.6h0M296.5 368h0M215.6 427.5h0M228.8 411h0M105.4 513.2h0M268.5 394.2h0M240.5 393.7h0M78.3 540.6h0M70.5 538h0M230.2 407h0M272.5 378.2h0M277.3 366.9h0M93.4 525.8h0M208.7 422.1h0M281.2 358.1h0M251.9 397.4h0M218.5 422h0M196.7 432.3h0M257.9 393.2h0M247.8 393.8h0M292.5 364.7h0M229 400.7h0M287.9 374.3h0M281.2 363.2h0M230.6 399.3h0M280.1 383.1h0M257 388.1h0M234.4 402.9h0M290.5 364.5h0M97.5 519h0M284.1 372.5h0M136.2 485.5h0M72 541.4h0M142.9 482h0M84.7 531.4h0M172.4 456.4h0M65.8 542h0M239.5 394h0M227.1 412.8h0M244.2 392.5h0M295.2 379.8h0M291.1 369.2h0M261.1 381.8h0M204.6 434.9h0M251 393h0M114 507.8h0M204.1 439.3h0M119.1 503.9h0M232.4 407.9h0M245.5 397.2h0M269.2 377.1h0M286.8 381.9h0M240 398.1h0M123 484.9h0M271 377.9h0M290.1 368.9h0M232.7 403.4h0M267 379.2h0M237.5 409.8h0M284.9 366.7h0M214.9 428h0M277.6 369.7h0M90.5 530.1h0M261.2 389h0M277.2 370.8h0M263.2 387.4h0M204.1 426.4h0M221.4 411.8h0M196.6 435.8h0M277.5 378.5h0M125.2 502.8h0M297.8 373.1h0M285.7 363.7h0M272.6 392.3h0M84.4 530.9h0M263.9 375.5h0M81 536.4h0M230.4 414.9h0M266.5 374.4h0M76.6 538.9h0M281.7 385.9h0M207.5 444.7h0M246.4 416.7h0M266.2 391.8h0M277.9 382.3h0M236.4 399.1h0M160 467.9h0M75.5 541.2h0M66.7 545.8h0M177.3 446h0M152.7 481.4h0M205.9 430.4h0M231.4 403.9h0M282.1 362.2h0M155.6 478h0M238.7 401.4h0M271.9 373.9h0M170.9 456.5h0M220 430.6h0M189.2 444.1h0M191.4 439.3h0M218.6 413.9h0M248.9 401.9h0M267.2 375.8h0M211.1 430.2h0M271.3 379.5h0M277.7 371h0M205.6 438.3h0M245.9 396.2h0M75.1 535.7h0M256.1 387.6h0M188.3 440.3h0M284.4 367.9h0M264.5 390.5h0M291.9 374h0M137.3 482.3h0M278 374.6h0M179.6 446.8h0M235.7 405.9h0M174.5 455.1h0M247.3 396h0M204.4 433.3h0M253.5 391.3h0M197.5 440.7h0M212.5 426h0M186.9 439h0M69.5 539.2h0M260.4 390h0M85.2 526.8h0M175.4 450.1h0M256.7 395.1h0M203.8 439.5h0M236.5 411.2h0M287.5 359.6h0M265.2 379h0M222.4 419.1h0M279.4 387.6h0M279.5 390.3h0M148.3 486.4h0M292.6 364.9h0M202.2 432.8h0M233.9 418.4h0M242.7 390h0M287.6 371.9h0M129.9 489.9h0M187.7 449.8h0M113.3 505.4h0M284.7 354.5h0M289.5 372.3h0M231 417.3h0M100.6 516.7h0M259.8 379.9h0M100.3 514h0M267.5 374.9h0M222.9 416.8h0M250.1 387.3h0M115.4 499.6h0M229.4 410.2h0M172 453.7h0M183.4 439.8h0M150.8 479.2h0M286.7 371.5h0M280.8 384.6h0M202 430.9h0M181.5 450.1h0M269 392h0M256.4 396h0M237.1 409.3h0M246.4 400.3h0M186 442.3h0M237.5 409.9h0M277.9 373.4h0M292.3 378.6h0M231.8 401.6h0M231.2 394.1h0M262 393.6h0M269.4 375.5h0M262 389.8h0M233.8 403.5h0M262.4 383.8h0M261.3 379.7h0M134 491h0M294.7 369h0M290.4 361.4h0M244.9 400.6h0M130.2 492.1h0M85.8 525h0M69.2 541.3h0M137.6 490.3h0M227.2 409.8h0M73.8 542.9h0M133.8 488.7h0M278.2 380.4h0M282 378.4h0M132.6 492.4h0M266.8 380.9h0M76 536.1h0M267.3 390.3h0M265.2 375.8h0M262.8 400.4h0M86.3 527.7h0M208.2 425.3h0M226.1 414.6h0M237.3 398h0M232 408.4h0M235.2 404.1h0M257.1 394.6h0M289.6 374.9h0M252.8 389.3h0M252.1 400h0M285.9 360.3h0M222.2 417.5h0M274.6 379.1h0M239 399h0M267.8 377.5h0M235.6 404.8h0M202.1 443.8h0M269.1 384.3h0M228.5 406.8h0M219.6 408.9h0M96.9 519.6h0M244 404.1h0M192.9 445.3h0M89 523.3h0M139.1 478h0M73.5 539.4h0M269.8 390.7h0M290.6 377.9h0M212.2 427.8h0M251.7 398.1h0M216.2 421.4h0M108.8 509.3h0M240.7 418.8h0M228.3 413.9h0M209.8 432.9h0M174.8 456.1h0M171.5 459.3h0M225.5 420.7h0M277.5 384h0M131.4 488.5h0M238.4 396h0M276.6 382.3h0M265.8 383.1h0M207.4 440.6h0M276.3 374h0M288.7 381.5h0M227.4 421.2h0M245.6 401.8h0M217.2 432.8h0M69.7 535.4h0M104.3 519.9h0M163.6 458.8h0M253.4 391.5h0M255.8 400.4h0M246.2 373.4h0" stroke="#184b87" stroke-opacity="0.95"/>
<path d="M312.1 352.7h0M304.4 351.1h0M305.8 360.7h0M298.5 353.7h0M309.2 353.6h0M313.1 345.7h0M319.3 344.5h0M300.7 358.9h0M314.4 347.9h0M319.1 347.8h0M315.3 347.6h0M319 343.1h0M317.9 343.8h0M309.1 348.5h0M312.6 347.2h0M293.1 363.3h0M298.8 355.1h0M296.9 350.3h0M291.1 364.3h0M300.5 352.5h0M311.8 349h0M302.4 351.9h0M305 351.3h0M314.5 348.4h0M318.3 343.6h0M311.9 348h0M314.1 347.9h0M318.3 344.2h0M304.4 349.2h0M309.1 348.4h0M300.5 353.5h0M296.8 357h0M310.1 348.2h0M316 344.3h0M316.8 347h0M307 353h0M307.1 348.1h0M299 358.3h0M304.5 352.5h0M306.1 349.9h0M310.3 347.1h0M306.8 348.2h0M291.7 362.9h0M305 354.8h0M318 345.3h0M311.9 348.2h0M312.7 345.2h0M302.1 355.9h0M306.7 349.3h0M303.1 352.4h0M321.4 344.8h0M315.2 344.8h0M310.5 350.8h0M316.9 346.6h0M303.5 369.3h0M306 356h0M313.1 348.3h0M308.1 349.3h0M315.7 346.1h0M312.9 346.7h0M305.7 350.4h0M303.1 360h0M314.8 351.8h0M307.5 353.1h0M297.8 356.2h0M316.8 345.7h0M294.2 353.3h0M315.7 346h0M304 348.1h0M317 345.8h0M307.7 354.9h0M306 353.2h0M296.3 354.8h0M311.9 351.9h0M318.1 347.2h0M315.1 346.3h0M307.3 346.2h0M308 349.2h0M311.5 347.1h0M317.7 343.4h0M301.8 351.2h0M316.8 344.6h0M307.3 352.8h0M292.9 360.2h0M310 349.4h0M316 345.3h0M309.2 353.4h0M309.9 346.2h0M309.5 349.7h0M310.2 352.5h0M304.8 349.2h0M313.8 348.6h0M303.6 353.9h0M290.9 360h0M317.4 343.1h0M303.6 350.8h0M317.9 340.7h0M309.1 348.7h0M315.4 345.4h0M304.6 351.9h0M306.9 354h0M309.2 350.1h0M312.2 346.3h0M309.2 350.5h0M319.7 342.5h0M315.6 346.2h0M311.6 350h0M304.2 360.7h0M305.5 359.6h0M315.3 347.1h0M314.2 350.4h0" stroke="#cc4c02" stroke-opacity="0.72"/>
<path d="M98.5 509.2h0M234.9 410.7h0M235.6 401.2h0M206.1 422.4h0M229.4 419.6h0M108.2 510.3h0M261.7 391.9h0M262.3 382.9h0M275.8 379.1h0M271.2 376.5h0M231.6 408.7h0M227.5 413.3h0M206.8 431.4h0M168.1 460.6h0M290.4 367.2h0M212 427.8h0M238.2 400.7h0M240.8 392.9h0M261.3 384.6h0M263.2 390.2h0M224.3 417h0M257.7 386.9h0M179.9 447.7h0M240.9 405.7h0M192.9 453.9h0M227.9 416.9h0M252.5 400.3h0M284.4 366.3h0M207.1 440.9h0M203.3 434.1h0M252.5 398.7h0M117.4 500h0M257.8 381.3h0M107.8 513.3h0M170.6 462.6h0M236.1 418.5h0M181 449.1h0M197.4 437.2h0M207.3 430h0M223.5 424h0M278.8 373.5h0M89.9 527.3h0M275.3 375.9h0M200.4 443.2h0M228.4 419.4h0M240.8 402.6h0M272.9 385.6h0M273.9 384.1h0M69.8 536.1h0M259.4 393.2h0M205 431.9h0M163.1 463.9h0M259.8 397.5h0M280.2 371.2h0M181.2 447.4h0M261.9 384h0M261.7 380.1h0M265.1 393.7h0M220.6 417.9h0M256 388.2h0M232.9 408.5h0M273.8 380.7h0M256.3 395.5h0M219.8 424.7h0M220.7 410.2h0M247.2 405.6h0M85.7 524h0M299.3 365.1h0M69.3 543.4h0M276.6 371.9h0M78.3 531.2h0M237.2 406.4h0M224.2 402.1h0M292.6 373.7h0M263.3 383.1h0M269.2 396h0M229.2 413h0M259.4 397.7h0M71.4 536.5h0M279.8 381.8h0M273.1 391.4h0M251.8 394.4h0M216.8 432.1h0M101.8 512.8h0M253.3 414.1h0M93.9 524.1h0M245 398.7h0M178.1 459.8h0M130.3 489.8h0M100.5 509.3h0M224.5 416.6h0M178.7 450.5h0M274.8 372.6h0M202.4 431.7h0M212.3 414.3h0M89.7 526.5h0M84.5 531.3h0M132.6 495.3h0M223.1 415.4h0M274.3 373.6h0M210.7 439.3h0M248.3 407.3h0M243.3 391h0M143.5 481.7h0M257.2 400h0M203.6 434h0M283 368.3h0M79.8 531.7h0M125.7 485.5h0M244.5 405.3h0M253.7 394.6h0M259.1 388.3h0M282.3 366.7h0M294.3 366h0M284.5 380.7h0M252.2 408.8h0M153.3 471.3h0M180.8 458h0M65.6 543.7h0M273 382.8h0M241.6 399.1h0M289.8 374h0M290.9 380.3h0M75 539h0M271.9 372.5h0M250.9 394.5h0M206.7 420h0M118.5 498.2h0M279.1 381.4h0M255.5 395.6h0M134.9 490.3h0M299.9 376h0M258.7 381.5h0M203 424.4h0M89.4 528.1h0M288.4 357.5h0M276.8 376.5h0M215.5 419.6h0M166.9 464.9h0M233.2 399.2h0M65.1 544.5h0M208.3 423.8h0M263.3 385.2h0M208.4 429.6h0M248.9 396.1h0M96.6 521.7h0M141.4 475.6h0M244 386.2h0M278.3 376.4h0M244.8 404.9h0M237.6 417.5h0M237.6 399.6h0M241.2 395.6h0M267.5 365h0M250.3 385.6h0M96.5 520.6h0M197.6 426.9h0M270.9 391h0M145.7 483.7h0M155.7 471.5h0M253.9 392.9h0M255.9 389.4h0M265.4 383.1h0M217.4 418.2h0M228.6 416.3h0M267.7 381.1h0M216.6 419.9h0M269.7 383h0M268.3 377.4h0M285.7 365.4h0M96.4 516.4h0M281.2 366.3h0M281.9 376.8h0M193.5 436.5h0M269.1 378.4h0M73.5 539.3h0M283.9 377.3h0M243.4 413.3h0M253.5 390.8h0M265.9 380.4h0M284.7 363h0M259.2 402.4h0M207.2 423.6h0M264.2 380.3h0M89.3 530.3h0M73 532.9h0M223.2 413.3h0M208.4 414.8h0M251.5 403h0M65.8 543.9h0M130.1 490h0M160.3 473.6h0M276.6 371.7h0M228 408.9h0M229.6 408.2h0M228.1 417h0M282.4 377.1h0M119.6 498.3h0M219.6 415h0M291 356.1h0M146.2 478h0M212.5 415.2h0M213.2 427.4h0M273.6 376.6h0M278.3 377.2h0M238.8 402.6h0M275.7 373.9h0M257.2 376.9h0M89.7 529.8h0M190.1 441.6h0M243.6 407.4h0M264.7 392.8h0M282.8 367.4h0M74.6 539.8h0M261.1 384.1h0M233.3 414.5h0M221.7 410.5h0M275.9 374.6h0M278.1 381.2h0M263.2 391.3h0M255.2 398.5h0M228.2 404.5h0M166.2 467.6h0M279 374.6h0M248.7 395.8h0M245.9 400.3h0M269.3 374h0M183.5 453h0M234.7 403.4h0M224.9 406h0M278.9 380h0M263.6 374.6h0M190.9 433.3h0M235.4 412.5h0M290.6 369.1h0M272.3 384h0M75.9 538.9h0M201.2 439.7h0M256.4 393.8h0M214.3 423.9h0M245.3 399.8h0M254.5 397h0M253.3 390.9h0M237.4 410.2h0M288.3 369.1h0M233 406.3h0M289.3 369.9h0M193.7 447.9h0M237.4 398.4h0M241 394.6h0M285.2 368.2h0M221.1 426h0M203.4 428.5h0M247.6 393.5h0M274.8 367.9h0M242.9 391.9h0M254.5 397.5h0M294.7 368h0M197.1 437.3h0M247.1 390.7h0M285.7 368.2h0M266.1 384.3h0M179.8 452.4h0M182.9 440.2h0M215.7 418.8h0M217.6 427.3h0M273.5 385.6h0M87.7 528.6h0M142.6 484.2h0M183.6 447.2h0M246.8 403.1h0M87.8 533.4h0M142.2 479.7h0M254.1 387.8h0M176 443.8h0M294.4 368.6h0M293.3 368.4h0M282.2 374.1h0M103 517.8h0M210.6 428h0M161.2 476.1h0M282.3 375.2h0M281.4 376.9h0M288.8 360.7h0M269.4 385.3h0M245 416.6h0M215.7 433.8h0M283.3 369.7h0M213.2 417.2h0M280.6 375.1h0M272.4 374.4h0M229.7 419.2h0M235.5 405.5h0M199.9 431.7h0M213.2 419h0M276.8 370.2h0M272.6 368.8h0M254.1 405.5h0M247.6 400.8h0M249.9 395.7h0M237.6 414h0M170.3 455.2h0M272.1 381.7h0M268.6 382h0M238.5 415.2h0M207.9 426.5h0M110.1 509.4h0M211.3 427.2h0M274.6 380.9h0M191.9 428.9h0M225.4 424h0M69.6 537.1h0M115.6 505.7h0M199.7 435.3h0M218.8 433.4h0M231.2 407h0M263.2 392.8h0M275.5 373h0M279.1 384h0M170.1 455.9h0M193.1 444.8h0M248.6 390.5h0M224.8 425h0M218.2 415.9h0M258.9 403h0M268.4 375.4h0M75.9 542.4h0M267.1 388.5h0M243.1 404.9h0M203.8 426.3h0M271.5 382.4h0M224.3 427.2h0M260.5 408.9h0M276.7 386.8h0M145.6 480.1h0M251.8 394.2h0M276.4 365.7h0M236.8 415.2h0M266.8 382.3h0M275.6 365h0M249.6 399.9h0M249.9 392.1h0M70.1 541.1h0M285.1 369.7h0M257.5 389.2h0M126.8 496.2h0M276.4 381.3h0M255.5 397.7h0M219.4 425.4h0M246.4 394.6h0M241.5 392h0M243.1 395.4h0M225 418.5h0M198.4 431.3h0M90.7 530.4h0M237.7 408h0M210.6 418.3h0M208.4 433.6h0M260.7 389.7h0M290.3 370.6h0M278.8 373.9h0M234.4 405.1h0M250.3 399.4h0M221.8 413.3h0M292.2 367.7h0M70.1 540.3h0M68.6 548h0M74.4 535.5h0M140.6 480.6h0M281.2 378.4h0M65.3 542.2h0M118.5 503.9h0M223.6 419.8h0M155.1 466.4h0M93.3 512.7h0M95.7 523h0M160.4 461.1h0M270.5 380.9h0M257.5 393.3h0M80.2 535.8h0M228.7 412.2h0M115.6 504.8h0M229.4 414h0M195.4 433.6h0M260.5 375h0M225.3 419.3h0M263.1 391.8h0M196.6 436.5h0M266.6 381.2h0M192 446.1h0M162.9 461.7h0M245 398h0M262.5 379.5h0M251.9 399.1h0M233.3 408h0M266.1 379.7h0M252 390h0M281.8 373.6h0M299.9 363.1h0M277.3 375.3h0M190.4 446.7h0M92.6 520.8h0M212.3 426.5h0M267.1 385.6h0M196.2 440.9h0M191.9 434.9h0M270.8 377h0M75.6 536.5h0M288 368.5h0M82.8 528.1h0M250.9 395.9h0M237.2 398.6h0M241.1 408.1h0M285.6 369.8h0M248.9 404.7h0M267.8 386.7h0M281.1 383.3h0M236.8 421.4h0M262.6 396.7h0M211.4 435.1h0M194 437.9h0M284.6 374.1h0M276.8 384.6h0M267.1 384.9h0M214.2 441.5h0M85.3 528.5h0M241 400.1h0M277.9 386.7h0M260.7 390.3h0M187.7 439h0M249.4 420.4h0M271.2 381.1h0M249 385.3h0M250.8 402h0M214.5 422.9h0M223.8 430.6h0M153.1 474.5h0M164.3 467.1h0M266.6 381.5h0M220.2 422.6h0M290.8 365.4h0M226.9 395.7h0M218.5 405.3h0M132.9 492.9h0M215.3 433.9h0M246.3 386h0M277.8 366h0M264.8 393h0M267.1 381.4h0M252.2 381.3h0M260.3 384.3h0M288.5 379.9h0M200.1 439.7h0M251.9 398.1h0M295.9 366.9h0M247.7 403.9h0M204 423.7h0M264.8 399h0M245.2 392.9h0M278.1 373.9h0M274.3 385.8h0M230.4 419.7h0M84 528.4h0M285.8 367.7h0M263.3 375.9h0M165 464.9h0M212.9 419.2h0M153.1 480.7h0M225 418h0M274.6 376.2h0M197.2 434.5h0M271.8 384.6h0M285.3 360.7h0M274.4 384.1h0M208.7 427h0M257.7 396.9h0M232.4 416h0M193.9 444.3h0M225 421.4h0M258.3 386.3h0M252.7 402.2h0M202.6 435.6h0M260.2 383.4h0M275.1 379.1h0M99.5 516.4h0M256.1 388.5h0M286.7 382.8h0M262.3 384.5h0M299 362.6h0M82.2 533.1h0M201.2 439.6h0M235.7 410.2h0M80.6 534h0M289.1 363.8h0M258.5 389.5h0M76.8 535.1h0M241.8 404h0M263.8 378.5h0M244.7 414.9h0M94.2 521h0M231.7 410.4h0M195.9 365.9h0" stroke="#184b87" stroke-opacity="0.95"/>
<path d="M309.5 347.5h0M298.6 352.6h0M315.5 345.9h0M314.6 344.5h0M308.8 353.8h0M311.6 349.2h0M318.9 343.1h0M310.3 348.2h0M311.7 347.9h0M303.6 356.8h0M312.4 346.6h0M315.6 345.8h0M316.8 343h0M309.5 353.2h0M315 344.4h0M313.8 348.9h0M303.8 351.5h0M304.6 350.7h0M309.7 348.9h0M311.3 346.5h0M304.2 354.3h0M314.7 344.7h0M299.2 358.7h0M305 356.1h0M310.4 350.2h0M305.3 350.4h0M302.5 349.8h0M300.4 354.7h0M304.3 355.9h0M301.6 356.8h0M318.8 344h0M319.1 343.8h0M296.2 356h0M315.6 346.6h0M310.8 352.1h0M305.3 354.7h0M311.6 350.7h0M315.2 346.7h0M312.4 349.6h0M301 356.6h0M317.7 345.8h0M313.9 345.6h0M318.8 345.1h0M289.2 353.1h0M299.2 353.6h0M313.8 350h0M312.4 346.8h0M309.1 354.7h0M309.9 350h0M303 354.2h0M304.4 357.2h0M308.4 349.4h0M314 349.1h0M319.5 344.6h0M316.8 347.3h0M317.4 345.7h0M311.4 350.9h0M311.8 347.4h0M314.1 345h0M303.4 354.3h0M310.1 350.6h0M316.8 344.4h0M307.4 354.6h0M317.2 349.1h0M294.3 354.8h0M309.5 348.8h0M318.2 343.7h0M318.6 344.7h0M296.5 356.8h0M313.2 347.4h0M305 356.8h0M299.6 355.4h0M303.6 360.8h0M313.6 346.6h0M317.7 344.1h0M314.8 345.4h0M309.3 349.1h0M320 342.9h0M315.4 344.6h0M300.3 355.8h0M319.9 343.2h0M319.8 343.3h0M313.7 352.3h0M303.6 356.9h0M312.4 350.8h0M310.5 349.6h0M304.4 354.4h0M309.3 357.9h0M315.8 347.1h0M313.9 346.2h0M300 356.2h0M310.5 348.7h0M306.2 352.2h0M300 354.9h0M301.7 352.2h0M314.3 349.7h0M312.3 349.8h0M304.7 352.9h0M309.7 347.6h0M294.8 357.6h0M297.4 354.3h0M309.1 351h0M307.7 351.7h0M309.4 353.4h0M317.2 345.1h0M313.5 345.3h0M309.7 351.6h0M316.1 346.7h0" stroke="#cc4c02" stroke-opacity="0.72"/>
<path d="M319.3 343.6h0M313.3 348.2h0M319.2 345.1h0M305.9 349.9h0M295.2 360.4h0M313.1 349h0M316.6 345.7h0M297.5 365.9h0M318 345.4h0M294.2 360.8h0M317.3 344.9h0M304.9 348.4h0M309.6 351h0M311.5 346.5h0M305.3 355.9h0M303.4 346.9h0M308.8 346h0M311.9 350.6h0M313.9 345.7h0M305.7 351.2h0M301.4 358.2h0M304 356.9h0M309.3 353.8h0M317 343.2h0M311 351h0M305.9 359h0M291.6 357.7h0M315.6 349h0M296.6 355.5h0M300.4 355.1h0M318.3 344.3h0M314.4 343.3h0M292.5 356.8h0M299.8 350.1h0M316.2 345.7h0M311.8 348.8h0M307.1 347.7h0M312.3 349.7h0M314.2 346.8h0M309.3 351.6h0M310.2 345.6h0M311.5 344.2h0M297.4 368.3h0M295.4 357.6h0M314.8 345.1h0M312.3 348.7h0M316.6 346.5h0M308.2 348.5h0M309.8 352.5h0M299.9 354.2h0M314.7 348.2h0M297.4 351.4h0M318 342.4h0M299.8 352.7h0M312.1 346.6h0M310.1 350.4h0M291.7 357.6h0M298.5 359.6h0M317 344.2h0M308 349.8h0M294.3 353h0M314.9 344h0M309.8 351.7h0M320.6 343.3h0M312.5 349.8h0M297.5 349.7h0M293.5 356h0M309.8 345.8h0M304.3 350.6h0M306.8 352.6h0M316 344.3h0M305.3 354.3h0M319.2 342.6h0M307.9 347.6h0M315.7 344.6h0M314.3 343.4h0M318.6 345.7h0M311.1 342.9h0M300.7 353.7h0M314.3 347.8h0M300.4 358.4h0M290.5 362h0M314.1 343.8h0M305.4 351.1h0M320.5 343.9h0M304.6 353.6h0M310.5 350.4h0M307.1 350h0M308.2 353h0M311.3 350.6h0M314.2 348.8h0M294.3 357.6h0M306.9 350.5h0M318.5 344.7h0M310 350h0M313.1 347.5h0M315.9 345.8h0M293.2 357.1h0M316.3 342.9h0M314.7 347.1h0M314.2 348.3h0M311.3 351.6h0M301.2 364.2h0" stroke="#cc4c02" stroke-opacity="0.72"/>
<path d="M315.3 347.2h0M307 350.5h0M318.3 344.3h0M304.4 351.5h0M303.6 348.5h0M314.8 347.9h0M307 351.6h0M310.8 349.2h0M302.1 350.9h0M315.9 345.8h0M302.9 351.6h0M320.5 344.5h0M310.2 355.2h0M306.6 347.6h0M316.9 345.7h0M302.3 356.7h0M306.3 349.8h0M314.1 348.1h0M312.2 347.5h0M315.6 345.3h0M317.4 346.2h0M298.1 362.3h0M316.2 344h0M315.1 346.1h0M305.5 350.6h0M301.2 355.1h0M306.4 350h0M314.4 345.8h0M306.9 354.5h0M291.6 351.5h0M306.3 349.7h0M318 346h0M319.4 343.1h0M310.5 346.4h0M315.4 343.7h0M292.1 360.6h0M316.8 346.7h0M318.6 344.5h0M306.7 350.8h0M310.9 348.6h0M305.1 350.8h0M318.4 342.8h0M319.5 345.2h0M302.2 353.2h0M309.4 351h0M318.9 344.9h0M312.7 347.2h0M307.6 353.2h0M310 350.5h0M301.6 352.3h0M299.4 351.2h0M318.2 347.1h0M313.8 343.9h0M316.9 345.3h0M310.8 350.5h0M303 355.8h0M305.3 350.3h0M308.8 350.4h0M318.3 345.6h0M309.4 349h0M297 350h0M313.7 347.5h0M309.2 343.9h0M312.5 346h0M319.9 342.9h0M307.6 348.4h0M317.8 345.7h0M314.5 346.7h0M316.7 341.5h0M313.3 343.9h0M296.1 356.1h0M310.7 353.6h0M319.6 342.5h0M314.3 350.3h0M300.4 355.8h0M314.8 346.5h0M304 353.1h0M318.3 344.9h0M313 347h0M312.9 345.7h0M314.6 346.9h0M307 347.2h0M308.6 351.5h0M307.7 356.7h0M294.5 361.9h0M300.4 358.6h0M299.8 355.4h0M305.4 349.4h0M291.1 355.7h0M312.8 348.8h0M315.4 349.8h0M309.7 350.4h0M308 350.3h0M309.4 352.8h0M301.4 364h0M311.3 351.2h0M301.5 354.1h0M308.7 354.4h0M301.7 354.4h0" stroke="#cc4c02" stroke-opacity="0.72"/>
<path d="M309.3 349.2h0M308.6 355.3h0M297.5 357.5h0M312.2 346.1h0M316.6 345.7h0M315.9 348h0M318.5 343.1h0M301.8 352.3h0M314.6 345.6h0M314.7 345.5h0M317.6 343.7h0M311.4 350.8h0M302.1 352.9h0M319.2 343.2h0M315.2 351.4h0M290.3 358.4h0M315.3 346.2h0M315.9 344.7h0M304.8 359.2h0M311.2 348.4h0M306.1 356.5h0M310.6 349.1h0M295.3 354.5h0M309.4 352.8h0M296.2 354.4h0M303.8 353.8h0M309.4 347.7h0M314.9 348.8h0M308.7 356.9h0M317.3 344.7h0M307 349.1h0M310 353.8h0M312.9 347.5h0M320.6 343.2h0M290.4 354.2h0M315.3 345.5h0M319.1 343.4h0M313.8 345.5h0M319.6 342.5h0M320.5 344h0M305.9 349.3h0M315.8 348.2h0M315 352h0M312 348h0M313.8 344h0M299 354.2h0M304.2 351h0M309 347.8h0M315.7 348.6h0M318.6 345.6h0M319.6 342.9h0M303.2 354.2h0M313.3 347.6h0M314.7 348.7h0M308.4 351.2h0M317.1 349h0M304.4 352.4h0M317.9 343.4h0M311.2 348.2h0M318 345.7h0M309.1 350.1h0M307.4 358h0M315.7 345.5h0M317.7 343.8h0M303.3 358.1h0M312.3 350h0M314.5 348.8h0M319.6 343.8h0M306.3 351.2h0M302.8 355.2h0M303.6 348.4h0M312.4 347.9h0M310 356.1h0M319.9 342h0M310.1 354.5h0M316.7 347.9h0M308.3 351.7h0M307.1 357.3h0M313.2 348.3h0M309 349.1h0M308.5 352.5h0M307.7 347.9h0M306.1 348.9h0M319.8 344.1h0M310.4 352.5h0M314.7 345.8h0M293.6 357.6h0M311.3 350.3h0M307.4 358.6h0M310.7 353.1h0M317.4 346.3h0M320.8 343h0M295.4 359.5h0M310.4 348.3h0M302.3 357h0M314 346.6h0" stroke="#cc4c02" stroke-opacity="0.72"/>
<path d="M313 346.1h0M296.2 359.2h0M314.5 345.5h0M319 346.1h0M310.3 350.8h0M297.3 351.2h0M314.3 348.6h0M317.8 343.7h0M319.7 348.1h0M308.9 351h0M313.4 344.7h0M315.2 349.5h0M310.9 350h0M315.2 345.7h0M319.9 343.4h0M319.8 343.1h0M313.7 350h0M317.6 342.7h0M315.2 347.2h0M313.4 346.2h0M313.5 347.4h0M318.7 344.6h0M312.4 346h0M300.9 359.3h0M314.3 344.7h0M306.6 353.4h0M312.5 346.9h0M295.2 351.2h0M303.4 362.6h0M316 347.9h0M310.9 347.8h0M316.1 345.4h0M299.5 352.6h0M314.5 345.5h0M317.3 342.7h0M311.5 348.6h0M319.4 345.7h0M306.1 355.5h0M310.7 348.4h0M321.2 345.5h0M319.8 342.4h0M293.9 356.2h0M309.5 348.5h0M310.6 349.5h0M301.9 356h0M301.4 354.5h0M318.5 344.6h0M305.6 352.1h0M298.7 359.5h0M306.6 352.5h0M297.6 354.9h0M296.2 356.4h0M303.7 359.2h0M310.9 348.8h0M312 349.3h0M298.9 354.3h0M316.6 341.7h0M312.2 348h0M313 348.5h0M305.7 359h0M303.5 356.9h0M308.6 356.3h0M315.9 346h0M311.4 346.6h0M316.3 342.5h0M308.6 356.8h0M319 342.4h0M306.3 353.7h0M315.8 346.4h0M306.8 347.9h0M313.5 352.7h0M302.5 352.2h0M311.7 347.8h0M318.6 344.7h0M308.8 348h0M293.8 354.4h0M313.3 346.3h0M311.2 349.2h0M302.3 355.3h0M303.7 352.1h0M312.8 346.9h0M320 345.5h0M315.6 345.4h0M310.7 353.7h0M307 350.4h0M311.1 352.5h0M317.8 345.3h0M298 360.9h0M312.1 347.8h0M312 349.1h0M291.2 360.1h0M314.7 344.1h0M297.1 352.1h0M295.6 354.7h0M300.2 353h0M316.2 343.3h0M295.8 355.5h0M314.8 345.2h0M304.3 354.7h0M319.5 344.4h0" stroke="#cc4c02" stroke-opacity="0.72"/>
<path d="M66.5 346.1h0M67.5 350.8h0M65.4 341.7h0M67.6 341.6h0M66.1 346.4h0M66.6 343.3h0M66.2 349.7h0M65.5 342.7h0M69.3 342.4h0M65.6 345h0M65.4 343h0M65.7 344.5h0M65.3 354h0M65.9 343.2h0M95.4 343.2h0M110.3 348h0M147 343.8h0M177.1 343.8h0M218.7 347.2h0M234.4 365.9h0M264.2 359.2h0M270.6 343.6h0M277 343.6h0" stroke="#cc4c02" stroke-opacity="0.72"/>
<path d="M68.2 345h0M67.2 342.8h0M65.6 348h0M66.3 341.3h0M66.4 343.2h0M66 347.3h0M65.1 341.2h0M65.7 346.2h0M65.8 342.4h0M69.3 342.6h0M65.7 344.7h0M65.6 345.5h0M66.5 343.2h0M65.6 343.2h0M67.3 343.9h0M66.4 343.8h0M65.2 348.3h0M168.4 345.3h0M183.3 345.9h0M239.8 347.2h0M253.4 342.2h0M257.8 342.2h0M253.1 360.7h0M270.6 348.8h0" stroke="#cc4c02" stroke-opacity="0.72"/>
<path d="M65.3 346h0M65.3 346.2h0M65.8 344h0M66.7 344.2h0M65.3 347.4h0M67.2 343.4h0M67.3 347.9h0M67 345.4h0M66.2 342.2h0M67 348.1h0M66.8 345.1h0M65.7 351.7h0M92.8 341.5h0M102.3 348h0M65.1 356.5h0M236.7 354.9h0M259.3 355.7h0M265.5 345.7h0M273.2 353h0M278.3 355.1h0M280.9 342.6h0M283.5 348.8h0M286 351.9h0M288.6 344.7h0M268 342.6h0M275.8 341.5h0M282.2 345.7h0M279.6 351.9h0" stroke="#cc4c02" stroke-opacity="0.72"/>
<path d="M65.6 343.2h0M65.4 351.6h0M67 343.7h0M65.6 341.4h0M66 343.6h0M65.5 348.2h0M66.3 345.3h0M65.9 347h0M65.8 344.4h0M66.7 341.2h0M67.2 343.8h0M67.9 348.9h0M67.6 342h0M66.9 349.3h0M65.2 351.1h0M66.5 343.7h0M67 342.1h0M72.3 344.7h0M78.4 348h0M87.2 346.3h0M98.2 344.7h0M126.5 342.2h0M169.4 343.8h0M172.5 343.8h0M189.4 350.5h0M259.3 365.5h0M262.9 348.8h0M268 350.9h0M275.8 346.7h0M264.2 345.7h0M266.8 351.9h0M274.5 349.9h0M284.7 342.6h0M287.3 347.8h0M271.9 354h0M280.9 349.9h0" stroke="#cc4c02" stroke-opacity="0.72"/>
</g>
<g stroke-width="3.2" stroke-linecap="round" fill="none">
<path d="M656.4 346.3h0M665.1 343h0M653.5 344.3h0M651.7 345.2h0M655.4 365h0M638.8 364.1h0M650.7 348.8h0M654.9 354.2h0M633.6 343.9h0M647 349.6h0M665.6 342.5h0M663.1 346.5h0M655.7 350.6h0M657.4 360.4h0M649 366.1h0M644.4 346.6h0M659.6 345.4h0M638.5 358.6h0M638 355.2h0M648.9 346.7h0M666.1 347.2h0M656.3 341.4h0M669.9 346.9h0M645.5 352.1h0M634.7 354.8h0M633.2 359.5h0M662.2 358.1h0M647.2 346.2h0M635.7 359.5h0M636.6 344.1h0M655.1 342.9h0M664.1 342.8h0M652.3 345.9h0M653.5 354.1h0M642.3 348.5h0M645.2 343.7h0M651.3 353.3h0M664.3 344h0M651.5 355.2h0M664.4 350.1h0M660.9 350.5h0M655.2 352.8h0M664.7 357.5h0M640.5 347.2h0M664.4 348.5h0M643.4 350.1h0M661.2 345.2h0M653.2 353.6h0M645.3 349.1h0M649.7 353.7h0M645.5 349.9h0M637.2 352.5h0M647.1 369.8h0M637.5 358.6h0M645.1 348.3h0M648.3 352.4h0M644.6 362h0M646.9 363.2h0M648.6 360.6h0M630.7 360.2h0M641.6 352.9h0M639.1 351.1h0M649.1 353.3h0M652.7 356h0M657 359.4h0M650.9 350.1h0M656.9 372.7h0M643.3 358.3h0M634.9 363.8h0M656.5 350.3h0M656.7 350.4h0M638.7 362.8h0M644.9 349.6h0M634.9 348.1h0M643.2 350.5h0M664.7 360.3h0M664.8 346.3h0M644.8 351.5h0M635.1 349.7h0M652.8 369.2h0M665.1 349.8h0M631.4 359.5h0M653.8 351.4h0M644.8 356.3h0M649.2 345.8h0M661.2 352.6h0M649.1 348.7h0M658 344.5h0M664.7 345.7h0M649.8 355.8h0M662.4 343h0M660.4 348h0M653.7 341.2h0M646 356.3h0M636.1 363.9h0M642.6 362.9h0M664.2 344h0" stroke="#cc4c02" stroke-opacity="0.12"/>
<path d="M643.1 368.3h0M663.9 348.3h0M664.3 349.9h0M656.3 344.6h0M661 349.3h0M656.7 355.3h0M648.6 351.3h0M660.6 345.9h0M646.7 348.6h0M643.4 357.8h0M660.5 343.8h0M639.9 365.5h0M640.1 347.3h0M649.4 351.4h0M640.9 362.3h0M659.6 345.2h0M663 344.5h0M651.5 350.1h0M648.3 345.5h0M644.8 347h0M639.4 344.4h0M658 358.8h0M632.5 354.5h0M646.6 349.1h0M649.9 356.3h0M656.2 353.6h0M652 360.8h0M662 341.2h0M658.9 348.3h0M655.6 353.8h0M645.1 350.9h0M647.3 357.9h0M666 342.9h0M634.1 355.3h0M664.2 347.6h0M650.4 351.4h0M651.6 368.8h0M642.4 362.6h0M630.8 352.1h0M654.4 347.2h0M660.8 343.1h0M642.7 349h0M655.7 350.1h0M631.9 352h0M667.7 343.9h0M642.5 353h0M645.2 353.4h0M664.7 341h0M654 345.5h0M656.7 346.9h0M651.9 361h0M640.7 355.7h0M633.9 358h0M630.4 353.1h0M653.9 352.5h0M646.4 353.3h0M654.4 349.4h0M640.7 360.4h0M632.7 348.5h0M633.9 351.4h0M659.6 351.6h0M654.5 348.3h0M654.4 350.9h0M633 353.5h0M645.4 348.1h0M646.5 346.7h0M639.6 347.6h0M645.1 375.6h0M651.8 346.3h0M657.5 344.6h0M653.3 346h0M635.9 345.9h0M648.8 351h0M663.7 340.7h0M661 356h0M647.2 351.9h0M666 349.7h0M657.1 347.8h0M646.6 350.4h0M665.9 342.6h0M652.9 348.7h0M654.4 348.2h0M666.2 346h0M660.5 348.8h0M655.2 361.1h0M659 354.3h0M653.2 351.5h0M630 359h0M658 341.3h0M660.7 346.9h0M659.2 350.1h0M655.7 352h0M648.7 353.2h0M666.5 342.1h0M652 357.9h0M641.7 347.2h0M662.8 345.4h0M665.2 342h0M645.2 349h0M656 346.4h0" stroke="#cc4c02" stroke-opacity="0.12"/>
<path d="M653.9 348.1h0M641.3 345.8h0M669 343.9h0M656.8 341.7h0M643.7 363.8h0M658.9 346.9h0M644.9 354h0M633.4 353.7h0M653.9 346.1h0M653.1 348.9h0M644.6 357.2h0M648.2 354.2h0M658.9 342.5h0M646.9 350.2h0M651.9 353.4h0M634.7 358.3h0M643.8 363.7h0M661.1 355h0M642.6 360.7h0M635.6 349.9h0M659.4 341.8h0M655.5 348.6h0M641.6 344.4h0M665.5 348.3h0M641.2 370.4h0M647.9 358.4h0M666.2 341.2h0M663.5 351.4h0M655.2 344h0M654 356.7h0M667.2 352.2h0M650.8 356.2h0M665.2 353.3h0M664.9 348.1h0M654.5 362.6h0M643.2 351.1h0M666.5 342.1h0M648.3 353h0M659.7 343.4h0M657.3 350.7h0M660.5 349h0M642.6 348.9h0M649.5 351.7h0M666.7 342.9h0M662.5 356.6h0M656.3 353h0M661.8 350.9h0M666.2 341.9h0M653.6 358h0M652.3 347.5h0M667.5 351.3h0M656.3 346h0M655.1 354.9h0M658.9 344.7h0M644.4 369.3h0M656.5 348.9h0M646.1 374h0M655.4 346.9h0M648.5 352.2h0M655.8 350.3h0M662.2 341.2h0M631.3 350.6h0M659.1 343.3h0M660.1 342.8h0M647.6 350.7h0M653.4 352.1h0M657.5 342.1h0M658.8 351.5h0M664.6 350.5h0M657.6 344.9h0M644.8 352.7h0M653.2 347.4h0M638.2 360.1h0M646.7 349.7h0M656.9 355.9h0M643.9 344h0M653.9 355.8h0M653.6 356.2h0M646.1 350.3h0M651.1 351.5h0M644 350.3h0M660.5 357.1h0M642.7 353.1h0M656.9 344.2h0M663.6 352.1h0M663 343.8h0M640.3 362.1h0M658.7 342.6h0M659.5 348.1h0M661.8 345.1h0M640.6 367.4h0M666.4 343.4h0M664.6 343.9h0M638.9 347.9h0M655.8 347.2h0M654.9 349.4h0M645.1 357.2h0M645.1 347.7h0M648.7 361.6h0M637 363.3h0M665.4 342.8h0M657.6 352.2h0M663.6 347h0M663.1 344.4h0M668.2 341.9h0M658.3 360h0M640.1 348.9h0" stroke="#cc4c02" stroke-opacity="0.12"/>
<path d="M670.9 343.4h0M657.2 355.4h0M669.2 343.5h0M665.1 345.8h0M638.3 364.7h0M637.4 362.4h0M639.5 363.9h0M653.4 353.6h0M652.4 348.9h0M640.3 344.2h0M665.2 342.5h0M658.8 355.7h0M665.1 342h0M667.7 343.7h0M638.7 359h0M661.7 343.6h0M666.2 348.6h0M661 343.7h0M646.5 367.6h0M659.8 356.2h0M634.2 357.8h0M652.6 349h0M647.4 365.3h0M646 359.3h0M660.8 347.1h0M660.9 341.5h0M649.3 345.4h0M656.3 350h0M663.9 341.3h0M647.4 368h0M646.2 351.1h0M653.5 346.6h0M641.3 346.6h0M664.3 344h0M657.4 350.5h0M646.7 361.7h0M645.8 342.5h0M646.7 344.1h0M656.7 346.8h0M664.1 342h0M646.9 345.4h0M650.1 359.8h0M646.6 348.6h0M629.2 350.6h0M661.9 347.4h0M656.4 349.5h0M649.3 361.3h0M652.3 349.7h0M668.8 345.8h0M660.8 348.7h0M626.3 352.5h0M663.8 357.4h0M658.7 362.3h0M631.2 355h0M645.3 348h0M667.1 341.9h0M639.6 356h0M657.3 347.7h0M652.1 358.2h0M659.1 355.9h0M647.2 365.6h0M667.5 342.8h0M653.7 365.9h0M663.4 349.8h0M667.2 343.3h0M640.2 354.5h0M631.4 356.9h0M657.3 359.5h0M639.1 351.2h0M668.6 342.6h0M668.5 341.1h0M647.3 346.3h0M649.9 354.3h0M651.4 350.3h0M655.4 345.5h0M658.3 357h0M651.2 346.6h0M648.3 372.8h0M660.2 361.7h0M664.3 343.9h0M635.2 353.6h0M639.4 358.1h0M658 350.4h0" stroke="#cc4c02" stroke-opacity="0.12"/>
<path d="M656.3 346.2h0M661.9 343h0M650.3 365.3h0M632.3 351h0M647.6 357.9h0M666 344.1h0M646.2 346.5h0M654 348.9h0M644.3 358.5h0M654.5 350.9h0M652.7 351.1h0M657.6 344.6h0M637.7 359.1h0M656.7 354.6h0M660.3 341.4h0M630.9 359h0M630 350.1h0M651 350.9h0M661.3 343.8h0M659.7 347.2h0M656.3 344.8h0M663.2 352.2h0M648.5 351.9h0M665.2 348.1h0M664.2 344.1h0M664.4 346h0M640.6 346.5h0M638.8 347.6h0M634.4 359.3h0M658.6 348.5h0M656.2 345.1h0M652.9 354.9h0M630.5 354.6h0M656.9 351.9h0M655.4 360.3h0M660.6 345.9h0M657.6 352.5h0M658.8 352.1h0M634.6 364.8h0M648.4 352.4h0M660.3 350.1h0M658 350.8h0M664.5 358.7h0M647.6 348.6h0M661 344h0M653.5 354.6h0M649.6 350.6h0M650.3 344.1h0M638.2 351.1h0M657.8 354.6h0M662.7 355.3h0M656 356.7h0M661.4 343.1h0M656.2 359.7h0M660 352.6h0M665.3 342.9h0M651.1 347.7h0M638.5 359.6h0M657.6 351.1h0M650.4 366.2h0M650.3 350h0M656.2 349.4h0M667.6 355.4h0M646.5 354.6h0M642.7 350.9h0M655.1 350.5h0M659.2 348.3h0M645 353.1h0M645.9 363h0M643.8 357.6h0M647.4 355.2h0M662.4 344.9h0M659.6 356.3h0M649.2 351.6h0M661.1 341.7h0M666.4 350.4h0M657.7 363.3h0M654.7 347.8h0M656.6 353.6h0M654.4 345.4h0M653.1 344.9h0M644.3 355.3h0M668.4 342.6h0M642.7 352.4h0M645.1 344.2h0M648.1 349.2h0M657.1 348.4h0M650.1 360.8h0M665 342.8h0M638.2 358.5h0M626.8 344.8h0M646.5 360.3h0M665.5 346.4h0M656.5 359.9h0M662.1 346h0M649.1 354.7h0" stroke="#cc4c02" stroke-opacity="0.12"/>
<path d="M661.1 349.1h0M653.2 350.5h0M643.7 350.2h0M652.8 354.9h0M656.3 341.6h0M662.3 344.1h0M663.2 346.1h0M659.1 343.8h0M664.9 341.5h0M656.1 355.2h0M665 343.2h0M655.5 342.6h0M664.4 341.8h0M662.7 343.7h0M658.4 343.7h0M666.7 345.2h0M648.5 347.6h0M649.1 354.5h0M651.3 348h0M664.2 342.4h0M654.3 348.8h0M636.9 364.5h0M662.9 346.8h0M645.2 359.9h0M635.7 347.9h0M657 348.3h0M653.7 348.9h0M648.7 358.1h0M651.6 349.7h0M658.4 348.2h0M646.3 355h0M663.5 348h0M643.7 348.1h0M653 364.8h0M665.7 349.8h0M641.4 355.3h0M645.4 355.3h0M650.2 352h0M658.3 365.3h0M649.1 352.1h0M641.2 365.6h0M648.1 340.9h0M668.4 344.4h0M660.9 355.5h0M651.8 353.1h0M661.9 356.4h0M646.8 355.9h0M658.6 346.6h0M644.9 358.1h0M649.2 350h0M648.2 357.2h0M642.2 351h0M651.2 363.5h0M644.3 371.2h0M649.3 354.5h0M653.3 349.7h0M648.2 353.8h0M654 358.6h0M641.3 361.2h0M671 344.9h0M664 342.2h0M665.5 346.3h0M671.3 344.4h0M662.6 345.7h0M654 366.6h0M648.3 347.3h0M658.9 345.3h0M639.9 355.3h0M663.2 346.7h0M666.4 357.5h0M650.9 354.1h0M635.9 348.1h0M638.5 357.5h0M652.2 362.5h0M636.9 345.4h0M648.5 350.5h0M642.8 347.6h0M652.1 353.9h0M645.5 364.7h0M665.2 348.3h0M663.1 347.4h0M649.3 351.6h0M657.9 343.4h0M658.4 349h0M660.2 341.6h0M649.5 358h0M662.2 341.9h0M659.7 365.2h0M648.7 357.8h0M650.2 341.4h0M661.2 356.6h0" stroke="#cc4c02" stroke-opacity="0.12"/>
<path d="M658.1 356.7h0M669.7 345.4h0M665.3 347.4h0M670.6 346.1h0M662.2 347.7h0M651.8 354.2h0M665.6 347.5h0M663.2 348.8h0M667.3 348.3h0M668.5 345.3h0M664.1 349.5h0M669.9 346.4h0M649.5 362.1h0M665.9 347.7h0M656.5 354.7h0M665.6 348.2h0M670.4 344.2h0M669.1 346.1h0M666.3 351h0M672.1 343.2h0M662.1 349.4h0M651.4 355.3h0M664.5 351.1h0M664.7 345.6h0M654 352.6h0M667.7 351.6h0M664.6 345.4h0M671.7 345h0M654.8 359.4h0M665.2 352.6h0" stroke="#cc4c02" stroke-opacity="0.18"/>
<path d="M654.5 353h0M668 346.3h0M670.5 343.2h0M646.3 357.1h0M670.1 347.1h0M665.4 349.9h0M667.2 350.9h0M665.9 350.5h0M658 357.6h0M658.1 348.5h0M656.6 349.5h0M654.9 356.8h0M670.1 344.6h0M662.4 347.3h0M668.8 343.3h0M665.7 348.6h0M665.3 348.9h0M657.8 352.8h0M651.6 356.3h0M656 348.9h0M667.7 346.3h0M662 353.1h0M659 351.7h0M654.5 352.8h0M664.6 347.8h0M655.9 359.9h0M659 354.7h0M660.9 356.6h0M667.4 345.2h0M665.1 349.3h0M666.3 350.5h0M662.1 351.5h0M661.5 348.7h0M654.5 353.6h0M644.6 360.5h0M660.8 353.2h0" stroke="#cc4c02" stroke-opacity="0.18"/>
<path d="M657.3 354.6h0M661.9 351.2h0M650.1 358.2h0M669.6 344.8h0M666.6 344.9h0M664.8 349h0M653.9 356.9h0M659.2 350.8h0M648 357.5h0M653.5 358.8h0M665.2 346h0M661.6 350.3h0M665.7 347h0M670.9 344.1h0M671.5 342.2h0M665.8 349.3h0M663.7 347.4h0M660.6 350.5h0M659.9 348.9h0M648.7 361.8h0M665.1 349.2h0M671.6 345.7h0M654.1 354h0M670.5 344.4h0M661.6 349.8h0M661.3 352.5h0" stroke="#cc4c02" stroke-opacity="0.18"/>
<path d="M647.6 360h0M661 353.8h0M647 363.4h0M665.4 343.9h0M661.4 351.5h0M659.7 356.5h0M666.9 350.5h0M666.9 347.1h0M655 352.4h0M667.2 345.2h0M658.9 354.3h0M654.5 351.1h0M657.7 357.6h0M667.8 345.3h0M646.3 355h0M664.2 348.7h0M658.7 352.9h0M659.1 352.1h0M656.1 356.3h0M668.3 342.7h0M663.7 347.5h0M666.2 346.1h0M659.9 350.8h0" stroke="#cc4c02" stroke-opacity="0.18"/>
<path d="M666.3 349.5h0M668.6 345.9h0M664.2 347.1h0M655.5 351.2h0M667.9 345.1h0M664.8 348.6h0M662 347.1h0M671.9 344.7h0M659.6 348.8h0M668.8 344.1h0M662.7 347.9h0M671.5 346.2h0M667.3 343.9h0M654.4 358.2h0M660.6 351.1h0M666.7 348.5h0M662.7 344.8h0M662.4 349.3h0M660.8 350.6h0M663.4 347h0M656.4 368.6h0M666 352h0M656.9 352.7h0M665.8 346.4h0M652.4 358.5h0M662.2 352.2h0M659.2 355.2h0M657.5 351.5h0M670.9 343.8h0M663.1 349.7h0M666.5 347.1h0M661.9 351.4h0M655.1 354h0M671.9 343.2h0M646 351.6h0M668.3 345.6h0M649.7 355.6h0" stroke="#cc4c02" stroke-opacity="0.42"/>
<path d="M651.4 355.5h0M661.7 353.5h0M663.8 352.2h0M651.7 356.5h0M648.8 360.5h0M666.1 346.7h0M655.9 346.4h0M670.9 343.7h0M664.3 349.3h0M656.6 350.5h0M653.7 356.9h0M657.6 351.8h0M664.2 357.1h0M654.5 354.3h0M659.6 351.7h0M653.1 352.4h0M642.8 360.8h0M646 362.9h0M647.6 349.2h0M666 347.9h0M654.1 361.2h0M661.5 354.3h0M672.5 345h0M653.5 363.4h0M656.1 351.4h0M649.7 355.6h0M648.4 357.9h0M672 343.2h0M669.3 349h0M657.6 354.3h0M672 344.1h0M662 349.2h0M657.2 353.7h0M638.5 361.8h0M660.7 346.2h0M658.7 354.5h0M672.9 343h0M669.6 344.7h0M667.9 343.8h0" stroke="#cc4c02" stroke-opacity="0.42"/>
<path d="M669.7 342.4h0M656.9 347.6h0M647.7 358.4h0M664.2 347.9h0M664.3 344.1h0M667.3 344.9h0M667.5 344.3h0M647.7 349.6h0M659.9 347.5h0M667.2 346.9h0M657.2 350.6h0M669.7 343.6h0M656.9 356.8h0M655.1 353.1h0M657.4 349.1h0M663.2 351h0M648.6 357.9h0M658.9 352.8h0M671.9 343.5h0M662.7 349.6h0M651.3 355.6h0M670.6 345.3h0M649.7 351.9h0M662.7 347.1h0M667.8 347.5h0M660.7 351.6h0M670 344.4h0M667.8 346.4h0M666.1 348.5h0M665.1 350.8h0M668.3 344.9h0M666.9 347.6h0M663.4 349.8h0M665.5 349.5h0M642.3 354.2h0M651 353.7h0M665.6 346.2h0M666.1 344.7h0M653.8 354.7h0M665.7 347.1h0M654.6 356.8h0M660.5 352.3h0M671.8 342.9h0M668.7 350.3h0M654 355.4h0" stroke="#cc4c02" stroke-opacity="0.42"/>
<path d="M660.6 354.3h0M658.4 352.6h0M660.3 350.4h0M651.8 354.1h0M666.8 348.9h0M661.2 345.9h0M652.4 352.1h0M651.7 352.3h0M653.5 355.9h0M651.6 359.6h0M648.2 357.7h0M668.6 342.2h0M650.7 355.5h0M667.9 342.1h0M653.9 354.8h0M662.2 349.2h0M662.6 346.5h0M666.6 346.2h0M663.5 350.4h0M668.9 345.4h0M663.1 349.4h0M665.5 349.4h0M672 342.9h0M665.9 347.8h0M653 357.7h0M667.2 354.2h0M661.9 348.2h0M666.5 345.8h0M662.8 347.6h0M667 346.4h0M658 358.9h0M659.1 354h0M665.4 348h0M658.8 350.6h0M657.4 351.2h0M669 344.8h0M664.9 351.8h0M668.1 345h0M655.5 355.8h0M664.2 349.2h0M671 343h0M660.1 351.6h0" stroke="#cc4c02" stroke-opacity="0.42"/>
<path d="M519.3 455.4h0M575.6 416.4h0M519.7 453.1h0M617.8 394.8h0M593.6 402.6h0M615.8 391.5h0M571 414.8h0M543 443.8h0M653.2 375.8h0M646.3 368.2h0M578.1 403.9h0M590.4 399.9h0M622.8 368.6h0M625.4 383.4h0M445.3 522.7h0M619.8 390.5h0M577.1 417.5h0M610.4 393.4h0M583.1 419.1h0M479.5 497.9h0M594.5 403.3h0M633.7 366.8h0M612.1 385.6h0M569.7 424.6h0M527.1 455h0M420.1 544.5h0M598.9 407h0M620.2 370.9h0M596 399.8h0M631.3 371.6h0M577.7 422.2h0M608.6 391.9h0M455.2 514.6h0M650.6 373.7h0M598.7 400.3h0M629.1 380h0M619.1 389.8h0M627.5 390.4h0M629.7 389h0M583.3 420.2h0M608.9 393h0M631.2 373.1h0M425.4 543.4h0M609.7 386h0M595.2 406.4h0M421.1 539.8h0M581.9 415.9h0M502.7 487.6h0M602.9 394.7h0M612.7 384.2h0M545.2 444.3h0M639.7 374.7h0M475.8 504h0M545.9 444.8h0M628.2 383.2h0M636 376.9h0M555.7 437.4h0M567.6 423.8h0M519.3 459.3h0M651 363.9h0M416.1 543.7h0M507.1 479.9h0M638 378.9h0M605.9 401h0M615.3 379.1h0M609.1 385.7h0M534.3 452.1h0M639.6 376.3h0M620.6 378.9h0M610.4 406h0M551.7 440.9h0M581.8 406.2h0M616.9 377.6h0M617.6 390.6h0M498.7 477.7h0M642.3 369.4h0M594.9 402.6h0M500.8 470.9h0M621.4 397.7h0M596.2 404.4h0M625.4 388.9h0M628 398.8h0M642.8 358.3h0M437.9 531.4h0M560.3 429.9h0M547.1 438.4h0M631.6 369.2h0M544.3 438.8h0M418.2 545.4h0M605.7 390.7h0M601.4 391.1h0M448.2 526.1h0M423 544.9h0M617.8 376.3h0M567.5 423.1h0M615.2 394.6h0M503.6 475.1h0M568.9 418.6h0M431.7 535.3h0M643.4 368.9h0M608.4 392.9h0M581.5 414.9h0M627.2 382.9h0M551.3 436.8h0M638.5 373.7h0M628.2 381.2h0M464.2 506.8h0M417.2 544.6h0M627.9 368.8h0M611.5 384.4h0M605.1 382.4h0M476.2 502.7h0M632.6 385.1h0M577.1 424.8h0M637.2 370.7h0M573 415.2h0M593.9 410.6h0M541.7 446.3h0M531.4 450.4h0M565.2 422.6h0M611.7 403h0M533.6 455.8h0M529.5 447.3h0M585.8 392.6h0M610.7 375h0M641.2 374.7h0M451.2 518.2h0M620.4 399h0M607.5 393.7h0M589.1 409.1h0M627.5 377.8h0M615.2 392.7h0M556.5 430.7h0M477.7 502.2h0M584.1 417.1h0M544.5 445.3h0M624.4 383.5h0M600.9 405.9h0M615.4 397.3h0M560.2 429.3h0M583.9 397.6h0M611.2 387.7h0M624.2 375.5h0M630.6 388.1h0M421.4 544.1h0M619.8 393.4h0M568.8 413.2h0M599.5 391.7h0M572.2 420.4h0M610.3 392.6h0M614.3 388.6h0M468.4 504.9h0M488.1 486.7h0M610.3 395.7h0M594.9 411.2h0M590.7 404.9h0M590.4 416.6h0M421.7 544.7h0M561.5 417.4h0M650.8 371.5h0M521.9 464.5h0M543.4 449.1h0M634 365.8h0M614.3 385.1h0M589.4 405.7h0M624.7 366.6h0M632.8 365.5h0M619.6 369.9h0M620.2 392.3h0M526.6 453.8h0M572.8 432.4h0M629.7 384h0M582.4 417.4h0M645.9 370.7h0M430.4 539.4h0M595.4 402h0M593.5 402.6h0M574.1 418h0M627.8 390.2h0M639.9 366h0M542.9 439.6h0M496.8 481h0M598.4 389.1h0M540.7 450.8h0M604.8 394h0M613 386.5h0M610.1 390h0M634.9 389.6h0M577.1 408h0M601.3 403.4h0M594.5 399.5h0M536.3 453.7h0M627.9 393.4h0M641.4 380.4h0M486.4 487.1h0M570.6 423.2h0M615.8 380.8h0M608.6 385.4h0M579 418.1h0M612.2 388.1h0M569.1 418.2h0M642.7 366.9h0M647.9 369.6h0M623.8 375.5h0M626 379.1h0M572.2 420.7h0M559.5 437.9h0M600.1 402.5h0M628.5 365.8h0M637.3 363.9h0M455.9 515.9h0M543 451.4h0M562.4 437.3h0M477.6 495.4h0M604.3 392.2h0M428 537h0M620.3 399.5h0M473.7 507.6h0M551.9 430.8h0M522.5 456.6h0M574 427.4h0M593.3 402.7h0M515.1 468.4h0M600.2 387.6h0M432.3 530h0M492 487h0M583.4 408.2h0M644.9 372.9h0M628 376.5h0M634.2 374.4h0M650.1 362.6h0M610.8 399.3h0M627.3 386.8h0M591.2 417.7h0M415.2 544.4h0M622 382.3h0M463.6 509h0M604.9 396.2h0M541 435.4h0M573.3 417.7h0M542.4 438.4h0M584.8 407.3h0M611.8 402.4h0M613 395.4h0M632.4 381.1h0M577.9 424.6h0M604 392.4h0M575.5 423.8h0M422.9 543.6h0M507.1 480.3h0M646.5 362.9h0M551.8 447.2h0M613.6 391.1h0M418.3 545.4h0M603.8 395.1h0M599.8 420.2h0M581.8 413h0M603.7 388.9h0M584.6 403h0M619.3 394.9h0M617.1 403.6h0M558 441h0M645.3 358.3h0M604.3 399.3h0M427.2 541.6h0M484.4 491.7h0M555.6 430.8h0M646.4 370.1h0M620.3 397.1h0M553.9 434.2h0M590.2 402.4h0M594.2 401.1h0M628.2 383.9h0M614.3 401.2h0M621.6 386.5h0M614.2 381.2h0M643.9 375.9h0M639.9 372h0M601.4 407.6h0M557.1 440.1h0M617.5 382.5h0M625.8 386h0M616.9 392.2h0M574.4 422h0M621.5 381.3h0M627.4 388.1h0M635.7 361.3h0M619.5 388.8h0M646.5 364.7h0M609.1 390.8h0M608.5 405.7h0M628.2 359.7h0M471.2 505h0M621 385.1h0M584.9 410.1h0M610.1 392.4h0M628.3 371h0M630.7 375.1h0M579.6 408h0M560.8 434.4h0M427.2 532.1h0M634.2 391.3h0M595 391h0M530.7 457.7h0M600.7 407.2h0M539.4 448.8h0M631.2 384.2h0M614.3 380.4h0M587.5 410.1h0M637.6 362.1h0M458.8 521.5h0M632 370.1h0M578.1 417.8h0M551.6 431.9h0M578.5 415.3h0M574.8 423.2h0M633.2 379.6h0M638.1 364.1h0M549 434.5h0M610.6 389.1h0M637 383.6h0M613.4 391h0M535.1 450.6h0M639.2 376.1h0M433.3 534.4h0M568.7 432.9h0M624 378.5h0M508.8 470.7h0M477.5 495.7h0M510.9 470.8h0M468.9 502.6h0M608.8 391.5h0M467.1 502.3h0M527.7 449.5h0M645.9 367h0M566.8 421.7h0M624.4 387.1h0M638.7 370.6h0M585.3 410.6h0M643.4 367.8h0M646.7 371.5h0M563 432.1h0M423.2 541.3h0M543.8 446.2h0M556.3 429.7h0M622 392.6h0M417.5 545.3h0M600.9 401h0M514.3 465.1h0M566.1 430.9h0M479.1 499.9h0M634.1 374.8h0M597.5 404.2h0M502.5 472.5h0M421.9 542.7h0M591.8 404.5h0M635.2 387.7h0M614.6 398.2h0M487.6 489.6h0M585.3 416.8h0M570.4 419.9h0M631.7 382.9h0M497.7 481.9h0M565.8 421.9h0M603.7 403.6h0M566.3 421.8h0M623 366.6h0M608.9 379.4h0M447.5 525.4h0M521.5 455.2h0M637.6 379.8h0M613.4 405.6h0M619.8 388.1h0M423.9 542.7h0M582 417.6h0M538.3 442.8h0M624.7 376.2h0M448.8 526.6h0M425.4 542h0M576.3 424.6h0M609.2 391.3h0M500.6 478.3h0M628 405.4h0M631.2 388.5h0M420.2 538.5h0M575.9 411.6h0M639.6 366.9h0M642.7 374.2h0M593.8 410h0M582.5 422.4h0M634.3 373.1h0M427 537.5h0M586 407h0M639 393.7h0M423.8 537.8h0M596.1 404.3h0M640.8 380.1h0M590.3 402h0M570.7 429.9h0M596.9 393.7h0M421.1 545.9h0M623.6 386h0M648.5 374.9h0M633.8 384.6h0M510 464.4h0M455 514.5h0M609 380.3h0M615 390.5h0M577.7 400.6h0M611.5 389.6h0M618.9 386.9h0M421.2 543.5h0M534.7 460h0M592.1 398.7h0M629.4 368.5h0M601.6 396.6h0M613.8 395.2h0M451 516.5h0M577.1 407.7h0M630.8 369.6h0M612.1 395.6h0M600.4 394.8h0M566.8 431.8h0M605.3 411h0M521.4 463h0M630.6 375.7h0M610.9 393.1h0M604.8 390.3h0M640.4 367.2h0M565.3 421.2h0M620.1 379.5h0M612.9 398.2h0M593.8 400.2h0M618 373.3h0M548.9 431.3h0M608.3 385.4h0M585.6 421.2h0M594.6 400.7h0M422 542.9h0M591.2 408.1h0M627.4 384.4h0M560.2 441h0M573.2 414.3h0M610.2 388.9h0M621.9 382.4h0M604.6 400h0M477 495.9h0M634.7 378h0M639 365.5h0M504.8 477.8h0M598 399.7h0M606.2 385.4h0M461.4 510.3h0M421.4 539.2h0M473.2 495.9h0M504 473.7h0M472.6 505.7h0M562.6 424.8h0M565.8 441h0M640.1 366.9h0M613.7 373.3h0M627.4 382.7h0M639.2 373.9h0M580.6 406h0M629.3 381.8h0M498.5 482.3h0M416.8 540.6h0M575 415.4h0M641.4 373.9h0M565.6 427.4h0M626.4 382.7h0M619.5 396.9h0M610.7 401.2h0M542.7 449.3h0M638.6 367.2h0M627.2 383.7h0M624.2 369.2h0M626.1 386.1h0M600.1 389.2h0M577.5 421.2h0M634.8 370.1h0M594.6 392.7h0M603.9 387.7h0M587 402.5h0M625.4 395.3h0M552.3 442.4h0M643.2 364.1h0M588.8 402.2h0M624.7 384.9h0M605.5 403.4h0M601.8 407.3h0M442.9 520.7h0M616.5 394.8h0M639.7 362h0M456.2 510.5h0M577.9 423.8h0M519.4 463.7h0M637.6 365.6h0M552.5 434.8h0M568.7 433.8h0M603.5 398.4h0M627.8 388.4h0M608.9 385.6h0M635.9 373.9h0M460.9 512.2h0M613 404.9h0M639.6 363.4h0M585.6 425.8h0M550.7 428.1h0M563.7 432.7h0M599.9 392.1h0M544.6 442.1h0M575.8 412.6h0M640.1 366.1h0M628.6 379.6h0M604.9 402.8h0M564.4 424h0M465.1 508.6h0M462.8 507.7h0M516.1 466.1h0M626.4 381.3h0M500.8 479.7h0M427.3 534.8h0M627.4 375h0M599.5 412.9h0M533.1 445.4h0M598.1 394.3h0M546.1 434.8h0M618.3 377.9h0M606.1 393.7h0M632.9 373.7h0M562.7 428.1h0M460.6 509.6h0M579.2 419.2h0M586.3 420.8h0M614.1 392.1h0M420.6 542.4h0M454.7 515.3h0M552.1 434.9h0M541.7 448.3h0M513.3 469.8h0M612.7 395.5h0M622.2 398.6h0M613.7 404.1h0M575.2 412.1h0M460.7 508.7h0M529.9 455.9h0M595 406.2h0M620 375.7h0M583.7 401.9h0" stroke="#184b87" stroke-opacity="0.95"/>
<path d="M667.5 351.1h0M667.5 347.2h0M649.4 361.2h0M666 344.3h0M664.3 345.9h0M668.1 344.3h0M666.3 348h0M666.7 350h0M669.1 347.8h0M670.7 341.8h0M667.8 345.7h0M652.9 354h0M668 345.8h0M651.2 354.7h0M662.7 353.5h0M664.3 348h0M658.1 352h0M671.1 343h0M665.1 349.5h0M664.3 346h0M661.8 347.3h0M665.2 348.8h0M638.1 354.1h0M657.1 348.1h0M647.5 358.3h0M658.4 349h0M661.4 355.1h0M666.2 350.5h0M670.6 345.3h0M663.5 347.6h0M649.4 355.7h0M669.7 342.6h0M667.6 348.7h0M661.5 351.3h0M661 349.6h0M655 348.5h0M665 346.6h0M667.8 348.5h0M655.1 349.6h0M664.6 348.6h0M653.3 355.5h0M666 342.4h0M650.5 358.9h0M656 351.2h0M670.2 346.6h0M669.3 342.6h0M662 350.5h0M666.4 344.9h0M655 353.2h0M648.8 358.6h0M662.7 345.9h0M651.1 354.3h0M659.3 352.2h0M656.9 353.7h0M656 354h0M655.3 360.1h0M664.5 348.7h0M666.1 344.4h0M661.5 354.8h0M647.5 356.3h0M665.6 346h0M657.9 352.6h0M659.8 356.4h0M667.9 346.2h0M668.4 342.4h0M645.4 352.2h0M652.8 355.8h0M651.6 348.9h0M666.4 344.4h0M668.2 346.3h0M656.9 356.5h0M661.7 346h0M657 350.6h0M670.4 344h0M670.7 344.7h0M653.5 354.6h0M671.7 341.9h0M664.3 347.2h0M654 356.4h0M666.4 346.3h0M664 349.3h0M662.4 350h0M670 346.4h0M667.8 344.5h0M644.5 355.7h0M665.4 355.3h0M669.5 344.1h0M658.7 352.2h0M657.9 348.9h0M665.8 343.9h0M659.1 349.9h0M663.4 346.7h0M667.6 342.9h0M667.6 348.1h0M661.3 352.5h0M663.1 351.2h0M666.1 348.7h0M662.7 348.5h0M656.4 350.3h0M664.6 348.7h0M656.3 351.5h0M661.1 353.6h0M659.5 348.8h0M669.7 344.4h0M663.7 349.4h0M668.4 344.5h0M670.5 342.9h0" stroke="#cc4c02" stroke-opacity="0.72"/>
<path d="M624.8 370.8h0M640.6 377.6h0M586.2 400.7h0M612.1 384h0M493.2 479h0M596.7 406.6h0M619.5 400h0M588.1 402.6h0M613.7 387.2h0M534.5 455.3h0M577.2 414.6h0M617 383.1h0M431.6 537.3h0M634.9 386.6h0M572.2 419.4h0M635.2 371h0M603.8 389.8h0M551.5 442.6h0M614.7 386.8h0M598.9 402.1h0M607.4 393.6h0M440.5 528.1h0M547.3 445.3h0M604.9 396.2h0M620.6 383.9h0M581.3 418.6h0M579 408h0M624.2 378.8h0M622.3 375.8h0M606.6 390.6h0M639.4 377.3h0M617.1 413.8h0M615.5 398.5h0M589 401.6h0M479.6 497.1h0M619.5 380.8h0M551.1 440.3h0M578.4 413.3h0M580.8 417h0M635.7 370h0M577.4 417.6h0M595 408.1h0M636.6 379.1h0M650.5 362h0M521.7 463.1h0M564.7 428.3h0M483.5 484.8h0M616 388.2h0M622.4 376h0M592.3 406.9h0M626.2 383h0M575.8 416.2h0M595.6 402.3h0M651.9 365.4h0M569.9 427.8h0M604 389.4h0M633.7 368.4h0M570.3 422.6h0M553.1 437.6h0M615.3 389.7h0M615.3 383.2h0M579.1 428.8h0M582.7 410.3h0M568.9 422.9h0M645.7 371.6h0M636 365.1h0M637 376.8h0M599.2 403.2h0M654.8 370.8h0M593.3 415.6h0M447.5 522.4h0M593.8 417.5h0M642.3 374.4h0M629.8 377.2h0M558.7 427.8h0M621.4 387.8h0M569.7 422.4h0M625.6 383.7h0M593.9 402.7h0M614.1 389.7h0M524.4 462.2h0M416.3 543.2h0M554.5 435.5h0M507.8 470h0M631.4 395.7h0M609.5 398.5h0M421.1 537.2h0M597.7 395.4h0M648.4 376.8h0M564.5 422.6h0M615.5 397.7h0M497.9 487.3h0M634.4 380.1h0M547.8 433.6h0M580.8 418.9h0M576.4 419.8h0M627.2 388.5h0M552.9 433h0M612.2 396.5h0M642.1 374.8h0M428.8 533.8h0M549.7 443.2h0M596.1 414h0M548.8 435.4h0M566.9 426h0M635.9 375.4h0M637.1 375h0M517.7 447.4h0M579.4 421.1h0M601.2 391.1h0M608.2 399.3h0M649 361.9h0M613.3 395.8h0M621 384.7h0M609 395.4h0M571.9 424h0M635.9 371.1h0M642.2 368.8h0M508.1 467.2h0M628.1 382.5h0M580.2 418.3h0M490.3 484.1h0M595.2 400.7h0M431 532.7h0M608.7 387.1h0M462.3 513h0M633.7 390.3h0M618.9 394h0M491.3 481.2h0M626.2 389.4h0M623.4 378.7h0M587.7 412.6h0M608.9 409.1h0M550.2 436.5h0M625.8 374h0M616.4 390h0M639.7 355.5h0M643 360h0M558.8 428.5h0M643.1 369.1h0M532.7 448.9h0M613.7 395.9h0M563.7 414.7h0M517.3 465.5h0M610 398.1h0M574.6 418.1h0M620.7 391.2h0M431.7 538.5h0M615.1 392.7h0M598.8 398.1h0M455 509.7h0M519.3 466.6h0M484.1 490h0M613 390.4h0M482.7 496.5h0M544 446.9h0M601.6 413h0M580.3 415.3h0M440.3 525.6h0M580.4 422.7h0M598 396.1h0M619.9 388.8h0M633.8 383h0M617.6 387.8h0M607.6 391.6h0M534.7 451.7h0M639.3 369.7h0M501.9 476.2h0M495.2 481.5h0M626.4 377.6h0M588.2 412h0M560.4 433.9h0M593.1 402.4h0M615.5 387.4h0M545.8 448.6h0M628.1 381.7h0M626.8 381h0M619.3 377.6h0M573.9 420.1h0M636.1 359h0M569.1 424.3h0M646.4 369.8h0M633.6 380.7h0M455.2 514.8h0M592.8 410.9h0M549.5 448h0M450.6 516.6h0M627 385.1h0M554.4 432.3h0M447.9 517.8h0M569.3 422.6h0M536.4 442.2h0M618.9 382.4h0M613.7 403.6h0M581.4 421.8h0M508 475.2h0M441.9 526.6h0M613.5 389.2h0M630.5 381.9h0M590.7 406.4h0M540 450h0M623.6 393.4h0M591.9 418.4h0M579.4 414.3h0M547.4 443.6h0M624.4 381.5h0M561.5 419.1h0M640.2 376.9h0M606.4 387.4h0M618.5 382.4h0M537.8 454.3h0M606 401.8h0M626 371.3h0M582.6 405.6h0M649.5 376.7h0M624.2 386.2h0M424.5 544.4h0M525.2 462.6h0M647.1 359.5h0M574.9 424.7h0M626.9 372.8h0M624.1 380.1h0M485.5 493.3h0M590.2 404.3h0M579 413.9h0M611 384.2h0M424.9 540.5h0M631.9 375.2h0M620.1 397.8h0M625.8 380.6h0M428.4 534.3h0M590.5 405h0M569.6 419.1h0M582.1 426.3h0M579.2 425.9h0M607.4 399h0M538.2 456.8h0M651.3 372h0M629.6 379h0M487 488.7h0M622.7 369.1h0M606.5 391.5h0M462.8 502h0M487 489.9h0M558.4 428.7h0M593.1 400.3h0M591 400.5h0M606.7 388.1h0M624.6 385.9h0M583.9 420.5h0M600.2 397.1h0M632.6 388.7h0M554 436.7h0M632.8 362.7h0M585.2 405h0M539.7 454.9h0M615.4 391.1h0M512.7 470.6h0M645.5 370.5h0M627.1 390h0M594.5 403h0M619.5 390h0M460.8 511h0M561.1 421.6h0M567.1 416.7h0M437.9 531h0M589.2 407.7h0M581.3 421.5h0M566 432.9h0M597.1 393.9h0M603.9 395.3h0M541.9 441.8h0M550 440h0M604.6 380.8h0M423.1 546.3h0M416.1 543.4h0M532.9 455.4h0M622.8 389.3h0M450.3 523h0M555 429.5h0M570.2 433.2h0M532.4 451.2h0M618 391.8h0M631.3 374.5h0M618.2 392.5h0M590.6 398.3h0M636.7 376.3h0M582.4 417.4h0M558.3 427.5h0M610.1 400.3h0M593.9 407.3h0M581.5 420h0M602.6 407.1h0M624.5 380h0M626.7 382.6h0M541.3 432.5h0M495.2 485.9h0M581.7 406.9h0M592.1 402.1h0M612.6 399.5h0M471.2 509.3h0M652 369.9h0M626.6 380.9h0M622.9 383h0M625.4 380.3h0M540.5 437.7h0M418.7 544.4h0M630.9 370.2h0M536 444.2h0M613.1 377.4h0M573 409.2h0M420 538.2h0M568.2 432.8h0M626 380.7h0M591 412.5h0M614.5 399.1h0M586.7 406.1h0M557.1 430.8h0M587.5 415.6h0M599 398.7h0M591.7 403.6h0M529.6 462.7h0M580.1 416.6h0M633.7 373.2h0M567.9 427.8h0M548.2 444.4h0M563.9 432h0M483.4 489.7h0M426.1 536.7h0M603.2 400.7h0M556.1 433.9h0M600.1 402.8h0M447.6 521.7h0M604.6 386.4h0M606.6 394.6h0M596 399.4h0M477.5 493.4h0M640.9 362h0M545.8 430.5h0M615.7 386.4h0M612.5 401.4h0M596.4 405.6h0M626.2 381.9h0M430.3 543.7h0M605.3 396.2h0M604 401.9h0M632.4 373.3h0M578.5 412.3h0M622.5 389.8h0M617.3 376.1h0M539.9 444.8h0M619.1 370.6h0M614.2 394.7h0M590.6 403.9h0M639.9 364.3h0M632.6 393.9h0M441.6 527.5h0M548.3 441.4h0M417.5 542.9h0M606.1 399.8h0M634.7 376.2h0M627.1 388.3h0M477.4 506.6h0M603.9 414.2h0M447.1 523.7h0M623.7 384.3h0M617.4 395.6h0M631.5 379.1h0M608.2 404.4h0M536 450.3h0M596.3 411.6h0M537.3 448.1h0M552.4 436.3h0M456.1 512.2h0M623.1 382.2h0M624.5 374.4h0M605.7 394.7h0M557.9 428.5h0M590.2 398.2h0M601 405.1h0M572.6 411.6h0M566.2 416.7h0M532.2 444.7h0M419.4 538h0M590.6 409.6h0M584.1 409.5h0M537.5 453.6h0M638.1 380h0M648.6 381.1h0M627.8 376.3h0M618.4 395.6h0M571.6 439.4h0M423.7 534.5h0M586.3 410h0M643.4 366.9h0M605.7 404.9h0M564.3 431.2h0M646 364.6h0M651.7 371.3h0M558.4 436.3h0M606.2 401.2h0M423 530.4h0M613.4 391.9h0M594.8 426.7h0M608.7 393h0M587.7 414.9h0M504.5 472.5h0M524.6 457.4h0M559.1 426.4h0M595.6 410.3h0M592.2 407.2h0M426.9 536.3h0M579.2 413.4h0M557.8 438.3h0M637.8 377.4h0M416.8 539.6h0M562.5 427.4h0M613.8 394.2h0M587.6 404.4h0M564.9 429.2h0M463.5 509.7h0M575.7 409.8h0M526.7 456h0M621.1 388.2h0M416.1 538.9h0M482.3 492.8h0M634.6 380.8h0M637.6 367.9h0M598.9 401.9h0M641.6 364.9h0M570.9 421.2h0M536.7 452h0M517.7 468.8h0M589.8 419.9h0M559.7 423.2h0M630.3 382.5h0M539.1 439.8h0M623.4 378.6h0M427.9 539.1h0M538 445.1h0M623.6 382.3h0M571.8 421.5h0M626.8 369.5h0M572.1 433.4h0M600.9 409.8h0M604.6 403.7h0M506.8 473.1h0M628.5 372.9h0M499.1 479.7h0M560.8 433.7h0M590.3 399.6h0M626.8 384.1h0M648 364.6h0M559.9 434.7h0M592.8 408.1h0M627.9 363.1h0M456.3 509.9h0M568.1 416.3h0M613.4 385.1h0M557.9 437h0M591.8 393.4h0M619.8 376.8h0M529.9 451.3h0M620.3 385.6h0M566.5 423.3h0M637.2 376.2h0M578.6 429.9h0M635.1 367.5h0M571.6 415h0M577.1 417h0M619.9 383.6h0M567.4 424.6h0M604.9 392.8h0M424.1 540h0M427.6 540.9h0M613 380.1h0M603.2 394.8h0M546.3 438.7h0M564.4 439.4h0M633.5 362.3h0M627.1 380.8h0M580.4 416.7h0M633.1 370h0M593.6 409.6h0M630.8 380.7h0M642.2 367.4h0M610.8 390.4h0M640.7 376.8h0M423.7 539.1h0M422.8 543.1h0M537.2 455.3h0M628.7 372.6h0M629 379.3h0M625.4 391.5h0M573.6 427.3h0M626.2 389.6h0M459.5 518.7h0M630.2 397.3h0M546.3 442h0M570.2 424.3h0M629.1 381.8h0M538.4 449.5h0M634.8 384h0M607.7 405.5h0M647.7 364.3h0M563.3 421.5h0M555.8 437.3h0M451.3 520.3h0M576.6 415.2h0M598.5 396.8h0M498 483.1h0M603.8 391.2h0M529.2 455.7h0M621.4 384.3h0M638.7 361.8h0M569.5 431.6h0M589.8 410.9h0M636.6 371.8h0M639.8 372.7h0M609.3 393.6h0M645.8 370.5h0M566.9 421.9h0M492.5 484.8h0M460.4 506.4h0M612.9 383.7h0M568.3 439.3h0M417.8 543.9h0M631.8 386.4h0M447.4 528h0M598.4 398.1h0M582.6 407.9h0M594 397.1h0M628.9 378h0M626.2 390.3h0M633.3 376.3h0" stroke="#184b87" stroke-opacity="0.95"/>
<path d="M653.9 354.2h0M657.1 347.6h0M665.3 348.8h0M650.8 363.3h0M664.3 349.3h0M654.2 356.2h0M661.5 350.7h0M672.1 343.2h0M667.5 348h0M669.9 345h0M660.1 352.9h0M668.7 346.6h0M665 347.5h0M668.8 344.7h0M663.5 348.4h0M655.3 356.2h0M665.3 345.1h0M657 353.3h0M656.7 349.9h0M657.4 352h0M648.8 353.7h0M663.2 348.1h0M669.2 343.5h0M662.2 346.7h0M669 348.6h0M666.9 346.4h0M653.3 359.3h0M668.6 345.8h0M654.8 352.6h0M657 349.7h0M669.3 345.8h0M661.4 347.9h0M656.9 350.9h0M644.7 358.3h0M659 349.5h0M669.3 345.9h0M664.4 346.3h0M663.9 349.4h0M656.9 352.4h0M658.1 351.4h0M647.6 362h0M651.2 352.4h0M662.9 348.9h0M668.2 345.9h0M664.7 349.2h0M658.8 358.3h0M647.4 359.9h0M657.1 350.9h0M664 347h0M670.9 343.1h0M661.7 349.6h0M664.4 351.2h0M653.9 355.5h0M652.4 354.9h0M648.1 355.1h0M662.4 348.7h0M672.5 343h0M651.2 353.8h0M648.6 354.8h0M660.6 348.7h0M657.1 354.6h0M661.9 351.7h0M665.2 347.7h0M645.5 353.1h0M666.5 346.8h0M666.6 346.1h0M657.4 349.2h0M649.8 358.3h0M667.2 347.3h0M668.1 345.5h0M663.8 347h0M664.7 350.2h0M669 347.7h0M658.9 347.4h0M653.5 356.8h0M658.8 346.8h0M664 347.6h0M660.1 354.1h0M653.5 353.3h0M646.3 357.4h0M667.9 344.5h0M671.6 344.9h0M657.3 353h0M665.5 349.1h0M650.2 354.3h0M660.6 345.7h0M659.3 347.4h0M655.4 349.3h0" stroke="#cc4c02" stroke-opacity="0.72"/>
<path d="M636.6 367.5h0M451 516.1h0M593.6 394.2h0M587.4 411.9h0M647.8 365.9h0M645 368.2h0M612.7 399.5h0M637.3 368.7h0M553.9 430.7h0M594 404.7h0M544.2 447.1h0M624.3 384.9h0M519.2 458.8h0M632.5 374.5h0M597.8 399.2h0M648.7 373.8h0M629.5 369.2h0M579 412.9h0M478.8 504.1h0M579.6 414.1h0M587.6 396.2h0M617.6 397.8h0M562.6 415.2h0M610.2 404.5h0M462 509.2h0M507.8 474.8h0M624.1 389.1h0M573.1 415.9h0M628.3 379.1h0M629.7 380h0M636.5 369.8h0M437.9 522.1h0M612.5 386.1h0M605 386.8h0M623.8 382.5h0M586.3 414.4h0M571.5 426.9h0M564.9 434.3h0M607.7 391.3h0M618.8 378.1h0M639.9 364.1h0M616.2 394.3h0M456.1 515.6h0M613.4 397.3h0M641.4 366.3h0M621.3 384.9h0M598.1 384.9h0M548.2 430.4h0M638 376.5h0M496 480.2h0M606.3 406.5h0M608.9 386.4h0M617.5 371.3h0M631.8 369.7h0M589.5 398.3h0M622 388.1h0M629.5 374.4h0M564.7 430.4h0M591.3 407h0M640 370h0M640.2 370.6h0M630 366h0M556.3 440.4h0M559.1 441.8h0M538.4 456h0M614.8 386.2h0M546.8 434.4h0M423.7 534.5h0M582.9 411h0M607.3 406.2h0M625 366.9h0M429.1 538.3h0M585.2 421.4h0M587.9 407.7h0M466.9 507.5h0M619.2 384.5h0M644.6 381.7h0M619.1 385.7h0M614 377.8h0M568.9 423.1h0M597.4 399.6h0M622.2 388.9h0M624.4 386.6h0M504.1 476.4h0M617.5 386.3h0M604.7 404.8h0M574.1 427.6h0M465.2 511.2h0M634.4 370.8h0M630.7 367.5h0M586.1 409.3h0M581.3 406.2h0M455.8 512.7h0M630.6 383.1h0M617.7 396.6h0M568.1 427.2h0M591.6 407.5h0M473.7 503.6h0M597.9 406.2h0M440.4 531h0M430.5 535.1h0M550.9 431.4h0M635.5 379.9h0M558.4 430.4h0M631 395.4h0M624.5 381.3h0M595 399.6h0M614.2 395.1h0M435.8 528.2h0M645.7 367.3h0M585.8 420.6h0M563.2 422h0M589.1 408h0M563.5 438.9h0M623.9 371.4h0M599.2 382h0M609 385.7h0M631.4 371h0M574.3 417.6h0M619.5 394.7h0M586 409.3h0M514.5 456.8h0M606.2 404h0M452.9 521h0M635.1 374.7h0M627.8 386.9h0M576 432.9h0M595.9 407.4h0M581.5 410.1h0M461.1 512.4h0M460.1 519.3h0M581.1 418.9h0M626.3 386h0M427.7 541.6h0M597.6 390.3h0M567 430.6h0M566.2 427.3h0M576.4 411.8h0M634.3 376.1h0M470.9 501.6h0M488 491.1h0M540.2 443.7h0M477 496.6h0M510.6 466h0M419.7 546.2h0M534.2 449.6h0M582.5 413.3h0M625.2 387.9h0M564 426.6h0M614.6 386.1h0M455.6 517.6h0M597.9 404.5h0M629.2 381.9h0M569.5 421h0M618.8 382.9h0M620 392.5h0M618.6 380.4h0M596.5 401.9h0M612.6 389.6h0M515.9 479.2h0M620.6 388.3h0M615.2 389.9h0M622.7 385.6h0M575.4 422.9h0M583.9 402.7h0M604.2 394.9h0M560.6 424.5h0M605.7 403.5h0M420.8 543.3h0M499.5 472.8h0M589.9 391.6h0M591.6 414.6h0M442 523.6h0M603.6 397.9h0M639.7 366.6h0M590.1 412.5h0M565.7 417.8h0M609.2 394.4h0M641.2 365.1h0M538.1 443.6h0M605.8 391.2h0M610.9 401.4h0M643.9 368.5h0M570.8 414h0M607.3 397.9h0M642.2 379.8h0M632.7 375.8h0M628.4 380.3h0M634.9 374.7h0M504.7 477.3h0M645.2 361.2h0M585.4 414.2h0M651.3 365.1h0M512.7 467.9h0M615.2 393.9h0M552.9 437.2h0M524.6 463.2h0M638.5 358.8h0M450 526.7h0M520.8 469h0M567.5 431.4h0M488 489.9h0M639.3 369.5h0M594.9 399.9h0M557.5 429.8h0M635.4 380.2h0M637.4 382.9h0M622.4 380.8h0M599.5 406.6h0M582.5 413.6h0M631.7 384.1h0M596.3 401.3h0M595.6 399.5h0M543.5 449.1h0M420.8 541.6h0M462.7 507h0M598.8 394.8h0M434.3 539.3h0M623.2 386.4h0M631.7 378.5h0M586.5 412.7h0M532.8 451.7h0M417.8 541.9h0M494.7 480.1h0M628.7 383.9h0M491.7 491.3h0M596.1 395.2h0M643.2 370.7h0M569.6 431.3h0M617.2 393.6h0M600.7 390.6h0M507.7 477h0M604.7 400.8h0M621.3 390.7h0M512.7 474.3h0M641.2 369.3h0M629.4 379.7h0M418.4 545.8h0M548.5 447.4h0M637.4 370.8h0M615.2 382.2h0M596.3 390.1h0M570.8 432.2h0M619.9 391.2h0M637.6 376h0M525.8 456.9h0M630.1 375.9h0M593.5 418.5h0M542.6 444.8h0M605.4 399.5h0M580.7 412.5h0M631.5 397.8h0M490.9 491.8h0M534.1 455h0M636.6 369.3h0M622.1 377.2h0M608.1 380h0M613.9 385.4h0M551.9 441.4h0M616.6 375.3h0M651.8 362.5h0M587 407.5h0M625 382.9h0M637.1 360.4h0M585 395.1h0M602.9 396.2h0M580.6 417.6h0M629.8 379.3h0M610.1 396.3h0M591.7 402.1h0M608.3 387.9h0M627.4 380.1h0M575.8 404.4h0M609.4 389.7h0M457.7 515.8h0M592.1 404.7h0M538.9 451.8h0M439.5 529.5h0M583.6 407.3h0M570.2 423.2h0M637.4 369.1h0M453 518.4h0M429.7 534h0M564.4 427.5h0M419.6 544h0M616.9 398.5h0M563.9 425.3h0M635.3 382.1h0M602 400.8h0M558.5 438.3h0M429.4 535.8h0M545.9 436.8h0M543.3 444.7h0M461.9 513.9h0M500.3 481.4h0M626.5 379.1h0M571 422.2h0M526.7 449.5h0M566.3 422.1h0M626 389.4h0M626.7 375.9h0M560 430.1h0M490.7 493.3h0M531.2 448.4h0M426.6 536.8h0M623.1 378.9h0M550.6 448h0M607.5 408.5h0M601.4 398h0M423.2 536.1h0M609.3 399.2h0M417.4 545.4h0M644.6 379.9h0M545.4 442.9h0M631.3 382.1h0M476.8 500.6h0M532.9 444.2h0M584.8 404.5h0M581.4 414.1h0M581.4 422h0M447.8 523.3h0M564.4 424.8h0M487 492.7h0M636.1 361.9h0M630.3 374.7h0M589.8 415.2h0M628.9 379.7h0M453.9 522.7h0M584.9 430.6h0M577.3 410.7h0M626.7 372.8h0M615.2 377.1h0M563.9 431.1h0M587.5 419.1h0M638.5 382.3h0M418.6 545.5h0M425.2 540.1h0M612.4 391.1h0M631.9 377.6h0M630.2 364.3h0M631.8 374h0M618.1 385.2h0M626 379.6h0M601.9 392.7h0M632.7 364.5h0M417.8 543.1h0M616.5 396.5h0M540.7 452.9h0M629.3 385.7h0M515.1 470.3h0M610.5 380.5h0M426.3 535.5h0M599.3 410.9h0M594.7 405.8h0M593.1 403.6h0M637.6 373.5h0M512.1 478.4h0M642.3 364.5h0M574.2 415.8h0M581.8 410.5h0M455.4 519.2h0M642.7 370.2h0M537.6 444.1h0M620.7 374.9h0M591.5 411.9h0M557.9 431.5h0M423.9 538.2h0M637.8 372.2h0M640.6 367h0M419.3 542.5h0M448.5 517.6h0M593.2 407.4h0M623 397.6h0M600.4 426.9h0M571.4 417.7h0M580.1 422.2h0M575.9 416.6h0M618.8 387.4h0M605.6 390.2h0M620.7 389.4h0M605 398h0M578.6 418.9h0M566.3 426.2h0M580.7 408.6h0M556.8 436.1h0M526.9 459.6h0M603.2 398.4h0M641.6 372.2h0M629 364.4h0M428.6 540.2h0M613.1 388.3h0M590.1 414h0M617.8 390.5h0M630.1 379.6h0M632.7 376.8h0M585.5 400.8h0M617.6 385.6h0M593.7 410.8h0M631.7 376.5h0M615.4 390.6h0M622.1 380.6h0M640.9 380.8h0M587.3 404.4h0M636.5 380.3h0M650.5 366.8h0M588 403.8h0M564.4 421h0M623.8 382.4h0M649.3 363.9h0M633.5 374.4h0M618.5 389.4h0M481.3 503.8h0M619.8 384.5h0M632.5 368.3h0M542.8 451h0M598.8 405.6h0M591.8 413.4h0M633.3 384.4h0M592.4 397.9h0M594.2 413.9h0M614.3 413.3h0M445.1 524.2h0M428.6 534.1h0M608.2 393.1h0M576.9 420.4h0M563.5 428.8h0M630.2 379.4h0M635.3 373.3h0M597.4 401.4h0M611.8 389.3h0M560.1 435.3h0M486.2 489h0M431.9 532.2h0M562.6 422.7h0M552.4 440.2h0M554.6 433.5h0M560.8 419.8h0M611.8 384.6h0M603.7 393.8h0M563 414.2h0M430.1 535.1h0M445.2 526.9h0M594.1 406.4h0M421.6 542.3h0M601 394.7h0M421.1 542.4h0M630.2 381.5h0M600.6 409.4h0M510 479.9h0M502.9 479.7h0M602 400.6h0M620.1 385.6h0M540.1 450.4h0M580.6 404.4h0M606.8 407.7h0M601.6 406.6h0M588.4 413.9h0M627.5 374.7h0M631.7 375.1h0M599.6 403.7h0M427.4 540h0M596.3 399.1h0M580.7 413.1h0M587.6 416.4h0M611.5 380.1h0M569.8 421.5h0M595.5 389.7h0M566.2 428.8h0M583.9 413.7h0M544.6 451.8h0M619.7 381.6h0M606.3 395.1h0M633.3 382.9h0M602.1 402.3h0M564.8 428.1h0M485.5 494.5h0M645.7 369.1h0M493 488.7h0M604.4 384h0M575.7 409.4h0M534.9 449.3h0M444 526.5h0M628.2 379.9h0M611.1 396.2h0M643.6 369.6h0M546.2 431.5h0M585.1 407.2h0M573.3 420.5h0M604.3 396.3h0M594.3 416.5h0M611.8 388.3h0M584.5 403.6h0M623.7 389.6h0M533.3 443.3h0M648.4 373.1h0M460.6 513.9h0M421.3 538.9h0M566 427.2h0M546.1 442.6h0M650.1 366.5h0M611.7 379.5h0M517.7 462.1h0M595.5 398.2h0M621.4 378.2h0M602.9 399.3h0M536.9 458h0M543.7 443.5h0M447.6 515.3h0M638.1 368.5h0M566.1 419.1h0M627.5 379.7h0M549.3 446h0M567.3 418.2h0M623.4 381.8h0M640.2 374.3h0M551.2 437.2h0M545.5 437.1h0M507.3 473.6h0M617.1 386.4h0M597.3 391.6h0M579.1 416.1h0M646.5 374.5h0M598.8 396.2h0M580.1 401.8h0M592.3 411.6h0M626 380.3h0M621 382.5h0M599.7 397.5h0M616.7 392.6h0M563.7 432h0M518.1 464.5h0M597.8 387.2h0M639 377.3h0M640 379.2h0" stroke="#184b87" stroke-opacity="0.95"/>
<path d="M651.7 358.9h0M650.9 356.3h0M664.3 348.8h0M650.1 350.4h0M666.2 345.4h0M664.9 347h0M647.3 365.2h0M666.7 346.1h0M666.7 347.4h0M659.4 354.2h0M667.4 343.5h0M652.3 362.8h0M658.7 354.2h0M660 346.7h0M665.2 348.4h0M670.4 346.9h0M669.6 343.6h0M671.7 343.9h0M672.2 343.1h0M663.7 345.2h0M668.7 345.4h0M654.2 354.2h0M659.4 354h0M672.2 344h0M659.8 350.5h0M639.5 353.4h0M644.8 359.1h0M649.6 357.1h0M665.1 346.6h0M656.3 353h0M671.5 343.3h0M668.1 347.1h0M668.6 344.7h0M657.8 351.4h0M659.7 350.5h0M647 356.4h0M660.2 350.3h0M660 343.8h0M670.5 343.7h0M659.9 349.1h0M657.4 354.4h0M665.3 348.9h0M667.1 347.9h0M659.8 348.8h0M647.9 356.2h0M658.3 350.7h0M664.2 348h0M649.2 353.3h0M670.6 345.2h0M649.5 351.8h0M665.7 347.6h0M653.5 355h0M668.1 347.2h0M661.1 344.7h0M669.8 342.8h0M656.5 347.8h0M666.5 347.8h0M664.2 349.2h0M668.6 347h0M653.4 354h0M659.6 352.2h0M664.7 346.4h0M656.5 354.9h0M671.8 346.2h0M662.5 349.2h0M664.1 347.7h0M664 346.7h0M658.2 350.5h0M668.8 344.8h0M661.8 348.5h0M664.5 349.6h0M663.1 353.1h0M659.9 353.5h0M664.8 349.5h0M665.1 349.7h0M654.3 354.8h0M673 343.9h0M668.6 347.2h0M671.3 343.1h0M671.8 345.3h0M661.9 352.6h0M665.4 348.8h0M670.9 344h0M652.8 357.9h0M666.9 344.4h0M667.4 344.5h0M664.2 347.4h0M659.8 351.6h0M651 355h0M661.2 345.4h0M657 355h0M654.5 351.6h0M666.6 346.6h0M668.2 345h0M658.3 356.5h0" stroke="#cc4c02" stroke-opacity="0.72"/>
<path d="M603.3 409h0M642.3 364.2h0M606.6 394.5h0M578.3 417h0M621.7 378.2h0M620.3 378.9h0M638.7 371.6h0M638.6 369h0M594.7 404h0M644.5 370.2h0M567 414.7h0M549.6 448.1h0M599.9 403.9h0M600.7 393.7h0M630.3 365.2h0M590.1 407.8h0M631 368.3h0M556.4 429.5h0M570.9 411.1h0M564.8 425.4h0M633.1 387.1h0M547.1 440.9h0M453.2 520.4h0M459.6 514h0M603.5 411.5h0M446.5 523.1h0M593.8 406.7h0M611.4 389h0M596.5 407.7h0M619.3 407.4h0M596.5 403.1h0M559.3 428.7h0M563.6 429.6h0M634.8 372.5h0M566.3 433.8h0M576.4 424.6h0M615.8 380.9h0M604.7 395h0M647 369.4h0M440.4 529.2h0M622.2 380.4h0M639.1 369.9h0M543.5 438.5h0M645 362.7h0M618.1 377.7h0M573.5 426.3h0M632.8 393.9h0M637.1 369.7h0M627.2 377.2h0M430.4 538.9h0M624.7 388.6h0M631.4 372.8h0M618.1 373.9h0M635.4 365h0M500.4 477.4h0M564.4 430h0M624.9 385.3h0M625.4 394.1h0M596.2 399.1h0M617.3 369.1h0M518.1 466.7h0M632 384.8h0M608.5 390.4h0M587.2 403.4h0M543.8 435.5h0M625.3 386.1h0M635.5 369.5h0M582.4 414.2h0M630.4 370.7h0M634.5 363.3h0M625.9 376.1h0M602.6 389.3h0M629.5 379.2h0M550.4 436h0M433.5 532.6h0M637.2 371.2h0M627.5 373.6h0M586.3 408.8h0M619.6 390.9h0M445.9 522.4h0M597 409.6h0M537 447.3h0M591.4 406.5h0M646.3 366.4h0M414.3 542.6h0M594.3 401.6h0M574.1 418.3h0M605.5 395.3h0M620.5 386h0M605.1 393h0M517.9 463.8h0M596.3 401.7h0M549.1 435.4h0M459.2 513.4h0M592.3 415.3h0M629.8 367.6h0M607.9 382.6h0M640.2 378.8h0M635.7 375.3h0M597.4 393.1h0M514.7 463h0M541.4 439.4h0M639 374.4h0M594.8 404.3h0M602.1 406.3h0M631.4 370h0M627 390.8h0M607.1 399.2h0M615.9 383.3h0M423.6 539.1h0M643.4 375.8h0M644.1 373.3h0M600.7 393.3h0M536.1 451.7h0M621 390.8h0M631.6 384.8h0M532.5 442.9h0M580.8 420h0M641.2 365.9h0M517.4 468.5h0M603.2 394.6h0M627.7 374.5h0M629.4 385.8h0M611.8 404.2h0M598.7 404h0M578.9 399.4h0M584.5 403.3h0M592.9 410.5h0M538.8 452.6h0M597.8 406.7h0M596.8 399.7h0M606.7 391.1h0M621.3 389.4h0M596.2 393.6h0M536.9 452.2h0M477 499.1h0M580.7 414h0M436.3 529.2h0M420.4 544.2h0M632.7 366.1h0M573.9 409.1h0M635.3 391.2h0M548.7 448.6h0M644.3 361.7h0M456.8 510.6h0M603.4 405.6h0M640.1 384.2h0M430.3 539.2h0M618 384.3h0M601.5 390.5h0M639.3 376.6h0M594.6 409.9h0M519 463.9h0M423.4 544.2h0M642.2 365.1h0M577.4 410h0M623.4 378.2h0M593.2 406.9h0M633.3 391.2h0M622 399.2h0M628.3 386.7h0M579.3 426.8h0M622 383.7h0M644.4 363.9h0M624.5 379.2h0M430.8 539.7h0M597.2 392.4h0M616.2 387.1h0M614 380.3h0M603.5 404.2h0M446.7 520.8h0M587.9 406.1h0M610.9 398.8h0M497.7 478.2h0M457.5 509.3h0M434.2 528.4h0M630.7 377.5h0M626.1 370.6h0M505.3 476.5h0M618.5 386.5h0M594.1 416.1h0M620.4 385.7h0M610.8 386.5h0M605.1 392.3h0M589.4 405.3h0M618.2 399.4h0M628 381.9h0M548.1 445.7h0M615.1 366.6h0M529.4 461.4h0M581.8 416h0M577.7 420.5h0M422.3 537.1h0M510.5 468.3h0M487.4 492.7h0M631.1 379.3h0M596.7 405.2h0M568.2 412.4h0M457 511.5h0M526 453.4h0M596 394.9h0M552.6 442h0M467.9 505.4h0M589.7 398.4h0M424.7 546h0M580.8 413.6h0M627.9 385.4h0M632.9 362h0M579 422h0M585.9 409.9h0M589.6 396.4h0M635.5 378.8h0M488.2 487.1h0M596.2 403.7h0M598.3 392.7h0M628.1 392h0M623.6 388.3h0M642.3 374.6h0M647.4 363.7h0M608.4 396.7h0M629.5 381.5h0M621.7 387.4h0M648.1 365.9h0M609.1 390.4h0M570.7 416.4h0M626.2 381.1h0M621.3 384h0M620.5 389.6h0M576 409.7h0M643.7 362.1h0M591.3 403.6h0M574.8 417.7h0M568.6 418.9h0M632.2 374.2h0M607.1 402.2h0M574.3 417.4h0M591.2 413.9h0M598 401.4h0M642.2 360.7h0M611 395.6h0M540.3 448.1h0M631.7 388.2h0M439.7 530.2h0M423.1 540.3h0M620.5 382.1h0M557.6 433.6h0M607 386.9h0M617.3 389.3h0M598 395.1h0M566 422.8h0M620.1 382.6h0M514 459.9h0M589.6 405.9h0M574.5 414.6h0M615.8 381.9h0M628.4 378.8h0M600 405.9h0M479.6 497.3h0M527.1 452.8h0M519.9 463.9h0M582.5 422.9h0M499.6 480.6h0M591.4 410.4h0M613.1 393.8h0M624.2 371.5h0M642.4 371.6h0M621.7 371.8h0M607.1 400.4h0M574.4 414h0M619.8 393.6h0M525.3 460h0M465.4 507.2h0M632.2 378.9h0M582.3 419.4h0M590.5 406.7h0M546.6 429h0M601.4 394.6h0M560.7 430h0M476.6 493.2h0M465.6 512.3h0M590.4 415.6h0M578.9 420h0M631.1 366h0M621.1 386.1h0M600.6 387.8h0M497.3 488.1h0M479.8 498.6h0M612.5 401.7h0M606.9 403.4h0M498 475.7h0M622.9 378.5h0M420.8 544.1h0M590.2 407.3h0M605.8 398.5h0M640.8 373.5h0M625.4 373.5h0M527 452.8h0M597.3 409.7h0M482.6 497.2h0M618.2 394.3h0M504.6 475.9h0M618.5 383.8h0M458.2 511.2h0M420.4 539.4h0M629.9 389.6h0M575 421h0M554.9 440.4h0M598.8 392.6h0M614.1 391.2h0M649.3 369.5h0M588.2 403h0M594.2 406.4h0M520 465.9h0M632.6 379.1h0M592.2 403.6h0M535.7 450.7h0M584.4 402.2h0M595.7 401.8h0M617.3 398.6h0M602.6 399.1h0M609.8 406.1h0M583 405.5h0M482.8 492.6h0M618.3 392.1h0M598.7 396h0M650.3 362.6h0M599.7 403.7h0M640.7 372h0M628.1 376.4h0M604 401.4h0M631.8 363.7h0M576.7 409h0M596 410.3h0M581.3 418.3h0M625.7 375.7h0M614.6 383.6h0M640.8 369.3h0M623.6 378.2h0M457.7 519.9h0M486 483.6h0M566.5 422.5h0M616.4 388.5h0M618.5 375h0M437.5 531.9h0M580.4 420.7h0M586.9 400.2h0M633.4 376h0M636.3 362.4h0M647.1 375.7h0M617.7 374.8h0M580.3 405.7h0M617.5 383.2h0M601.2 394.5h0M427.6 539h0M422.5 544.2h0M603.9 411h0M564.4 419.9h0M603.7 388.1h0M435 530.9h0M500.6 488.7h0M575.9 414.2h0M616.3 389.2h0M579.6 411.7h0M624.7 386.7h0M575.4 435h0M557.2 433.5h0M641.8 374h0M609.8 394h0M590.5 388.4h0M581.6 422h0M626.8 378.7h0M621.8 375.7h0M486.1 483.2h0M554.9 437.6h0M573.5 420.4h0M595.8 412.6h0M565.1 431.2h0M618.7 385.7h0M594.2 411.4h0M566.8 420.3h0M590.3 397.6h0M608 394.9h0M606 387.1h0M427.8 534.1h0M584.6 411.8h0M625.8 378.7h0M637.6 372.7h0M617.2 382.3h0M468.8 501.5h0M598.3 402.5h0M608.6 388.6h0M474.2 501h0M468.7 510h0M520.6 461.3h0M625.1 382.2h0M473.9 504.8h0M461.4 503.5h0M633.2 372.7h0M559.9 445.5h0M642.9 372.4h0M639.9 367.3h0M469.8 506h0M580.3 416.9h0M628 389.9h0M441.5 532.2h0M629.5 389.6h0M536.4 451.7h0M595.5 405.1h0M604.4 394h0M598.7 403.1h0M613.5 383.8h0M593.8 400.9h0M642.7 360.9h0M582.6 417.5h0M624.4 380.6h0M564.3 424h0M611.4 385.8h0M609.2 390.5h0M577.8 418.8h0M643.5 365.3h0M640.8 382.6h0M445.7 521.4h0M585.6 415.7h0M645 359.8h0M622.2 382h0M603.9 405.6h0M567.8 413.7h0M428.8 533.7h0M630.2 390.1h0M632.5 373.7h0M589.1 407.1h0M644.6 372.3h0M474.6 498.8h0M627.5 369.2h0M595.5 406h0M585.6 408h0M592.4 408.1h0M490.5 485.5h0M505.7 476.9h0M554.9 437.2h0M624 382.1h0M544.7 441.6h0M606.6 402.5h0M627.4 376.2h0M640.2 376.8h0M461.3 509.1h0M633.3 383.5h0M597.9 389h0M455.3 512.8h0M622.8 383.5h0M635.7 379h0M642.3 361.7h0M565.9 435.6h0M538.3 458.8h0M610.6 392.1h0M617.3 375h0M604.4 392.3h0M610.8 380.7h0M606.7 391.5h0M635.7 361.2h0M459.6 511.9h0M614.1 399.2h0M459.1 511.9h0M455 519.4h0M551.3 437.6h0M566.7 419.3h0M441.7 524.5h0M584.9 398.4h0M554 440.6h0M576.9 401.3h0M430.4 535.2h0M608.3 386.9h0M602.8 389.8h0M414.8 542h0M636.6 374h0M594.3 403.7h0M628.3 379.3h0M623.9 381.2h0M622.8 380.5h0M576.1 422.1h0M615.7 379.9h0M437 529.1h0M581 410h0M591.7 402.8h0M637.7 366.6h0M600.2 396.9h0M565.9 427h0M478.9 498.1h0M614.3 395h0M563.2 436.8h0M635.2 379.6h0M621.7 377.9h0M637.2 369.9h0M601.5 397.8h0M629.5 383.4h0M416.3 541.7h0M598.1 391.8h0M624.2 380.8h0M569.1 418.1h0M597.5 398.9h0M565.6 421.8h0M612.3 387.1h0M626.8 380.4h0M611.2 390.7h0M603.6 398.9h0M565.7 423.7h0M593.5 409.1h0M611.7 391.6h0M639.3 376h0M621.5 380.9h0M593.9 411.6h0M603 397.5h0M642.3 368.8h0M562.5 426.2h0M608.9 388.1h0M621.5 385.4h0M590.9 409.5h0M605.3 401.9h0M531.3 463.3h0M624 383.4h0M497.2 488.6h0M597.9 404.9h0M419.5 541.4h0M599.6 393.8h0M610.6 391.2h0M586 402.4h0M573.1 420.6h0M608.3 398.8h0M639.8 368.4h0M637.2 356.5h0M519 463.8h0M606.3 402.5h0M636.1 364.2h0M572.4 420.1h0M534.1 456.8h0M585.2 411.7h0M606.5 392.9h0M614.5 394.5h0M601.3 395.3h0M592.8 408.8h0M604.4 402.6h0M557.4 432.2h0M633.2 375.5h0M625.3 373.7h0M571.4 424h0M573.1 403.7h0M593.2 406.2h0M604.9 382.4h0M569.8 414.8h0M606.1 394.9h0M574.8 423.5h0M503.5 476.8h0M606.2 406.4h0M582.1 407.2h0M614.5 381h0M631.8 370.7h0M635 367.2h0M635.1 376.2h0M614.2 377.9h0M525.9 454.3h0M526.9 456.1h0M597.2 390.3h0M597 411.9h0M551.1 449.3h0M617.9 382.4h0M602.9 392.9h0M487.1 489.2h0M637.2 361.7h0M641.3 367.2h0M427.7 542.7h0M566.9 438.5h0M614.5 380.5h0M636.9 368.8h0M639.3 369.5h0M547.2 441.8h0M552.6 432.5h0M524.7 454.7h0M611 387.3h0M610.4 390.1h0M588.7 406.8h0M468.4 504.6h0" stroke="#184b87" stroke-opacity="0.95"/>
<path d="M649.3 352.6h0M658.5 354.2h0M654.2 358.5h0M667.9 344.4h0M651.9 365.7h0M659.3 353h0M654.3 355.6h0M658.5 352.2h0M662.4 350.5h0M669.9 342.1h0M665.6 347h0M667.5 347.3h0M656.3 351.1h0M662 349.6h0M658.6 349.1h0M662 354h0M667.8 344.8h0M655.1 351.4h0M669 343.8h0M661 352.6h0M655.9 351.5h0M659.9 350.7h0M667.3 345.2h0M661.1 348.7h0M665.7 347.1h0M649.6 357h0M657.7 353.1h0M665.3 347.7h0M648.6 363.9h0M653.8 354.1h0M660.7 351.8h0M655.3 357.2h0M664.8 349h0M658.9 351.3h0M669.9 348h0M671.2 342.6h0M660 352h0M669 347.3h0M660.1 352.4h0M648.4 353.7h0M649 359.4h0M669.2 346.1h0M652.9 355.2h0M653.5 353.4h0M648 352.2h0M655.1 351.8h0M663.4 349.5h0M670.2 344.7h0M648.2 351.5h0M668.8 345.6h0M654 357.8h0M666.7 346.1h0M654.9 353.7h0M663 350h0M661.6 352.1h0M651.6 358.1h0M643.4 358.5h0M650.7 356.6h0M653.3 352.6h0M668.5 344.6h0M670.5 345.2h0M658.6 354h0M660.5 348.4h0M669.3 346.8h0M648.5 358.9h0M664.9 345.5h0M646.1 361.4h0M659.5 355.3h0M672.5 343.9h0M657.2 349.4h0M667.2 348.5h0M666.6 346.8h0M666.5 345.9h0M670.6 343.4h0M668.7 345.4h0M651.2 355.1h0M658.2 349.9h0M660.6 354.4h0M643.7 353.9h0M656.9 354.2h0M654.8 352.4h0M655.1 351.7h0M663.8 349.4h0M664.7 348.6h0M665.2 345.7h0M663.8 350.3h0M672.7 345.6h0M649.2 359.8h0M650.2 350.3h0M663.1 347.1h0M665.2 348.3h0M653.8 356.6h0M644 362.1h0M667.1 346.7h0M659.2 349.9h0M669.4 345.4h0M663.2 347.1h0M653 352.3h0M670.3 347h0M653.5 353.8h0M668.6 347.2h0M665.8 349.3h0M653 359.8h0M650.2 354.1h0M651.4 357.1h0M666.7 344.5h0M663 348.6h0" stroke="#cc4c02" stroke-opacity="0.72"/>
<path d="M644.1 354.6h0M662 350.8h0M648 355.7h0M647.9 361h0M664.8 356.4h0M651.4 353.5h0M652.5 352.5h0M660.9 346.2h0M663.4 350.1h0M669.1 344.8h0M660.6 349.6h0M667.4 347.3h0M658.1 356.5h0M645.3 357.1h0M654.4 355.6h0M664.3 353h0M664.7 344.8h0M640.6 352.5h0M654.3 351.5h0M671 345.1h0M657.1 349h0M670 344.5h0M663.1 345.6h0M650.7 356.1h0M672 346.6h0M659.4 352.6h0M654.9 354.3h0M662.7 350.1h0M646.9 349.7h0M664.9 349.3h0M657.8 361.2h0M670.3 345.9h0M666.5 347.5h0M662 349.4h0M667.4 345h0M667.1 345.1h0M662 348.6h0M668 344.7h0M669.4 346.6h0M664.5 347.8h0M662.2 346.7h0M658.6 348.9h0M654.7 354.4h0M671.6 343h0M658.1 352.3h0M669 345.1h0M658.9 349.9h0M668.7 345.2h0M658.8 353.9h0M656.8 351.7h0M659.8 353.4h0M667 344h0M654.9 361.5h0M665.4 345.4h0M651.9 357.5h0M661.5 349.3h0M657.7 349.2h0M659.5 347.5h0M666.1 350.4h0M668.1 345.4h0M651 354.8h0M664.4 347h0M667.8 342.9h0M666.7 347.1h0M662.1 351.9h0M655.8 352.5h0M669.7 343.8h0M669.7 348h0M662.1 354.3h0M661 349.3h0M665.5 348.9h0M662.3 348.6h0M658.9 349.4h0M660.8 352.7h0M666.7 347.4h0M656.5 350.7h0M665 345.1h0M666.7 347.4h0M655.9 354.9h0M666.3 345.8h0M651.4 351.1h0M667.4 344.7h0M671.9 344.2h0M658.4 357.4h0M666.3 343.4h0M660.1 347.5h0M662.5 349h0M664.5 354.1h0M671 343.9h0M662.8 351.9h0M660.5 349.5h0M669.6 343.5h0M670.7 344.4h0M656.8 356.2h0M666.3 347.6h0M659.1 349.9h0M663.3 346.5h0M661.9 350.6h0M645.4 353.6h0M647.9 358.3h0M663.5 348.3h0M642.4 352.5h0M665.5 346.8h0M659.3 352.4h0M658 351.9h0M651.2 354.1h0M668.7 347.7h0" stroke="#cc4c02" stroke-opacity="0.72"/>
<path d="M662.8 350.7h0M656.3 354.1h0M644.3 353.7h0M653.4 356.9h0M663.7 353.2h0M663.4 350.3h0M657.9 349h0M669.8 352.4h0M655.9 351.7h0M657.6 350.2h0M656.7 355.5h0M642 356.1h0M666.2 345.9h0M667.7 344h0M660.6 345.9h0M667.2 345.1h0M665 347h0M671.8 341.8h0M663.2 346.8h0M655.7 353.3h0M656.3 359.4h0M658.7 357.6h0M659.8 350.1h0M664.5 346.6h0M666.7 345.3h0M670.2 344.1h0M660.1 348.5h0M663 351.4h0M653.4 350.8h0M668.9 344.8h0M661.3 352.6h0M656.7 352.2h0M657.2 352.1h0M669.4 344.5h0M658.9 353.4h0M667.9 344.2h0M663.7 347.2h0M670 342.5h0M661.2 355.1h0M647.5 354.2h0M665.7 347.5h0M668 344.9h0M661.7 348h0M666.9 346.7h0M670.4 344.1h0M658 351.7h0M664.2 347.9h0M657.2 355.8h0M647.5 355.4h0M656.6 353h0M668.2 345.1h0M660.6 352.5h0M662.8 349.7h0M652.7 359.7h0M665.5 350.5h0M654.9 352.6h0M654.9 354.4h0M647.5 358.7h0M665.8 346.2h0M663 344.3h0M664.9 344.7h0M660.1 348.4h0M649 356.1h0M664.7 350.6h0M670.8 345.7h0M653 364.7h0M661.5 347.8h0M655 358.8h0M653.6 359.5h0M666.9 342.9h0M667.9 346h0M672.3 345.8h0M663.6 351h0M664.8 345.3h0M653 351.3h0M665.2 346.7h0M671.7 346h0M651.3 359.7h0M661.2 349.6h0M655.5 356h0M667.3 345.4h0M650.3 354.5h0M659.2 352.6h0M652.6 349.2h0M661.7 351.8h0M665.8 353h0M660.3 350.9h0M657.4 352.4h0M647.5 361.6h0M670.9 343.4h0" stroke="#cc4c02" stroke-opacity="0.72"/>
<path d="M662.4 345.1h0M661.6 345.9h0M648 357.5h0M650 359h0M644.9 355.8h0M662.7 349.1h0M654.2 356.1h0M666 347.3h0M659.9 353.4h0M658.4 350.4h0M663.2 350.4h0M661.9 347.6h0M661.2 351.1h0M665.9 350.4h0M651.4 359.6h0M668.3 345.3h0M658.6 353.5h0M660 351h0M667.4 347.4h0M655.8 352.7h0M665.1 345.5h0M665.3 348.9h0M641 357.2h0M668.1 350.8h0M652.2 360.2h0M667.5 348.5h0M659.1 350.6h0M666.7 345.4h0M663.3 347.5h0M666.5 343.8h0M662.6 348.4h0M664 349.8h0M664 347.6h0M669.8 346.1h0M659.4 350.9h0M659.7 353.4h0M659.7 348.6h0M665.4 352.8h0M666 346.8h0M657.6 353h0M660.9 346.1h0M643.5 355.8h0M652.4 352.5h0M656.3 349.8h0M673 345.6h0M663.4 349.2h0M671.3 344.1h0M664.9 350.7h0M668.3 347.6h0M660.5 352.3h0M658.2 348.5h0M670.5 343.7h0M671.8 344h0M664.3 347.3h0M648.6 355.7h0M661.4 353.7h0M651.8 349.2h0M659.5 355.9h0M664.2 347h0M658.3 351.8h0M661.5 351.8h0M667.3 344.2h0M661.9 351h0M661.5 349.4h0M663 351.6h0M661.5 351.3h0M669.9 346.1h0M663 347.6h0M667.9 343.4h0M671 342.7h0M645.3 353.8h0M669 347.1h0M668.1 346.7h0M662.9 350.7h0M653 350.8h0M659.7 349.6h0M671.6 344.8h0M646 364.8h0M662.7 351.3h0M660.8 346.5h0M665.7 346.4h0M661.1 349.3h0M655.5 352.4h0M660.3 351.8h0M660.8 350.7h0M668.7 347.2h0M667.2 347.1h0M665.4 344.9h0M653.6 352.7h0M659.5 349.6h0M663.2 347.7h0M664.7 348.8h0M658.3 350.5h0M654.2 361.6h0M657.6 354.9h0M642.8 355.9h0M662.9 350.3h0M658.1 353.1h0M661.3 355.4h0M658.3 350.3h0M666.8 346.1h0M653.6 352.6h0M670.8 345.2h0M665.1 346.5h0M672.2 343.6h0M663.5 353h0M665.2 347.2h0M667.1 347.2h0M651.1 353.5h0M668 343.8h0M651.4 355.8h0M647.1 355.7h0M659.8 347.6h0M671.1 344.2h0M660.1 347.1h0M666.3 345.8h0M652.8 352.8h0M669.2 344.6h0M654.9 353.8h0M662.1 347.7h0M660.5 350.2h0M649.7 351.2h0M647.4 355.5h0M663.2 346.2h0M670.1 342h0M662.3 348.6h0M652.4 353.1h0M655.6 359.1h0M655.4 354.3h0" stroke="#cc4c02" stroke-opacity="0.72"/>
<path d="M653.7 354.7h0M659.2 350.1h0M662.4 350.3h0M654.8 355.1h0M646.7 352.7h0M669.5 350.5h0M647.7 356.3h0M668 346.6h0M661.8 352.5h0M656.3 351.8h0M667.6 346.4h0M660.3 347.7h0M660.4 348.6h0M666.6 346.4h0M660.4 353.7h0M668.9 344h0M666.5 348.7h0M670 344.4h0M667.4 344.8h0M656.8 350.8h0M649.5 351.2h0M672.1 342.1h0M653.2 360.4h0M663.7 347.2h0M664.9 349.1h0M657.4 351.6h0M663.6 352.5h0M654 352.3h0M654.5 355.8h0M662.1 356.4h0M651.3 354.2h0M668 346h0M649.8 354.5h0M666.1 348.8h0M654 354h0M646.2 366.2h0M663.2 351.4h0M655.5 350h0M649.6 363.4h0M655.5 357.1h0M664 348.3h0M662.7 350.6h0M662.7 351.7h0M658 350.7h0M667.8 347.2h0M656.9 356.6h0M665.7 345.6h0M648.9 355.3h0M668.8 343.1h0M671.1 343.6h0M661 350.1h0M669.2 343.7h0M664 346.1h0M644.4 355.4h0M659.7 351.6h0M667.4 348.8h0M649.3 355.3h0M671.7 343.4h0M651.1 355.8h0M665.3 343.8h0M667.6 351.1h0M654 356.9h0M665.8 347.8h0M665.8 348.7h0M662.9 351.8h0M669.5 344.1h0M669.2 344.2h0M651 360.9h0M672.9 343.1h0M639.1 356.2h0M668.4 346.3h0M657.7 357.7h0M669.2 344.8h0M651.1 354.3h0M659.1 349.6h0M648.4 360.5h0M668.1 347.1h0M664.8 347.7h0M666.2 344h0M665 348.8h0M666.1 345.6h0M651.4 356.2h0M656.9 360.2h0M667.3 347h0M649.6 355.2h0M671.3 343.8h0M658.6 350.4h0M663.4 348.6h0M652.8 357h0M665.7 344h0M670.1 346.1h0M659.4 349.9h0M669.7 342.5h0M671 343.9h0M672 343.7h0M667.6 344.4h0M670.3 345.1h0M668.4 345.5h0M672.3 345.5h0" stroke="#cc4c02" stroke-opacity="0.72"/>
<path d="M418.7 341.5h0M417.2 342.5h0M418.2 341.9h0M421.1 343.5h0M419.9 343.4h0M418.5 341.4h0M419 343.1h0M417.9 344.1h0M462.2 342.2h0M625.6 344.7h0M634.1 342.6h0M635.4 346.7h0" stroke="#cc4c02" stroke-opacity="0.72"/>
<path d="M419.8 343.8h0M420.6 342.7h0M417.7 341.6h0M418.4 342.4h0M418.8 342.3h0M417.3 343.3h0M420.2 343.8h0M420.5 346.1h0M418.4 343.2h0M419 342.5h0M417.7 344.3h0M418.9 344h0M426.5 342.2h0M614.6 347.2h0" stroke="#cc4c02" stroke-opacity="0.72"/>
<path d="M421.7 342.9h0M420.5 345.7h0M417.9 345.1h0M419.4 347.9h0M419.9 348.4h0M417.4 343.6h0M417.6 341.3h0M419.6 341.8h0M440.4 342.2h0M494.3 346.3h0M417 349.9h0M629.2 341.5h0M638.4 344.7h0M641.8 342.6h0" stroke="#cc4c02" stroke-opacity="0.72"/>
<path d="M418.3 341.6h0M419.7 343.3h0M417.2 345.9h0M420.3 342.1h0M418.1 342.1h0M417.3 341.6h0M420.2 343.7h0M418.6 341.6h0M418.8 343.9h0M420.6 342h0M418.1 342.4h0M417.1 344.6h0M417.7 344.2h0M421.7 344.2h0M420.7 342.2h0M417.1 341.3h0M417.1 343.1h0M419.2 344.2h0M421.9 348.6h0M417.8 343.2h0M423.2 345.8h0M423.1 345.4h0M436.2 344.2h0M477.1 342.2h0M553.1 344.7h0" stroke="#cc4c02" stroke-opacity="0.72"/>
</g>
<rect x="54.75" y="20.40" width="277.35" height="224.15" fill="none" stroke="#3c3c3c" stroke-width="1.35"/>
<path d="M65.08 244.55v6.9M116.46 244.55v6.9M167.85 244.55v6.9M219.23 244.55v6.9M270.62 244.55v6.9M322.00 244.55v6.9M54.75 236.97h-6.8M54.75 195.31h-6.8M54.75 153.65h-6.8M54.75 111.98h-6.8M54.75 70.32h-6.8M54.75 28.66h-6.8" stroke="#3c3c3c" stroke-width="1.35" fill="none"/>
<text x="65.08" y="267.35" text-anchor="middle" class="tk">0</text>
<text x="116.46" y="267.35" text-anchor="middle" class="tk">2</text>
<text x="167.85" y="267.35" text-anchor="middle" class="tk">4</text>
<text x="219.23" y="267.35" text-anchor="middle" class="tk">6</text>
<text x="270.62" y="267.35" text-anchor="middle" class="tk">8</text>
<text x="322.00" y="267.35" text-anchor="middle" class="tk">10</text>
<text transform="translate(40.35 236.97) rotate(-90)" text-anchor="middle" class="tk">0</text>
<text transform="translate(40.35 195.31) rotate(-90)" text-anchor="middle" class="tk">2</text>
<text transform="translate(40.35 153.65) rotate(-90)" text-anchor="middle" class="tk">4</text>
<text transform="translate(40.35 111.98) rotate(-90)" text-anchor="middle" class="tk">6</text>
<text transform="translate(40.35 70.32) rotate(-90)" text-anchor="middle" class="tk">8</text>
<text transform="translate(40.35 28.66) rotate(-90)" text-anchor="middle" class="tk">10</text>
<text x="192.62" y="292.65" text-anchor="middle" class="lab">Estimated Mean</text>
<text transform="translate(15.15 132.47) rotate(-90)" text-anchor="middle" class="lab">True Mean</text>
<text x="192.62" y="16.90" text-anchor="middle" class="ttl">a</text>
<rect x="406.65" y="20.40" width="277.35" height="224.15" fill="none" stroke="#3c3c3c" stroke-width="1.35"/>
<path d="M416.98 244.55v6.9M468.36 244.55v6.9M519.75 244.55v6.9M571.13 244.55v6.9M622.52 244.55v6.9M673.90 244.55v6.9M406.65 236.97h-6.8M406.65 195.31h-6.8M406.65 153.65h-6.8M406.65 111.98h-6.8M406.65 70.32h-6.8M406.65 28.66h-6.8" stroke="#3c3c3c" stroke-width="1.35" fill="none"/>
<text x="416.98" y="267.35" text-anchor="middle" class="tk">0</text>
<text x="468.36" y="267.35" text-anchor="middle" class="tk">2</text>
<text x="519.75" y="267.35" text-anchor="middle" class="tk">4</text>
<text x="571.13" y="267.35" text-anchor="middle" class="tk">6</text>
<text x="622.52" y="267.35" text-anchor="middle" class="tk">8</text>
<text x="673.90" y="267.35" text-anchor="middle" class="tk">10</text>
<text transform="translate(392.25 236.97) rotate(-90)" text-anchor="middle" class="tk">0</text>
<text transform="translate(392.25 195.31) rotate(-90)" text-anchor="middle" class="tk">2</text>
<text transform="translate(392.25 153.65) rotate(-90)" text-anchor="middle" class="tk">4</text>
<text transform="translate(392.25 111.98) rotate(-90)" text-anchor="middle" class="tk">6</text>
<text transform="translate(392.25 70.32) rotate(-90)" text-anchor="middle" class="tk">8</text>
<text transform="translate(392.25 28.66) rotate(-90)" text-anchor="middle" class="tk">10</text>
<text x="544.53" y="292.65" text-anchor="middle" class="lab">Estimated Mean</text>
<text transform="translate(367.05 132.47) rotate(-90)" text-anchor="middle" class="lab">True Mean</text>
<text x="544.53" y="16.90" text-anchor="middle" class="ttl">b</text>
<rect x="54.75" y="332.80" width="277.35" height="224.60" fill="none" stroke="#3c3c3c" stroke-width="1.35"/>
<path d="M65.08 557.40v6.9M116.46 557.40v6.9M167.85 557.40v6.9M219.23 557.40v6.9M270.62 557.40v6.9M322.00 557.40v6.9M54.75 548.60h-6.8M54.75 506.98h-6.8M54.75 465.36h-6.8M54.75 423.74h-6.8M54.75 382.12h-6.8M54.75 340.50h-6.8" stroke="#3c3c3c" stroke-width="1.35" fill="none"/>
<text x="65.08" y="579.60" text-anchor="middle" class="tk">0.0</text>
<text x="116.46" y="579.60" text-anchor="middle" class="tk">0.2</text>
<text x="167.85" y="579.60" text-anchor="middle" class="tk">0.4</text>
<text x="219.23" y="579.60" text-anchor="middle" class="tk">0.6</text>
<text x="270.62" y="579.60" text-anchor="middle" class="tk">0.8</text>
<text x="322.00" y="579.60" text-anchor="middle" class="tk">1.0</text>
<text transform="translate(40.35 548.60) rotate(-90)" text-anchor="middle" class="tk">0.0</text>
<text transform="translate(40.35 506.98) rotate(-90)" text-anchor="middle" class="tk">0.2</text>
<text transform="translate(40.35 465.36) rotate(-90)" text-anchor="middle" class="tk">0.4</text>
<text transform="translate(40.35 423.74) rotate(-90)" text-anchor="middle" class="tk">0.6</text>
<text transform="translate(40.35 382.12) rotate(-90)" text-anchor="middle" class="tk">0.8</text>
<text transform="translate(40.35 340.50) rotate(-90)" text-anchor="middle" class="tk">1.0</text>
<text x="192.62" y="604.40" text-anchor="middle" class="lab">Estimated BPMV Proportion</text>
<text transform="translate(15.15 445.10) rotate(-90)" text-anchor="middle" class="lab">True BPMV Proportion</text>
<text x="192.62" y="329.30" text-anchor="middle" class="ttl">c</text>
<rect x="406.65" y="332.80" width="277.35" height="224.60" fill="none" stroke="#3c3c3c" stroke-width="1.35"/>
<path d="M416.98 557.40v6.9M468.36 557.40v6.9M519.75 557.40v6.9M571.13 557.40v6.9M622.52 557.40v6.9M673.90 557.40v6.9M406.65 548.60h-6.8M406.65 506.98h-6.8M406.65 465.36h-6.8M406.65 423.74h-6.8M406.65 382.12h-6.8M406.65 340.50h-6.8" stroke="#3c3c3c" stroke-width="1.35" fill="none"/>
<text x="416.98" y="579.60" text-anchor="middle" class="tk">0.0</text>
<text x="468.36" y="579.60" text-anchor="middle" class="tk">0.2</text>
<text x="519.75" y="579.60" text-anchor="middle" class="tk">0.4</text>
<text x="571.13" y="579.60" text-anchor="middle" class="tk">0.6</text>
<text x="622.52" y="579.60" text-anchor="middle" class="tk">0.8</text>
<text x="673.90" y="579.60" text-anchor="middle" class="tk">1.0</text>
<text transform="translate(392.25 548.60) rotate(-90)" text-anchor="middle" class="tk">0.0</text>
<text transform="translate(392.25 506.98) rotate(-90)" text-anchor="middle" class="tk">0.2</text>
<text transform="translate(392.25 465.36) rotate(-90)" text-anchor="middle" class="tk">0.4</text>
<text transform="translate(392.25 423.74) rotate(-90)" text-anchor="middle" class="tk">0.6</text>
<text transform="translate(392.25 382.12) rotate(-90)" text-anchor="middle" class="tk">0.8</text>
<text transform="translate(392.25 340.50) rotate(-90)" text-anchor="middle" class="tk">1.0</text>
<text x="544.53" y="604.40" text-anchor="middle" class="lab">Estimated BPMV Proportion</text>
<text transform="translate(367.05 445.10) rotate(-90)" text-anchor="middle" class="lab">True BPMV Proportion</text>
<text x="544.53" y="329.30" text-anchor="middle" class="ttl">d</text>
<rect x="576.4" y="511.7" width="107.6" height="45.7" fill="#fff" stroke="#3c3c3c" stroke-width="1.35"/>
<circle cx="587.8" cy="526.4" r="2.9" fill="#e58a55"/>
<circle cx="587.8" cy="542.0" r="2.9" fill="#3f6c9c"/>
<text x="601.0" y="532.4" class="lg">PMV &gt; 90%</text>
<text x="601.0" y="547.3" class="lg">PMV &lt;= 90%</text>
</svg>
</body></html>
